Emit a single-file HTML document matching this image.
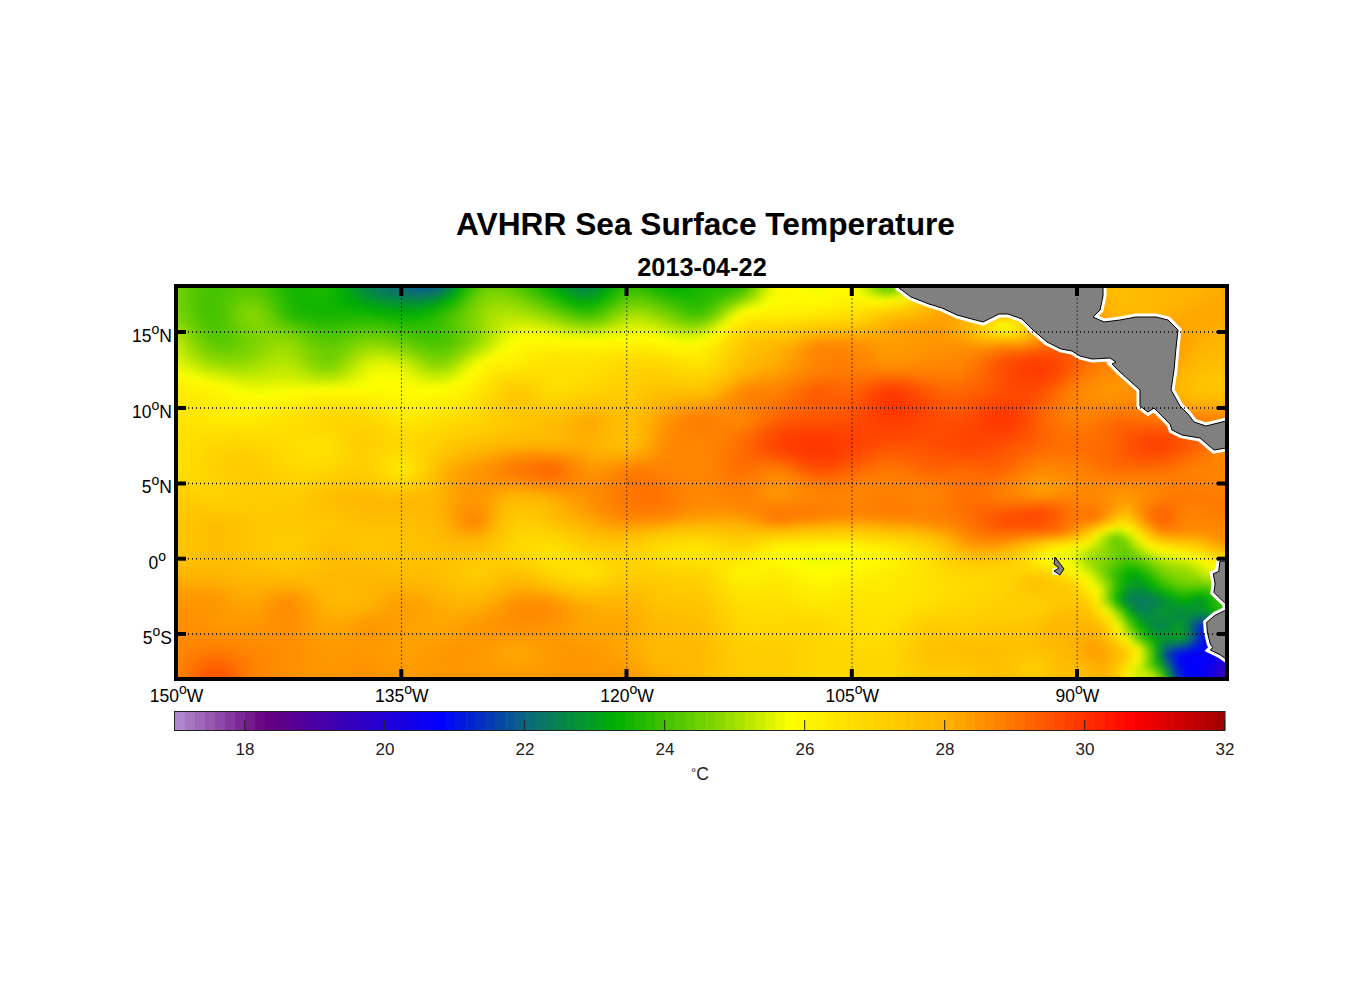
<!DOCTYPE html>
<html><head><meta charset="utf-8"><style>
html,body{margin:0;padding:0;background:#fff;}
body{width:1356px;height:1000px;position:relative;overflow:hidden;font-family:"Liberation Sans",sans-serif;color:#000;}
.t{position:absolute;white-space:nowrap;}
#title{left:0;width:1411px;top:202.3px;text-align:center;font-size:31.7px;font-weight:bold;line-height:44px;}
#date{left:0;width:1404px;top:248.5px;text-align:center;font-size:25.3px;font-weight:bold;line-height:36px;}
#fieldclip{position:absolute;left:178px;top:288px;width:1047px;height:389px;overflow:hidden;}
#field{position:absolute;left:-10px;top:-10px;width:1068px;height:410px;filter:blur(3px);}
#field i{position:absolute;left:0;width:1068px;height:5px;display:block;}
.yl{position:absolute;right:1184px;font-size:17.5px;line-height:22px;white-space:nowrap;}
.xl{position:absolute;top:684.5px;width:100px;text-align:center;font-size:17.5px;line-height:22px;white-space:nowrap;}
.cl{position:absolute;top:738.5px;width:60px;text-align:center;font-size:17px;line-height:22px;color:#222;}
sup{font-size:14px;vertical-align:8.5px;line-height:0;}
#cbar{position:absolute;left:174.7px;top:712px;width:1050px;height:18px;background:linear-gradient(90deg,#b087cc 0.0px 10.0px,#a777c3 10.0px 20.0px,#9f68ba 20.0px 30.0px,#9658b1 30.0px 40.0px,#8d48a8 40.0px 50.0px,#8539a0 50.0px 60.0px,#7c2997 60.0px 70.0px,#74198e 70.0px 80.0px,#6b0985 80.0px 90.0px,#640083 90.0px 100.0px,#5e008a 100.0px 110.0px,#580091 110.0px 120.0px,#520099 120.0px 130.0px,#4c00a0 130.0px 140.0px,#4700a7 140.0px 150.0px,#4100ae 150.0px 160.0px,#3b00b6 160.0px 170.0px,#3500bd 170.0px 180.0px,#2f00c4 180.0px 190.0px,#2900cb 190.0px 200.0px,#2400d3 200.0px 210.0px,#1e00da 210.0px 220.0px,#1800e1 220.0px 230.0px,#1200e9 230.0px 240.0px,#0c00f0 240.0px 250.0px,#0600f7 250.0px 260.0px,#0100fe 260.0px 270.0px,#010bf1 270.0px 280.0px,#0217e2 280.0px 290.0px,#0323d2 290.0px 300.0px,#042fc3 300.0px 310.0px,#053bb4 310.0px 320.0px,#0647a4 320.0px 330.0px,#085395 330.0px 340.0px,#095f85 340.0px 350.0px,#0a6c76 350.0px 360.0px,#097468 360.0px 370.0px,#087c5a 370.0px 380.0px,#07844d 380.0px 390.0px,#058c3f 390.0px 400.0px,#049431 400.0px 410.0px,#039c24 410.0px 420.0px,#02a316 420.0px 430.0px,#01ab08 430.0px 440.0px,#05b200 440.0px 450.0px,#13b500 450.0px 460.0px,#20b900 460.0px 470.0px,#2dbd00 470.0px 480.0px,#3bc100 480.0px 490.0px,#48c500 490.0px 500.0px,#55c800 500.0px 510.0px,#63cc00 510.0px 520.0px,#70d000 520.0px 530.0px,#7dd400 530.0px 540.0px,#8bd800 540.0px 550.0px,#9bdd00 550.0px 560.0px,#abe300 560.0px 570.0px,#bce800 570.0px 580.0px,#ccee00 580.0px 590.0px,#dcf300 590.0px 600.0px,#edf900 600.0px 610.0px,#fdfe00 610.0px 620.0px,#fffa00 620.0px 630.0px,#fff400 630.0px 640.0px,#ffef00 640.0px 650.0px,#ffe900 650.0px 660.0px,#ffe400 660.0px 670.0px,#ffdf00 670.0px 680.0px,#ffda00 680.0px 690.0px,#ffd600 690.0px 700.0px,#ffd100 700.0px 710.0px,#ffcd00 710.0px 720.0px,#ffc800 720.0px 730.0px,#ffc400 730.0px 740.0px,#ffbf00 740.0px 750.0px,#ffbb00 750.0px 760.0px,#ffb600 760.0px 770.0px,#ffaf00 770.0px 780.0px,#ffa600 780.0px 790.0px,#ff9d00 790.0px 800.0px,#ff9400 800.0px 810.0px,#ff8a00 810.0px 820.0px,#ff8100 820.0px 830.0px,#ff7700 830.0px 840.0px,#ff6e00 840.0px 850.0px,#ff6400 850.0px 860.0px,#ff5b00 860.0px 870.0px,#ff5100 870.0px 880.0px,#ff4800 880.0px 890.0px,#ff3e00 890.0px 900.0px,#ff3500 900.0px 910.0px,#ff2b00 910.0px 920.0px,#ff2100 920.0px 930.0px,#ff1800 930.0px 940.0px,#ff0e00 940.0px 950.0px,#ff0400 950.0px 960.0px,#f90000 960.0px 970.0px,#ee0000 970.0px 980.0px,#e40000 980.0px 990.0px,#d90000 990.0px 1000.0px,#cf0000 1000.0px 1010.0px,#c50000 1010.0px 1020.0px,#ba0000 1020.0px 1030.0px,#b00000 1030.0px 1040.0px,#a50000 1040.0px 1050.0px);}
#degc{position:absolute;left:650px;width:100px;text-align:center;top:762px;font-size:17.5px;line-height:22px;color:#222;}
</style></head><body>
<div id="title" class="t">AVHRR Sea Surface Temperature</div>
<div id="date" class="t">2013-04-22</div>
<div id="fieldclip"><div id="field"><i style="top:0px;background:linear-gradient(90deg,#6fd000 0px,#6fd000 10px,#5ecb00 20px,#4fc700 30px,#45c400 40px,#43c300 50px,#49c500 60px,#51c700 70px,#54c800 80px,#4ec600 90px,#3dc100 100px,#29bc00 110px,#17b700 120px,#11b500 130px,#14b600 140px,#1ab700 150px,#19b700 160px,#05b100 170px,#02a218 180px,#059137 190px,#078251 200px,#087861 210px,#0a716e 220px,#0a6979 230px,#096184 240px,#085a8c 250px,#08598d 260px,#096480 270px,#077f55 280px,#02a219 290px,#22ba00 300px,#51c700 310px,#64cc00 320px,#66cd00 330px,#5fcb00 340px,#4fc700 350px,#3ac100 360px,#21b900 370px,#05b100 380px,#02a218 390px,#049333 400px,#068846 410px,#07854c 420px,#059038 430px,#02a414 440px,#11b500 450px,#2cbc00 460px,#2cbd00 470px,#1fb900 480px,#0db400 490px,#01b000 500px,#01b000 510px,#09b300 520px,#14b600 530px,#1ab700 540px,#1ab700 550px,#1eb900 560px,#2dbd00 570px,#57c900 580px,#90d900 590px,#d3f000 600px,#fffd00 610px,#fffb00 620px,#feff00 630px,#f0fa00 640px,#ebf800 650px,#f6fc00 660px,#fffd00 670px,#fffb00 680px,#eef900 690px,#b3e500 700px,#7bd300 710px,#5ecb00 720px,#7dd400 730px,#cfef00 740px,#ffef00 750px,#ffd500 760px,#ffc600 770px,#ffb900 780px,#ffaf00 790px,#ffaa00 800px,#ffb100 810px,#ffb800 820px,#ffbf00 830px,#ffc000 840px,#ffba00 850px,#ffb400 860px,#ffaa00 870px,#ffa300 880px,#ffa100 890px,#ffa300 900px,#ffa800 910px,#ffb200 920px,#ffb800 930px,#ffbc00 940px,#ffbf00 950px,#ffbe00 960px,#ffbb00 970px,#ffb800 980px,#ffb700 990px,#ffb600 1000px,#ffb700 1010px,#ffb600 1020px,#ffb500 1030px,#ffb100 1040px,#ffac00 1050px,#ffa900 1060px,#ffa900 1070px)"></i><i style="top:5px;background:linear-gradient(90deg,#6fd000 0px,#6fd000 10px,#5ecb00 20px,#4fc700 30px,#45c400 40px,#43c300 50px,#49c500 60px,#51c700 70px,#54c800 80px,#4ec600 90px,#3dc100 100px,#29bc00 110px,#17b700 120px,#11b500 130px,#14b600 140px,#1ab700 150px,#19b700 160px,#05b100 170px,#02a218 180px,#059137 190px,#078251 200px,#087861 210px,#0a716e 220px,#0a6979 230px,#096184 240px,#085a8c 250px,#08598d 260px,#096480 270px,#077f55 280px,#02a219 290px,#22ba00 300px,#51c700 310px,#64cc00 320px,#66cd00 330px,#5fcb00 340px,#4fc700 350px,#3ac100 360px,#21b900 370px,#05b100 380px,#02a218 390px,#049333 400px,#068846 410px,#07854c 420px,#059038 430px,#02a414 440px,#11b500 450px,#2cbc00 460px,#2cbd00 470px,#1fb900 480px,#0db400 490px,#01b000 500px,#01b000 510px,#09b300 520px,#14b600 530px,#1ab700 540px,#1ab700 550px,#1eb900 560px,#2dbd00 570px,#57c900 580px,#90d900 590px,#d3f000 600px,#fffd00 610px,#fffb00 620px,#feff00 630px,#f0fa00 640px,#ebf800 650px,#f6fc00 660px,#fffd00 670px,#fffb00 680px,#eef900 690px,#b3e500 700px,#7bd300 710px,#5ecb00 720px,#7dd400 730px,#cfef00 740px,#ffef00 750px,#ffd500 760px,#ffc600 770px,#ffb900 780px,#ffaf00 790px,#ffaa00 800px,#ffb100 810px,#ffb800 820px,#ffbf00 830px,#ffc000 840px,#ffba00 850px,#ffb400 860px,#ffaa00 870px,#ffa300 880px,#ffa100 890px,#ffa300 900px,#ffa800 910px,#ffb200 920px,#ffb800 930px,#ffbc00 940px,#ffbf00 950px,#ffbe00 960px,#ffbb00 970px,#ffb800 980px,#ffb700 990px,#ffb600 1000px,#ffb700 1010px,#ffb600 1020px,#ffb500 1030px,#ffb100 1040px,#ffac00 1050px,#ffa900 1060px,#ffa900 1070px)"></i><i style="top:10px;background:linear-gradient(90deg,#70d000 0px,#70d000 10px,#5fcb00 20px,#4fc700 30px,#45c400 40px,#44c300 50px,#4bc500 60px,#54c800 70px,#59c900 80px,#53c800 90px,#41c300 100px,#2cbc00 110px,#19b700 120px,#12b500 130px,#15b600 140px,#1ab700 150px,#19b700 160px,#07b200 170px,#02a514 180px,#049431 190px,#068649 200px,#087d59 210px,#097665 220px,#0a716e 230px,#0a6a78 240px,#09657f 250px,#09657f 260px,#0a6f71 270px,#068747 280px,#01a90d 290px,#2dbd00 300px,#5aca00 310px,#6ecf00 320px,#71d000 330px,#69ce00 340px,#5aca00 350px,#45c400 360px,#2bbc00 370px,#10b400 380px,#01a80d 390px,#049928 400px,#058e3c 410px,#068a41 420px,#04962e 430px,#01aa0a 440px,#1cb800 450px,#36bf00 460px,#38c000 470px,#2bbc00 480px,#18b700 490px,#0ab300 500px,#08b200 510px,#0eb400 520px,#19b700 530px,#1fb900 540px,#21ba00 550px,#28bb00 560px,#39c000 570px,#62cc00 580px,#9cdd00 590px,#dcf300 600px,#fffc00 610px,#fffa00 620px,#fffe00 630px,#f6fc00 640px,#f2fb00 650px,#fdfe00 660px,#fffb00 670px,#fff800 680px,#fafd00 690px,#c3eb00 700px,#8cd800 710px,#73d100 720px,#92da00 730px,#e4f600 740px,#ffe900 750px,#ffd100 760px,#ffc100 770px,#ffb500 780px,#ffa800 790px,#ffa200 800px,#ffa800 810px,#ffb300 820px,#ffb900 830px,#ffba00 840px,#ffb500 850px,#ffab00 860px,#ffa200 870px,#ff9b00 880px,#ff9900 890px,#ff9c00 900px,#ffa300 910px,#ffae00 920px,#ffb700 930px,#ffbb00 940px,#ffbe00 950px,#ffbe00 960px,#ffbb00 970px,#ffb800 980px,#ffb600 990px,#ffb600 1000px,#ffb600 1010px,#ffb600 1020px,#ffb400 1030px,#ffaf00 1040px,#ffab00 1050px,#ffa800 1060px,#ffa800 1070px)"></i><i style="top:15px;background:linear-gradient(90deg,#70d000 0px,#70d000 10px,#5ecb00 20px,#4fc700 30px,#46c400 40px,#46c400 50px,#50c700 60px,#5bca00 70px,#62cc00 80px,#5cca00 90px,#4ac500 100px,#32be00 110px,#1eb800 120px,#14b600 130px,#14b600 140px,#18b700 150px,#16b600 160px,#09b300 170px,#01a90c 180px,#039c23 190px,#059037 200px,#068845 210px,#078250 220px,#087d59 230px,#08795f 240px,#097763 250px,#087a5f 260px,#07834e 270px,#039928 280px,#0cb400 290px,#40c200 300px,#69ce00 310px,#7dd400 320px,#82d500 330px,#7bd300 340px,#6dcf00 350px,#59ca00 360px,#41c300 370px,#26bb00 380px,#09b300 390px,#02a612 400px,#039b25 410px,#049929 420px,#02a316 430px,#0cb400 440px,#31be00 450px,#4ac500 460px,#4ec600 470px,#42c300 480px,#2fbd00 490px,#1fb900 500px,#18b700 510px,#18b700 520px,#1fb900 530px,#27bb00 540px,#31be00 550px,#41c300 560px,#5aca00 570px,#80d500 580px,#b5e600 590px,#e9f800 600px,#fffb00 610px,#fff800 620px,#fffb00 630px,#fffe00 640px,#ffff00 650px,#fffb00 660px,#fff700 670px,#fff500 680px,#fffa00 690px,#e7f700 700px,#c2ea00 710px,#b3e500 720px,#d2f000 730px,#fff700 740px,#ffdd00 750px,#ffca00 760px,#ffba00 770px,#ffab00 780px,#ff9e00 790px,#ff9900 800px,#ff9b00 810px,#ff9f00 820px,#ffa400 830px,#ffa500 840px,#ffa100 850px,#ff9a00 860px,#ff9100 870px,#ff8c00 880px,#ff8b00 890px,#ff9000 900px,#ff9900 910px,#ffa600 920px,#ffb300 930px,#ffb900 940px,#ffbd00 950px,#ffbd00 960px,#ffbb00 970px,#ffb900 980px,#ffb700 990px,#ffb600 1000px,#ffb500 1010px,#ffb400 1020px,#ffb100 1030px,#ffad00 1040px,#ffa900 1050px,#ffa700 1060px,#ffa700 1070px)"></i><i style="top:20px;background:linear-gradient(90deg,#71d000 0px,#71d000 10px,#5ecb00 20px,#4fc600 30px,#46c400 40px,#48c400 50px,#53c800 60px,#63cc00 70px,#6ccf00 80px,#67cd00 90px,#53c800 100px,#38c000 110px,#21ba00 120px,#15b600 130px,#13b500 140px,#14b600 150px,#13b500 160px,#0ab300 170px,#00ae04 180px,#02a415 190px,#039b24 200px,#049430 210px,#058f3a 220px,#068b41 230px,#068845 240px,#068845 250px,#058d3d 260px,#049929 270px,#01ac07 280px,#25bb00 290px,#51c700 300px,#75d100 310px,#89d700 320px,#90d900 330px,#8bd800 340px,#7fd400 350px,#6dcf00 360px,#57c900 370px,#3ec200 380px,#22ba00 390px,#08b200 400px,#01aa0b 410px,#01a80f 420px,#03b100 430px,#23ba00 440px,#46c400 450px,#5ecb00 460px,#64cc00 470px,#59ca00 480px,#47c400 490px,#35bf00 500px,#28bc00 510px,#22ba00 520px,#24ba00 530px,#2fbd00 540px,#43c300 550px,#5ecb00 560px,#7ed400 570px,#a6e100 580px,#d1ef00 590px,#f5fc00 600px,#fffb00 610px,#fff800 620px,#fff900 630px,#fffb00 640px,#fffb00 650px,#fff700 660px,#fff300 670px,#fff100 680px,#fff400 690px,#fffa00 700px,#ffff00 710px,#ffff00 720px,#fff600 730px,#ffe500 740px,#ffd300 750px,#ffc400 760px,#ffb500 770px,#ffa400 780px,#ff9a00 790px,#ff9500 800px,#ff9400 810px,#ff9200 820px,#ff8f00 830px,#ff9000 840px,#ff9200 850px,#ff8d00 860px,#ff8600 870px,#ff8100 880px,#ff8100 890px,#ff8600 900px,#ff9000 910px,#ff9e00 920px,#ffae00 930px,#ffb700 940px,#ffbb00 950px,#ffbc00 960px,#ffbb00 970px,#ffb900 980px,#ffb700 990px,#ffb500 1000px,#ffb400 1010px,#ffb100 1020px,#ffae00 1030px,#ffab00 1040px,#ffa800 1050px,#ffa600 1060px,#ffa600 1070px)"></i><i style="top:25px;background:linear-gradient(90deg,#73d100 0px,#73d100 10px,#5fcb00 20px,#4ec600 30px,#45c400 40px,#47c400 50px,#56c900 60px,#69ce00 70px,#76d200 80px,#72d100 90px,#5dca00 100px,#3fc200 110px,#25ba00 120px,#16b600 130px,#12b500 140px,#12b500 150px,#10b500 160px,#0cb300 170px,#04b100 180px,#01ad06 190px,#01a711 200px,#02a11a 210px,#039c22 220px,#039928 230px,#04982a 240px,#039927 250px,#02a01c 260px,#01ad06 270px,#17b700 280px,#3bc100 290px,#60cb00 300px,#7fd400 310px,#94db00 320px,#9dde00 330px,#9add00 340px,#8fd900 350px,#81d500 360px,#6ecf00 370px,#57c900 380px,#3dc100 390px,#23ba00 400px,#10b400 410px,#0bb300 420px,#1bb800 430px,#3bc100 440px,#5dcb00 450px,#75d100 460px,#7ad300 470px,#71d000 480px,#60cb00 490px,#4cc600 500px,#3ac100 510px,#2dbd00 520px,#2bbc00 530px,#39c000 540px,#58c900 550px,#7ed400 560px,#abe200 570px,#d2f000 580px,#effa00 590px,#fffe00 600px,#fff900 610px,#fff700 620px,#fff600 630px,#fff700 640px,#fff600 650px,#fff300 660px,#ffef00 670px,#ffed00 680px,#ffec00 690px,#ffec00 700px,#ffea00 710px,#ffe500 720px,#ffde00 730px,#ffd500 740px,#ffca00 750px,#ffbd00 760px,#ffaf00 770px,#ffa100 780px,#ff9a00 790px,#ff9800 800px,#ff9600 810px,#ff9000 820px,#ff8600 830px,#ff8700 840px,#ff8f00 850px,#ff8c00 860px,#ff8100 870px,#ff7900 880px,#ff7900 890px,#ff7f00 900px,#ff8800 910px,#ff9700 920px,#ffa800 930px,#ffb600 940px,#ffba00 950px,#ffbb00 960px,#ffbb00 970px,#ffb900 980px,#ffb700 990px,#ffb500 1000px,#ffb100 1010px,#ffae00 1020px,#ffab00 1030px,#ffa900 1040px,#ffa700 1050px,#ffa700 1060px,#ffa700 1070px)"></i><i style="top:30px;background:linear-gradient(90deg,#76d200 0px,#76d200 10px,#61cc00 20px,#4fc700 30px,#44c300 40px,#46c400 50px,#57c900 60px,#6ed000 70px,#80d500 80px,#7ed400 90px,#66cd00 100px,#46c400 110px,#29bc00 120px,#19b700 130px,#14b600 140px,#12b500 150px,#11b500 160px,#10b500 170px,#0eb400 180px,#0ab300 190px,#03b100 200px,#00ae04 210px,#01aa0b 220px,#01a710 230px,#01a611 240px,#01a90c 250px,#01b000 260px,#17b700 270px,#30be00 280px,#4cc600 290px,#6ccf00 300px,#87d700 310px,#9dde00 320px,#a7e100 330px,#a8e200 340px,#a1df00 350px,#95db00 360px,#84d600 370px,#71d000 380px,#59c900 390px,#40c200 400px,#2cbd00 410px,#25bb00 420px,#35bf00 430px,#54c800 440px,#75d100 450px,#8dd800 460px,#92da00 470px,#88d700 480px,#77d200 490px,#63cc00 500px,#4dc600 510px,#3cc100 520px,#35bf00 530px,#47c400 540px,#6fd000 550px,#a3e000 560px,#dbf300 570px,#feff00 580px,#fffa00 590px,#fff700 600px,#fff600 610px,#fff400 620px,#fff200 630px,#fff100 640px,#fff000 650px,#ffec00 660px,#ffe900 670px,#ffe700 680px,#ffe300 690px,#ffde00 700px,#ffd900 710px,#ffd200 720px,#ffcd00 730px,#ffc800 740px,#ffbf00 750px,#ffb600 760px,#ffaa00 770px,#ffa100 780px,#ff9f00 790px,#ffa100 800px,#ffa400 810px,#ffa000 820px,#ff9200 830px,#ff9600 840px,#ffa300 850px,#ff9800 860px,#ff8200 870px,#ff7600 880px,#ff7400 890px,#ff7900 900px,#ff8300 910px,#ff9100 920px,#ffa300 930px,#ffb300 940px,#ffb900 950px,#ffba00 960px,#ffb900 970px,#ffb800 980px,#ffb600 990px,#ffb300 1000px,#ffae00 1010px,#ffab00 1020px,#ffa900 1030px,#ffa800 1040px,#ffa700 1050px,#ffa700 1060px,#ffa700 1070px)"></i><i style="top:35px;background:linear-gradient(90deg,#7bd300 0px,#7bd300 10px,#65cd00 20px,#52c700 30px,#45c400 40px,#46c400 50px,#58c900 60px,#70d000 70px,#84d600 80px,#84d600 90px,#6ecf00 100px,#50c700 110px,#32be00 120px,#22ba00 130px,#1cb800 140px,#18b700 150px,#16b600 160px,#18b700 170px,#1ab700 180px,#1ab700 190px,#17b700 200px,#11b500 210px,#0cb300 220px,#07b200 230px,#06b200 240px,#0ab300 250px,#17b700 260px,#2bbc00 270px,#40c200 280px,#58c900 290px,#73d100 300px,#8cd800 310px,#a2e000 320px,#b0e400 330px,#b5e600 340px,#b3e500 350px,#abe200 360px,#9dde00 370px,#8ad700 380px,#75d100 390px,#5ecb00 400px,#4bc500 410px,#44c300 420px,#52c700 430px,#6ecf00 440px,#8cd800 450px,#a7e100 460px,#abe300 470px,#a1df00 480px,#8ed900 490px,#79d300 500px,#63cc00 510px,#51c700 520px,#49c500 530px,#5dca00 540px,#8ad700 550px,#caed00 560px,#fffd00 570px,#fff200 580px,#ffef00 590px,#ffef00 600px,#ffef00 610px,#ffed00 620px,#ffea00 630px,#ffe900 640px,#ffe700 650px,#ffe300 660px,#ffdf00 670px,#ffde00 680px,#ffda00 690px,#ffd400 700px,#ffcc00 710px,#ffc300 720px,#ffbd00 730px,#ffba00 740px,#ffb600 750px,#ffad00 760px,#ffa500 770px,#ffa100 780px,#ffa500 790px,#ffae00 800px,#ffb700 810px,#ffbc00 820px,#ffbd00 830px,#ffc100 840px,#ffc100 850px,#ffb200 860px,#ff8d00 870px,#ff7a00 880px,#ff7300 890px,#ff7600 900px,#ff8000 910px,#ff8d00 920px,#ff9d00 930px,#ffad00 940px,#ffb600 950px,#ffb700 960px,#ffb600 970px,#ffb600 980px,#ffb400 990px,#ffaf00 1000px,#ffab00 1010px,#ffa900 1020px,#ffa800 1030px,#ffa800 1040px,#ffa800 1050px,#ffa900 1060px,#ffa900 1070px)"></i><i style="top:40px;background:linear-gradient(90deg,#84d600 0px,#84d600 10px,#6ccf00 20px,#57c900 30px,#49c500 40px,#49c500 50px,#58c900 60px,#6ed000 70px,#81d500 80px,#83d600 90px,#74d100 100px,#5cca00 110px,#43c300 120px,#32be00 130px,#29bc00 140px,#23ba00 150px,#21b900 160px,#23ba00 170px,#27bb00 180px,#2abc00 190px,#2abc00 200px,#26bb00 210px,#21b900 220px,#1cb800 230px,#19b700 240px,#1cb800 250px,#25bb00 260px,#35bf00 270px,#48c400 280px,#5dca00 290px,#75d100 300px,#8dd800 310px,#a5e000 320px,#b6e600 330px,#c1ea00 340px,#c4eb00 350px,#c0ea00 360px,#b6e600 370px,#a7e100 380px,#91da00 390px,#7dd400 400px,#6dcf00 410px,#68ce00 420px,#72d100 430px,#89d700 440px,#a6e100 450px,#bce800 460px,#c1ea00 470px,#b8e700 480px,#a7e100 490px,#90d900 500px,#7bd300 510px,#6bcf00 520px,#68ce00 530px,#7dd400 540px,#afe400 550px,#eef900 560px,#fff200 570px,#ffe700 580px,#ffe400 590px,#ffe400 600px,#ffe400 610px,#ffe200 620px,#ffdf00 630px,#ffdd00 640px,#ffdb00 650px,#ffd800 660px,#ffd600 670px,#ffd300 680px,#ffd000 690px,#ffca00 700px,#ffc100 710px,#ffb800 720px,#ffb300 730px,#ffaf00 740px,#ffaa00 750px,#ffa500 760px,#ffa100 770px,#ffa200 780px,#ffaa00 790px,#ffb600 800px,#ffc200 810px,#ffd000 820px,#ffdf00 830px,#ffe800 840px,#ffd700 850px,#ffc200 860px,#ff9f00 870px,#ff8200 880px,#ff7700 890px,#ff7600 900px,#ff7e00 910px,#ff8900 920px,#ff9700 930px,#ffa500 940px,#ffad00 950px,#ffb000 960px,#ffb000 970px,#ffaf00 980px,#ffac00 990px,#ffaa00 1000px,#ffa800 1010px,#ffa700 1020px,#ffa800 1030px,#ffa900 1040px,#ffaa00 1050px,#ffab00 1060px,#ffab00 1070px)"></i><i style="top:45px;background:linear-gradient(90deg,#8ed900 0px,#8ed900 10px,#75d100 20px,#5ecb00 30px,#4ec600 40px,#4cc600 50px,#58c900 60px,#6bcf00 70px,#7bd300 80px,#81d500 90px,#79d300 100px,#69ce00 110px,#57c900 120px,#46c400 130px,#3ac100 140px,#31be00 150px,#2ebd00 160px,#31be00 170px,#37c000 180px,#3cc100 190px,#3ec200 200px,#3bc100 210px,#35bf00 220px,#2fbd00 230px,#2abc00 240px,#2abc00 250px,#2fbd00 260px,#3ac000 270px,#49c500 280px,#5dcb00 290px,#74d100 300px,#8bd800 310px,#a6e100 320px,#bce800 330px,#ccee00 340px,#d4f100 350px,#d5f100 360px,#cfef00 370px,#c3eb00 380px,#b2e500 390px,#9fdf00 400px,#91da00 410px,#8cd800 420px,#96db00 430px,#a9e200 440px,#bfe900 450px,#cfef00 460px,#d4f000 470px,#ceee00 480px,#bfe900 490px,#abe200 500px,#96db00 510px,#88d700 520px,#8ad700 530px,#a4e000 540px,#d6f100 550px,#fff900 560px,#ffe800 570px,#ffde00 580px,#ffda00 590px,#ffda00 600px,#ffd900 610px,#ffd800 620px,#ffd400 630px,#ffd100 640px,#ffce00 650px,#ffcc00 660px,#ffca00 670px,#ffc800 680px,#ffc500 690px,#ffbf00 700px,#ffb800 710px,#ffaf00 720px,#ffa700 730px,#ffa400 740px,#ffa100 750px,#ff9f00 760px,#ff9e00 770px,#ffa100 780px,#ffab00 790px,#ffb900 800px,#ffc800 810px,#ffda00 820px,#fff700 830px,#f0fa00 840px,#ffe500 850px,#ffca00 860px,#ffab00 870px,#ff8800 880px,#ff7b00 890px,#ff7700 900px,#ff7d00 910px,#ff8500 920px,#ff9100 930px,#ff9b00 940px,#ffa200 950px,#ffa500 960px,#ffa500 970px,#ffa400 980px,#ffa300 990px,#ffa300 1000px,#ffa400 1010px,#ffa600 1020px,#ffa800 1030px,#ffaa00 1040px,#ffad00 1050px,#ffaf00 1060px,#ffaf00 1070px)"></i><i style="top:50px;background:linear-gradient(90deg,#9cde00 0px,#9cde00 10px,#7fd400 20px,#66cd00 30px,#53c800 40px,#4ec600 50px,#57c900 60px,#67cd00 70px,#77d200 80px,#7fd400 90px,#7fd400 100px,#77d200 110px,#6bcf00 120px,#5bca00 130px,#4cc600 140px,#41c300 150px,#3cc100 160px,#3fc200 170px,#47c400 180px,#4fc600 190px,#52c800 200px,#50c700 210px,#4ac500 220px,#41c300 230px,#3ac000 240px,#35bf00 250px,#35bf00 260px,#3cc100 270px,#49c500 280px,#5cca00 290px,#72d100 300px,#8ad700 310px,#a7e100 320px,#c3eb00 330px,#d8f200 340px,#e5f600 350px,#e9f700 360px,#e6f700 370px,#def400 380px,#d2f000 390px,#c4eb00 400px,#bae800 410px,#b7e700 420px,#bde900 430px,#caed00 440px,#d8f200 450px,#e3f600 460px,#e7f700 470px,#e3f600 480px,#d7f200 490px,#c7ec00 500px,#b6e600 510px,#ace300 520px,#b2e500 530px,#cdee00 540px,#fcfe00 550px,#ffee00 560px,#ffde00 570px,#ffd600 580px,#ffd200 590px,#ffd100 600px,#ffd000 610px,#ffcd00 620px,#ffc900 630px,#ffc500 640px,#ffc000 650px,#ffbe00 660px,#ffbd00 670px,#ffbb00 680px,#ffb900 690px,#ffb500 700px,#ffaf00 710px,#ffa700 720px,#ffa100 730px,#ff9e00 740px,#ff9c00 750px,#ff9b00 760px,#ff9b00 770px,#ff9f00 780px,#ffa900 790px,#ffb800 800px,#ffc700 810px,#ffd800 820px,#ffed00 830px,#fff500 840px,#ffdf00 850px,#ffc800 860px,#ffab00 870px,#ff8900 880px,#ff7b00 890px,#ff7700 900px,#ff7c00 910px,#ff8300 920px,#ff8b00 930px,#ff9200 940px,#ff9800 950px,#ff9a00 960px,#ff9900 970px,#ff9800 980px,#ff9900 990px,#ff9c00 1000px,#ffa100 1010px,#ffa500 1020px,#ffa900 1030px,#ffad00 1040px,#ffb000 1050px,#ffb200 1060px,#ffb200 1070px)"></i><i style="top:55px;background:linear-gradient(90deg,#ace300 0px,#ace300 10px,#8ad700 20px,#6ecf00 30px,#59c900 40px,#51c700 50px,#57c900 60px,#65cd00 70px,#74d100 80px,#7fd400 90px,#84d600 100px,#84d600 110px,#7ed400 120px,#6fd000 130px,#5dcb00 140px,#4fc700 150px,#4ac500 160px,#4dc600 170px,#57c900 180px,#61cc00 190px,#67cd00 200px,#65cd00 210px,#5ecb00 220px,#53c800 230px,#49c500 240px,#41c300 250px,#3cc100 260px,#3ec200 270px,#49c500 280px,#5cca00 290px,#72d100 300px,#8ad700 310px,#abe200 320px,#cbed00 330px,#e4f600 340px,#f5fb00 350px,#fbfe00 360px,#fcfe00 370px,#f7fc00 380px,#effa00 390px,#e6f700 400px,#e0f400 410px,#dff400 420px,#e2f500 430px,#e9f700 440px,#f1fa00 450px,#f8fd00 460px,#fbfe00 470px,#f9fd00 480px,#f0fa00 490px,#e3f500 500px,#d5f100 510px,#cfef00 520px,#d7f200 530px,#f2fb00 540px,#fff500 550px,#ffe400 560px,#ffd600 570px,#ffce00 580px,#ffcb00 590px,#ffc900 600px,#ffc700 610px,#ffc300 620px,#ffbd00 630px,#ffb600 640px,#ffaf00 650px,#ffad00 660px,#ffac00 670px,#ffaa00 680px,#ffa800 690px,#ffa700 700px,#ffa500 710px,#ffa200 720px,#ff9f00 730px,#ff9c00 740px,#ff9a00 750px,#ff9900 760px,#ff9900 770px,#ff9b00 780px,#ffa200 790px,#ffb100 800px,#ffbe00 810px,#ffca00 820px,#ffd300 830px,#ffd600 840px,#ffcf00 850px,#ffbd00 860px,#ff9f00 870px,#ff8400 880px,#ff7800 890px,#ff7500 900px,#ff7a00 910px,#ff8000 920px,#ff8500 930px,#ff8a00 940px,#ff8e00 950px,#ff9000 960px,#ff8f00 970px,#ff8e00 980px,#ff9000 990px,#ff9700 1000px,#ff9e00 1010px,#ffa500 1020px,#ffab00 1030px,#ffaf00 1040px,#ffb300 1050px,#ffb500 1060px,#ffb500 1070px)"></i><i style="top:60px;background:linear-gradient(90deg,#b9e700 0px,#b9e700 10px,#96db00 20px,#77d200 30px,#60cc00 40px,#56c800 50px,#5bca00 60px,#67cd00 70px,#74d100 80px,#80d500 90px,#8ad700 100px,#8fd900 110px,#8dd800 120px,#7fd400 130px,#6bcf00 140px,#5cca00 150px,#56c800 160px,#5aca00 170px,#66cd00 180px,#73d100 190px,#7bd300 200px,#7ad300 210px,#73d100 220px,#67cd00 230px,#5aca00 240px,#4ec600 250px,#45c400 260px,#43c300 270px,#4dc600 280px,#61cc00 290px,#77d200 300px,#8fd900 310px,#b3e500 320px,#d5f100 330px,#f0fa00 340px,#fffe00 350px,#fffb00 360px,#fffa00 370px,#fffa00 380px,#fffb00 390px,#fffd00 400px,#ffff00 410px,#fffe00 420px,#fffe00 430px,#fffd00 440px,#fffb00 450px,#fffa00 460px,#fff900 470px,#fff900 480px,#fffc00 490px,#feff00 500px,#f3fb00 510px,#eff900 520px,#f7fc00 530px,#fff900 540px,#ffec00 550px,#ffdc00 560px,#ffd000 570px,#ffc800 580px,#ffc400 590px,#ffc100 600px,#ffbe00 610px,#ffb900 620px,#ffb200 630px,#ffa200 640px,#ff9700 650px,#ff9700 660px,#ff9700 670px,#ff9700 680px,#ff9800 690px,#ff9c00 700px,#ff9e00 710px,#ff9f00 720px,#ff9d00 730px,#ff9b00 740px,#ff9800 750px,#ff9700 760px,#ff9600 770px,#ff9700 780px,#ff9a00 790px,#ffa200 800px,#ffb000 810px,#ffb700 820px,#ffb600 830px,#ffb800 840px,#ffb700 850px,#ffa600 860px,#ff8b00 870px,#ff7a00 880px,#ff7000 890px,#ff7000 900px,#ff7600 910px,#ff7d00 920px,#ff8100 930px,#ff8500 940px,#ff8700 950px,#ff8800 960px,#ff8700 970px,#ff8700 980px,#ff8a00 990px,#ff9300 1000px,#ff9d00 1010px,#ffa600 1020px,#ffad00 1030px,#ffb200 1040px,#ffb500 1050px,#ffb700 1060px,#ffb700 1070px)"></i><i style="top:65px;background:linear-gradient(90deg,#c1ea00 0px,#c1ea00 10px,#a1df00 20px,#81d500 30px,#6bcf00 40px,#60cb00 50px,#62cc00 60px,#6bcf00 70px,#77d200 80px,#84d600 90px,#90d900 100px,#99dc00 110px,#97dc00 120px,#89d700 130px,#76d200 140px,#66cd00 150px,#60cb00 160px,#65cd00 170px,#73d100 180px,#83d500 190px,#8ed900 200px,#8fd900 210px,#88d700 220px,#7cd300 230px,#6dcf00 240px,#5ecb00 250px,#52c800 260px,#4ec600 270px,#57c900 280px,#6ace00 290px,#82d500 300px,#9fdf00 310px,#c2ea00 320px,#e1f500 330px,#fbfe00 340px,#fffa00 350px,#fff600 360px,#fff400 370px,#fff300 380px,#fff400 390px,#fff500 400px,#fff600 410px,#fff500 420px,#fff500 430px,#fff400 440px,#fff300 450px,#fff200 460px,#fff100 470px,#fff100 480px,#fff300 490px,#fff600 500px,#fffa00 510px,#fffb00 520px,#fff900 530px,#fff100 540px,#ffe400 550px,#ffd800 560px,#ffcc00 570px,#ffc400 580px,#ffbf00 590px,#ffbb00 600px,#ffb800 610px,#ffb100 620px,#ffa400 630px,#ff9500 640px,#ff8b00 650px,#ff8900 660px,#ff8a00 670px,#ff8b00 680px,#ff8f00 690px,#ff9400 700px,#ff9900 710px,#ff9c00 720px,#ff9c00 730px,#ff9a00 740px,#ff9700 750px,#ff9500 760px,#ff9300 770px,#ff9300 780px,#ff9300 790px,#ff9600 800px,#ff9900 810px,#ff9700 820px,#ff8f00 830px,#ff8d00 840px,#ff8f00 850px,#ff8600 860px,#ff7800 870px,#ff6a00 880px,#ff6600 890px,#ff6900 900px,#ff7000 910px,#ff7800 920px,#ff7e00 930px,#ff8100 940px,#ff8300 950px,#ff8400 960px,#ff8400 970px,#ff8400 980px,#ff8900 990px,#ff9200 1000px,#ff9d00 1010px,#ffa700 1020px,#ffaf00 1030px,#ffb500 1040px,#ffb700 1050px,#ffb800 1060px,#ffb800 1070px)"></i><i style="top:70px;background:linear-gradient(90deg,#c9ed00 0px,#c9ed00 10px,#abe300 20px,#8cd800 30px,#78d200 40px,#6dcf00 50px,#6ccf00 60px,#73d100 70px,#7ed400 80px,#8ad700 90px,#97dc00 100px,#a0df00 110px,#9fde00 120px,#90da00 130px,#7ed400 140px,#6ecf00 150px,#68ce00 160px,#6fd000 170px,#7fd400 180px,#93da00 190px,#a3e000 200px,#a7e100 210px,#a1df00 220px,#94db00 230px,#82d500 240px,#71d000 250px,#62cc00 260px,#5cca00 270px,#65cd00 280px,#79d200 290px,#94db00 300px,#b5e600 310px,#d5f100 320px,#f1fa00 330px,#fffc00 340px,#fff600 350px,#fff200 360px,#ffef00 370px,#ffee00 380px,#ffed00 390px,#ffee00 400px,#ffee00 410px,#ffee00 420px,#ffed00 430px,#ffec00 440px,#ffeb00 450px,#ffea00 460px,#ffe900 470px,#ffe900 480px,#ffeb00 490px,#ffee00 500px,#fff100 510px,#fff300 520px,#fff100 530px,#ffea00 540px,#ffdf00 550px,#ffd400 560px,#ffca00 570px,#ffc100 580px,#ffbb00 590px,#ffb800 600px,#ffb300 610px,#ffa900 620px,#ff9c00 630px,#ff8f00 640px,#ff8600 650px,#ff8400 660px,#ff8400 670px,#ff8500 680px,#ff8900 690px,#ff8f00 700px,#ff9600 710px,#ff9a00 720px,#ff9a00 730px,#ff9800 740px,#ff9600 750px,#ff9300 760px,#ff9100 770px,#ff8f00 780px,#ff8d00 790px,#ff8b00 800px,#ff8800 810px,#ff8200 820px,#ff7800 830px,#ff7200 840px,#ff7000 850px,#ff6a00 860px,#ff6000 870px,#ff5a00 880px,#ff5a00 890px,#ff6100 900px,#ff6a00 910px,#ff7400 920px,#ff7c00 930px,#ff8000 940px,#ff8200 950px,#ff8300 960px,#ff8300 970px,#ff8500 980px,#ff8a00 990px,#ff9300 1000px,#ff9f00 1010px,#ffa900 1020px,#ffb200 1030px,#ffb600 1040px,#ffb800 1050px,#ffba00 1060px,#ffba00 1070px)"></i><i style="top:75px;background:linear-gradient(90deg,#d1ef00 0px,#d1ef00 10px,#b6e600 20px,#9bdd00 30px,#86d600 40px,#7bd300 50px,#79d200 60px,#7dd400 70px,#86d600 80px,#92da00 90px,#9fde00 100px,#a8e100 110px,#a6e100 120px,#98dc00 130px,#84d600 140px,#74d100 150px,#6ed000 160px,#77d200 170px,#8bd800 180px,#a5e000 190px,#b8e700 200px,#bfe900 210px,#bbe800 220px,#afe400 230px,#9bdd00 240px,#84d600 250px,#73d100 260px,#6ccf00 270px,#74d100 280px,#8ad700 290px,#ace300 300px,#cfef00 310px,#ecf900 320px,#fffe00 330px,#fff800 340px,#fff300 350px,#ffee00 360px,#ffeb00 370px,#ffe900 380px,#ffe800 390px,#ffe800 400px,#ffe900 410px,#ffe800 420px,#ffe700 430px,#ffe600 440px,#ffe400 450px,#ffe200 460px,#ffe100 470px,#ffe100 480px,#ffe200 490px,#ffe600 500px,#ffe900 510px,#ffec00 520px,#ffeb00 530px,#ffe500 540px,#ffdc00 550px,#ffd100 560px,#ffc800 570px,#ffbf00 580px,#ffb900 590px,#ffb500 600px,#ffae00 610px,#ffa400 620px,#ff9800 630px,#ff8d00 640px,#ff8500 650px,#ff8200 660px,#ff8100 670px,#ff8300 680px,#ff8600 690px,#ff8c00 700px,#ff9300 710px,#ff9700 720px,#ff9800 730px,#ff9600 740px,#ff9300 750px,#ff9000 760px,#ff8e00 770px,#ff8b00 780px,#ff8900 790px,#ff8500 800px,#ff7f00 810px,#ff7300 820px,#ff6600 830px,#ff5d00 840px,#ff5700 850px,#ff5100 860px,#ff4c00 870px,#ff4b00 880px,#ff5000 890px,#ff5a00 900px,#ff6600 910px,#ff7100 920px,#ff7a00 930px,#ff8000 940px,#ff8200 950px,#ff8300 960px,#ff8400 970px,#ff8600 980px,#ff8c00 990px,#ff9600 1000px,#ffa200 1010px,#ffad00 1020px,#ffb500 1030px,#ffb800 1040px,#ffba00 1050px,#ffbb00 1060px,#ffbb00 1070px)"></i><i style="top:80px;background:linear-gradient(90deg,#dbf300 0px,#dbf300 10px,#c3eb00 20px,#ace300 30px,#97dc00 40px,#8ad800 50px,#87d700 60px,#89d700 70px,#90d900 80px,#9cdd00 90px,#a8e100 100px,#b0e400 110px,#afe400 120px,#a2df00 130px,#8bd800 140px,#7ad300 150px,#74d100 160px,#7fd400 170px,#98dc00 180px,#b6e600 190px,#ccee00 200px,#d4f000 210px,#d3f000 220px,#c9ed00 230px,#b5e600 240px,#9add00 250px,#84d600 260px,#7cd300 270px,#84d600 280px,#a0df00 290px,#c6ec00 300px,#ebf800 310px,#fffd00 320px,#fff700 330px,#fff300 340px,#ffef00 350px,#ffeb00 360px,#ffe700 370px,#ffe500 380px,#ffe400 390px,#ffe400 400px,#ffe500 410px,#ffe400 420px,#ffe200 430px,#ffe000 440px,#ffde00 450px,#ffdc00 460px,#ffdb00 470px,#ffdb00 480px,#ffdc00 490px,#ffde00 500px,#ffe200 510px,#ffe600 520px,#ffe600 530px,#ffe100 540px,#ffd800 550px,#ffcf00 560px,#ffc500 570px,#ffbc00 580px,#ffb700 590px,#ffb200 600px,#ffab00 610px,#ffa100 620px,#ff9600 630px,#ff8c00 640px,#ff8500 650px,#ff8100 660px,#ff8000 670px,#ff8100 680px,#ff8400 690px,#ff8900 700px,#ff8f00 710px,#ff9400 720px,#ff9400 730px,#ff9200 740px,#ff8f00 750px,#ff8c00 760px,#ff8a00 770px,#ff8800 780px,#ff8500 790px,#ff8100 800px,#ff7700 810px,#ff6900 820px,#ff5c00 830px,#ff5000 840px,#ff4900 850px,#ff4400 860px,#ff4100 870px,#ff4300 880px,#ff4a00 890px,#ff5600 900px,#ff6300 910px,#ff7000 920px,#ff7b00 930px,#ff8100 940px,#ff8400 950px,#ff8500 960px,#ff8600 970px,#ff8900 980px,#ff8f00 990px,#ff9a00 1000px,#ffa600 1010px,#ffb100 1020px,#ffb700 1030px,#ffba00 1040px,#ffbc00 1050px,#ffbd00 1060px,#ffbd00 1070px)"></i><i style="top:85px;background:linear-gradient(90deg,#e7f700 0px,#e7f700 10px,#d3f000 20px,#bfe900 30px,#ace300 40px,#9fde00 50px,#9add00 60px,#9add00 70px,#9ede00 80px,#a7e100 90px,#b2e500 100px,#b9e700 110px,#b9e700 120px,#ace300 130px,#97dc00 140px,#83d600 150px,#7bd300 160px,#89d700 170px,#a6e100 180px,#c6ec00 190px,#ddf300 200px,#e5f600 210px,#e6f600 220px,#dff400 230px,#cdee00 240px,#b1e500 250px,#99dc00 260px,#8cd800 270px,#98dc00 280px,#b7e700 290px,#dff400 300px,#fffd00 310px,#fff500 320px,#fff000 330px,#ffed00 340px,#ffeb00 350px,#ffe600 360px,#ffe300 370px,#ffe100 380px,#ffe100 390px,#ffe100 400px,#ffe200 410px,#ffe100 420px,#ffdf00 430px,#ffdd00 440px,#ffda00 450px,#ffd700 460px,#ffd600 470px,#ffd600 480px,#ffd600 490px,#ffd800 500px,#ffdc00 510px,#ffdf00 520px,#ffe100 530px,#ffdd00 540px,#ffd500 550px,#ffcb00 560px,#ffc100 570px,#ffb900 580px,#ffb400 590px,#ffad00 600px,#ffa800 610px,#ff9d00 620px,#ff9300 630px,#ff8a00 640px,#ff8500 650px,#ff8000 660px,#ff7e00 670px,#ff7f00 680px,#ff8100 690px,#ff8400 700px,#ff8900 710px,#ff8e00 720px,#ff8d00 730px,#ff8a00 740px,#ff8800 750px,#ff8700 760px,#ff8600 770px,#ff8500 780px,#ff8300 790px,#ff7e00 800px,#ff7200 810px,#ff6400 820px,#ff5600 830px,#ff4a00 840px,#ff4300 850px,#ff3e00 860px,#ff3b00 870px,#ff3f00 880px,#ff4800 890px,#ff5500 900px,#ff6400 910px,#ff7300 920px,#ff7e00 930px,#ff8400 940px,#ff8700 950px,#ff8800 960px,#ff8900 970px,#ff8c00 980px,#ff9300 990px,#ff9e00 1000px,#ffaa00 1010px,#ffb500 1020px,#ffba00 1030px,#ffbd00 1040px,#ffbe00 1050px,#ffbf00 1060px,#ffbf00 1070px)"></i><i style="top:90px;background:linear-gradient(90deg,#f6fc00 0px,#f6fc00 10px,#e5f600 20px,#d4f000 30px,#c4eb00 40px,#b7e700 50px,#b0e400 60px,#ade300 70px,#afe400 80px,#b4e600 90px,#bce800 100px,#c3eb00 110px,#c2ea00 120px,#b8e700 130px,#a5e100 140px,#94db00 150px,#8dd800 160px,#9cdd00 170px,#b6e600 180px,#d2f000 190px,#e8f700 200px,#f1fa00 210px,#f3fb00 220px,#edf900 230px,#ddf300 240px,#c5eb00 250px,#b0e400 260px,#a6e100 270px,#b1e500 280px,#ceee00 290px,#f3fb00 300px,#fff700 310px,#ffef00 320px,#ffe900 330px,#ffe600 340px,#ffe400 350px,#ffe100 360px,#ffe000 370px,#ffdf00 380px,#ffdf00 390px,#ffe000 400px,#ffe000 410px,#ffde00 420px,#ffdc00 430px,#ffda00 440px,#ffd700 450px,#ffd400 460px,#ffd300 470px,#ffd200 480px,#ffd200 490px,#ffd300 500px,#ffd700 510px,#ffda00 520px,#ffdb00 530px,#ffd800 540px,#ffd000 550px,#ffc700 560px,#ffbc00 570px,#ffb500 580px,#ffac00 590px,#ffa600 600px,#ffa100 610px,#ff9800 620px,#ff8e00 630px,#ff8600 640px,#ff8100 650px,#ff7d00 660px,#ff7b00 670px,#ff7c00 680px,#ff7d00 690px,#ff7e00 700px,#ff8000 710px,#ff8300 720px,#ff8300 730px,#ff8100 740px,#ff8100 750px,#ff8100 760px,#ff8100 770px,#ff8100 780px,#ff7f00 790px,#ff7a00 800px,#ff6e00 810px,#ff6100 820px,#ff5300 830px,#ff4800 840px,#ff4100 850px,#ff3c00 860px,#ff3b00 870px,#ff3f00 880px,#ff4900 890px,#ff5800 900px,#ff6800 910px,#ff7700 920px,#ff8100 930px,#ff8700 940px,#ff8a00 950px,#ff8b00 960px,#ff8c00 970px,#ff8f00 980px,#ff9600 990px,#ffa200 1000px,#ffaf00 1010px,#ffb800 1020px,#ffbc00 1030px,#ffbf00 1040px,#ffc100 1050px,#ffc100 1060px,#ffc100 1070px)"></i><i style="top:95px;background:linear-gradient(90deg,#fffc00 0px,#fffc00 10px,#f9fd00 20px,#eaf800 30px,#ddf300 40px,#d1ef00 50px,#c8ec00 60px,#c2ea00 70px,#c0ea00 80px,#c3eb00 90px,#c8ec00 100px,#cdee00 110px,#cdee00 120px,#c5eb00 130px,#b8e700 140px,#ace300 150px,#a8e200 160px,#b3e500 170px,#c7ec00 180px,#ddf400 190px,#effa00 200px,#f9fd00 210px,#fbfe00 220px,#f6fc00 230px,#e9f800 240px,#d7f100 250px,#c6ec00 260px,#c0ea00 270px,#caed00 280px,#e3f500 290px,#fffe00 300px,#fff200 310px,#ffe900 320px,#ffe300 330px,#ffde00 340px,#ffdc00 350px,#ffdc00 360px,#ffdd00 370px,#ffde00 380px,#ffdf00 390px,#ffdf00 400px,#ffde00 410px,#ffdd00 420px,#ffda00 430px,#ffd800 440px,#ffd500 450px,#ffd200 460px,#ffd000 470px,#ffce00 480px,#ffce00 490px,#ffcf00 500px,#ffd200 510px,#ffd400 520px,#ffd500 530px,#ffd200 540px,#ffca00 550px,#ffc000 560px,#ffb600 570px,#ffaa00 580px,#ffa200 590px,#ff9d00 600px,#ff9800 610px,#ff9000 620px,#ff8600 630px,#ff8000 640px,#ff7b00 650px,#ff7700 660px,#ff7600 670px,#ff7600 680px,#ff7600 690px,#ff7500 700px,#ff7300 710px,#ff7300 720px,#ff7300 730px,#ff7400 740px,#ff7700 750px,#ff7a00 760px,#ff7c00 770px,#ff7c00 780px,#ff7a00 790px,#ff7400 800px,#ff6a00 810px,#ff5f00 820px,#ff5300 830px,#ff4800 840px,#ff4200 850px,#ff3e00 860px,#ff3e00 870px,#ff4300 880px,#ff4e00 890px,#ff5f00 900px,#ff7000 910px,#ff7e00 920px,#ff8500 930px,#ff8c00 940px,#ff8e00 950px,#ff8f00 960px,#ff8e00 970px,#ff9100 980px,#ff9900 990px,#ffa500 1000px,#ffb400 1010px,#ffba00 1020px,#ffbf00 1030px,#ffc200 1040px,#ffc300 1050px,#ffc300 1060px,#ffc300 1070px)"></i><i style="top:100px;background:linear-gradient(90deg,#fff700 0px,#fff700 10px,#fffb00 20px,#fffe00 30px,#f6fc00 40px,#ebf800 50px,#e0f400 60px,#d6f100 70px,#d2f000 80px,#d2f000 90px,#d5f100 100px,#d9f200 110px,#d9f200 120px,#d5f100 130px,#cdee00 140px,#c6ec00 150px,#c6ec00 160px,#cdee00 170px,#daf300 180px,#e9f800 190px,#f6fc00 200px,#feff00 210px,#fffe00 220px,#fdfe00 230px,#f3fb00 240px,#e6f700 250px,#dcf300 260px,#d9f200 270px,#e2f500 280px,#f6fc00 290px,#fff900 300px,#ffef00 310px,#ffe500 320px,#ffdd00 330px,#ffd800 340px,#ffd600 350px,#ffd700 360px,#ffda00 370px,#ffdd00 380px,#ffdf00 390px,#ffde00 400px,#ffdd00 410px,#ffdb00 420px,#ffd800 430px,#ffd600 440px,#ffd300 450px,#ffd100 460px,#ffce00 470px,#ffcc00 480px,#ffca00 490px,#ffcb00 500px,#ffcd00 510px,#ffcf00 520px,#ffcf00 530px,#ffcb00 540px,#ffc400 550px,#ffb900 560px,#ffab00 570px,#ff9e00 580px,#ff9700 590px,#ff9300 600px,#ff8f00 610px,#ff8700 620px,#ff8000 630px,#ff7700 640px,#ff7000 650px,#ff6f00 660px,#ff7000 670px,#ff7000 680px,#ff6e00 690px,#ff6900 700px,#ff6300 710px,#ff5f00 720px,#ff5f00 730px,#ff6400 740px,#ff6a00 750px,#ff6f00 760px,#ff7300 770px,#ff7500 780px,#ff7400 790px,#ff6f00 800px,#ff6700 810px,#ff5d00 820px,#ff5300 830px,#ff4a00 840px,#ff4400 850px,#ff4100 860px,#ff4200 870px,#ff4800 880px,#ff5600 890px,#ff6800 900px,#ff7800 910px,#ff8300 920px,#ff8b00 930px,#ff9000 940px,#ff9200 950px,#ff9100 960px,#ff9000 970px,#ff9200 980px,#ff9a00 990px,#ffa700 1000px,#ffb500 1010px,#ffbc00 1020px,#ffc100 1030px,#ffc400 1040px,#ffc500 1050px,#ffc500 1060px,#ffc500 1070px)"></i><i style="top:105px;background:linear-gradient(90deg,#fff100 0px,#fff100 10px,#fff400 20px,#fff700 30px,#fffa00 40px,#fffe00 50px,#f6fc00 60px,#eaf800 70px,#e2f500 80px,#e1f500 90px,#e3f600 100px,#e7f700 110px,#e8f700 120px,#e7f700 130px,#e5f600 140px,#e3f500 150px,#e3f600 160px,#e8f700 170px,#effa00 180px,#f6fc00 190px,#feff00 200px,#fffd00 210px,#fffc00 220px,#fffd00 230px,#fdfe00 240px,#f4fb00 250px,#eff900 260px,#effa00 270px,#f7fc00 280px,#fffc00 290px,#fff500 300px,#ffeb00 310px,#ffe100 320px,#ffd800 330px,#ffd100 340px,#ffcf00 350px,#ffd200 360px,#ffd700 370px,#ffdc00 380px,#ffde00 390px,#ffdd00 400px,#ffdb00 410px,#ffd800 420px,#ffd600 430px,#ffd400 440px,#ffd100 450px,#ffcf00 460px,#ffcc00 470px,#ffc900 480px,#ffc700 490px,#ffc600 500px,#ffc700 510px,#ffc900 520px,#ffc900 530px,#ffc500 540px,#ffbc00 550px,#ffaf00 560px,#ff9c00 570px,#ff9100 580px,#ff8d00 590px,#ff8a00 600px,#ff8600 610px,#ff8100 620px,#ff7700 630px,#ff6c00 640px,#ff6600 650px,#ff6600 660px,#ff6900 670px,#ff6b00 680px,#ff6700 690px,#ff5d00 700px,#ff5200 710px,#ff4b00 720px,#ff4c00 730px,#ff5300 740px,#ff5d00 750px,#ff6500 760px,#ff6b00 770px,#ff6e00 780px,#ff6d00 790px,#ff6900 800px,#ff6300 810px,#ff5b00 820px,#ff5300 830px,#ff4b00 840px,#ff4600 850px,#ff4400 860px,#ff4700 870px,#ff4f00 880px,#ff5f00 890px,#ff7100 900px,#ff8000 910px,#ff8800 920px,#ff9000 930px,#ff9400 940px,#ff9500 950px,#ff9300 960px,#ff9000 970px,#ff9100 980px,#ff9900 990px,#ffa700 1000px,#ffb600 1010px,#ffbe00 1020px,#ffc200 1030px,#ffc400 1040px,#ffc500 1050px,#ffc500 1060px,#ffc500 1070px)"></i><i style="top:110px;background:linear-gradient(90deg,#ffed00 0px,#ffed00 10px,#ffef00 20px,#fff200 30px,#fff400 40px,#fff700 50px,#fffc00 60px,#fbfe00 70px,#f2fb00 80px,#effa00 90px,#f2fb00 100px,#f6fc00 110px,#f9fd00 120px,#fcfe00 130px,#fdfe00 140px,#ffff00 150px,#fffe00 160px,#fffe00 170px,#fffd00 180px,#fffc00 190px,#fffc00 200px,#fffa00 210px,#fffa00 220px,#fffb00 230px,#fffd00 240px,#fffe00 250px,#ffff00 260px,#fffe00 270px,#fffb00 280px,#fff700 290px,#fff000 300px,#ffe800 310px,#ffde00 320px,#ffd400 330px,#ffcc00 340px,#ffc900 350px,#ffce00 360px,#ffd400 370px,#ffdb00 380px,#ffdd00 390px,#ffdb00 400px,#ffd800 410px,#ffd500 420px,#ffd300 430px,#ffd100 440px,#ffcf00 450px,#ffcd00 460px,#ffca00 470px,#ffc600 480px,#ffc200 490px,#ffc000 500px,#ffc100 510px,#ffc200 520px,#ffc200 530px,#ffbe00 540px,#ffb500 550px,#ffa200 560px,#ff8f00 570px,#ff8600 580px,#ff8500 590px,#ff8400 600px,#ff8100 610px,#ff7b00 620px,#ff6f00 630px,#ff6300 640px,#ff5d00 650px,#ff6000 660px,#ff6400 670px,#ff6600 680px,#ff6000 690px,#ff5300 700px,#ff4700 710px,#ff3f00 720px,#ff4000 730px,#ff4700 740px,#ff5100 750px,#ff5c00 760px,#ff6300 770px,#ff6700 780px,#ff6700 790px,#ff6400 800px,#ff5e00 810px,#ff5800 820px,#ff5200 830px,#ff4c00 840px,#ff4800 850px,#ff4800 860px,#ff4c00 870px,#ff5700 880px,#ff6700 890px,#ff7900 900px,#ff8500 910px,#ff8d00 920px,#ff9200 930px,#ff9600 940px,#ff9600 950px,#ff9200 960px,#ff8f00 970px,#ff8f00 980px,#ff9600 990px,#ffa500 1000px,#ffb500 1010px,#ffbd00 1020px,#ffc100 1030px,#ffc200 1040px,#ffc300 1050px,#ffc300 1060px,#ffc300 1070px)"></i><i style="top:115px;background:linear-gradient(90deg,#ffea00 0px,#ffea00 10px,#ffec00 20px,#ffee00 30px,#fff000 40px,#fff200 50px,#fff700 60px,#fffc00 70px,#fffe00 80px,#feff00 90px,#fffe00 100px,#fffc00 110px,#fffb00 120px,#fff900 130px,#fff700 140px,#fff600 150px,#fff500 160px,#fff400 170px,#fff500 180px,#fff500 190px,#fff600 200px,#fff600 210px,#fff700 220px,#fff800 230px,#fffa00 240px,#fffa00 250px,#fffa00 260px,#fff800 270px,#fff500 280px,#fff100 290px,#ffec00 300px,#ffe400 310px,#ffdb00 320px,#ffd200 330px,#ffca00 340px,#ffc700 350px,#ffcb00 360px,#ffd100 370px,#ffd700 380px,#ffd900 390px,#ffd600 400px,#ffd300 410px,#ffd000 420px,#ffce00 430px,#ffcd00 440px,#ffcc00 450px,#ffcb00 460px,#ffc700 470px,#ffc200 480px,#ffbe00 490px,#ffbb00 500px,#ffba00 510px,#ffba00 520px,#ffba00 530px,#ffb600 540px,#ffa900 550px,#ff9800 560px,#ff8800 570px,#ff8200 580px,#ff8000 590px,#ff7f00 600px,#ff7c00 610px,#ff7400 620px,#ff6900 630px,#ff5f00 640px,#ff5a00 650px,#ff5c00 660px,#ff6000 670px,#ff6000 680px,#ff5a00 690px,#ff4c00 700px,#ff4100 710px,#ff3900 720px,#ff3a00 730px,#ff4100 740px,#ff4900 750px,#ff5400 760px,#ff5c00 770px,#ff6100 780px,#ff6200 790px,#ff5f00 800px,#ff5900 810px,#ff5300 820px,#ff4d00 830px,#ff4a00 840px,#ff4800 850px,#ff4a00 860px,#ff5100 870px,#ff5e00 880px,#ff6e00 890px,#ff7e00 900px,#ff8700 910px,#ff8e00 920px,#ff9200 930px,#ff9400 940px,#ff9300 950px,#ff8f00 960px,#ff8c00 970px,#ff8c00 980px,#ff9300 990px,#ffa100 1000px,#ffb100 1010px,#ffb900 1020px,#ffbd00 1030px,#ffbe00 1040px,#ffbf00 1050px,#ffbf00 1060px,#ffbf00 1070px)"></i><i style="top:120px;background:linear-gradient(90deg,#ffe800 0px,#ffe800 10px,#ffe900 20px,#ffeb00 30px,#ffed00 40px,#fff000 50px,#fff400 60px,#fff800 70px,#fffa00 80px,#fffa00 90px,#fff900 100px,#fff700 110px,#fff400 120px,#fff200 130px,#ffef00 140px,#ffed00 150px,#ffec00 160px,#ffeb00 170px,#ffec00 180px,#ffed00 190px,#ffef00 200px,#fff100 210px,#fff300 220px,#fff600 230px,#fff700 240px,#fff700 250px,#fff500 260px,#fff300 270px,#fff000 280px,#ffec00 290px,#ffe700 300px,#ffe000 310px,#ffd800 320px,#ffd000 330px,#ffc900 340px,#ffc600 350px,#ffc900 360px,#ffcd00 370px,#ffd100 380px,#ffd200 390px,#ffd000 400px,#ffcd00 410px,#ffca00 420px,#ffc900 430px,#ffc900 440px,#ffc900 450px,#ffc800 460px,#ffc400 470px,#ffbf00 480px,#ffb900 490px,#ffb500 500px,#ffb200 510px,#ffb000 520px,#ffae00 530px,#ffa800 540px,#ff9d00 550px,#ff9100 560px,#ff8600 570px,#ff8000 580px,#ff7e00 590px,#ff7b00 600px,#ff7600 610px,#ff6e00 620px,#ff6600 630px,#ff5e00 640px,#ff5a00 650px,#ff5b00 660px,#ff5d00 670px,#ff5b00 680px,#ff5400 690px,#ff4800 700px,#ff3e00 710px,#ff3700 720px,#ff3700 730px,#ff3d00 740px,#ff4500 750px,#ff4e00 760px,#ff5600 770px,#ff5c00 780px,#ff5d00 790px,#ff5a00 800px,#ff5300 810px,#ff4c00 820px,#ff4700 830px,#ff4600 840px,#ff4700 850px,#ff4b00 860px,#ff5600 870px,#ff6400 880px,#ff7300 890px,#ff8000 900px,#ff8700 910px,#ff8c00 920px,#ff8e00 930px,#ff8e00 940px,#ff8d00 950px,#ff8a00 960px,#ff8800 970px,#ff8900 980px,#ff8f00 990px,#ff9a00 1000px,#ffa700 1010px,#ffb300 1020px,#ffb600 1030px,#ffb800 1040px,#ffb800 1050px,#ffb800 1060px,#ffb800 1070px)"></i><i style="top:125px;background:linear-gradient(90deg,#ffe600 0px,#ffe600 10px,#ffe800 20px,#ffea00 30px,#ffec00 40px,#ffef00 50px,#fff200 60px,#fff400 70px,#fff600 80px,#fff500 90px,#fff400 100px,#fff100 110px,#ffee00 120px,#ffeb00 130px,#ffe800 140px,#ffe500 150px,#ffe300 160px,#ffe300 170px,#ffe300 180px,#ffe500 190px,#ffe700 200px,#ffeb00 210px,#ffef00 220px,#fff200 230px,#fff400 240px,#fff300 250px,#fff100 260px,#ffee00 270px,#ffeb00 280px,#ffe700 290px,#ffe300 300px,#ffdd00 310px,#ffd600 320px,#ffcf00 330px,#ffc900 340px,#ffc700 350px,#ffc700 360px,#ffca00 370px,#ffcc00 380px,#ffcc00 390px,#ffc900 400px,#ffc600 410px,#ffc200 420px,#ffc200 430px,#ffc300 440px,#ffc500 450px,#ffc400 460px,#ffc100 470px,#ffbb00 480px,#ffb500 490px,#ffac00 500px,#ffa500 510px,#ffa100 520px,#ff9e00 530px,#ff9900 540px,#ff9300 550px,#ff8c00 560px,#ff8600 570px,#ff8100 580px,#ff7d00 590px,#ff7700 600px,#ff7100 610px,#ff6a00 620px,#ff6300 630px,#ff5e00 640px,#ff5b00 650px,#ff5b00 660px,#ff5b00 670px,#ff5800 680px,#ff5000 690px,#ff4600 700px,#ff3d00 710px,#ff3700 720px,#ff3700 730px,#ff3c00 740px,#ff4300 750px,#ff4a00 760px,#ff5200 770px,#ff5700 780px,#ff5900 790px,#ff5500 800px,#ff4d00 810px,#ff4600 820px,#ff4200 830px,#ff4100 840px,#ff4500 850px,#ff4c00 860px,#ff5a00 870px,#ff6800 880px,#ff7600 890px,#ff8000 900px,#ff8600 910px,#ff8900 920px,#ff8900 930px,#ff8700 940px,#ff8500 950px,#ff8300 960px,#ff8300 970px,#ff8500 980px,#ff8a00 990px,#ff9200 1000px,#ff9b00 1010px,#ffa400 1020px,#ffa900 1030px,#ffab00 1040px,#ffac00 1050px,#ffad00 1060px,#ffad00 1070px)"></i><i style="top:130px;background:linear-gradient(90deg,#ffe500 0px,#ffe500 10px,#ffe700 20px,#ffe900 30px,#ffec00 40px,#ffee00 50px,#fff000 60px,#fff100 70px,#fff200 80px,#fff100 90px,#ffef00 100px,#ffeb00 110px,#ffe800 120px,#ffe500 130px,#ffe200 140px,#ffdf00 150px,#ffdd00 160px,#ffdc00 170px,#ffdd00 180px,#ffde00 190px,#ffe000 200px,#ffe500 210px,#ffea00 220px,#ffef00 230px,#fff100 240px,#ffef00 250px,#ffec00 260px,#ffe900 270px,#ffe600 280px,#ffe300 290px,#ffdf00 300px,#ffda00 310px,#ffd500 320px,#ffce00 330px,#ffc900 340px,#ffc700 350px,#ffc600 360px,#ffc700 370px,#ffc700 380px,#ffc600 390px,#ffc200 400px,#ffbd00 410px,#ffba00 420px,#ffba00 430px,#ffbe00 440px,#ffc100 450px,#ffc100 460px,#ffbe00 470px,#ffb800 480px,#ffad00 490px,#ffa100 500px,#ff9900 510px,#ff9400 520px,#ff8f00 530px,#ff8d00 540px,#ff8b00 550px,#ff8900 560px,#ff8600 570px,#ff8200 580px,#ff7b00 590px,#ff7300 600px,#ff6c00 610px,#ff6500 620px,#ff6000 630px,#ff5d00 640px,#ff5c00 650px,#ff5a00 660px,#ff5900 670px,#ff5500 680px,#ff4e00 690px,#ff4500 700px,#ff3d00 710px,#ff3800 720px,#ff3800 730px,#ff3c00 740px,#ff4200 750px,#ff4800 760px,#ff4f00 770px,#ff5400 780px,#ff5500 790px,#ff5100 800px,#ff4900 810px,#ff4100 820px,#ff3c00 830px,#ff3c00 840px,#ff4200 850px,#ff4c00 860px,#ff5c00 870px,#ff6b00 880px,#ff7700 890px,#ff8000 900px,#ff8400 910px,#ff8500 920px,#ff8300 930px,#ff8000 940px,#ff7d00 950px,#ff7d00 960px,#ff7e00 970px,#ff8100 980px,#ff8400 990px,#ff8800 1000px,#ff8e00 1010px,#ff9400 1020px,#ff9800 1030px,#ff9a00 1040px,#ff9b00 1050px,#ff9c00 1060px,#ff9c00 1070px)"></i><i style="top:135px;background:linear-gradient(90deg,#ffe400 0px,#ffe400 10px,#ffe600 20px,#ffe800 30px,#ffea00 40px,#ffed00 50px,#ffed00 60px,#ffee00 70px,#ffee00 80px,#ffed00 90px,#ffea00 100px,#ffe700 110px,#ffe300 120px,#ffe000 130px,#ffde00 140px,#ffdb00 150px,#ffd800 160px,#ffd800 170px,#ffd800 180px,#ffd800 190px,#ffda00 200px,#ffdf00 210px,#ffe500 220px,#ffeb00 230px,#ffed00 240px,#ffeb00 250px,#ffe800 260px,#ffe400 270px,#ffe100 280px,#ffde00 290px,#ffdb00 300px,#ffd800 310px,#ffd300 320px,#ffcd00 330px,#ffc900 340px,#ffc600 350px,#ffc500 360px,#ffc400 370px,#ffc200 380px,#ffc000 390px,#ffbc00 400px,#ffb600 410px,#ffb100 420px,#ffb400 430px,#ffb900 440px,#ffbe00 450px,#ffbf00 460px,#ffbc00 470px,#ffb500 480px,#ffa600 490px,#ff9900 500px,#ff9000 510px,#ff8900 520px,#ff8500 530px,#ff8400 540px,#ff8500 550px,#ff8700 560px,#ff8600 570px,#ff8200 580px,#ff7900 590px,#ff6f00 600px,#ff6700 610px,#ff6000 620px,#ff5c00 630px,#ff5b00 640px,#ff5a00 650px,#ff5800 660px,#ff5500 670px,#ff5300 680px,#ff4c00 690px,#ff4500 700px,#ff3e00 710px,#ff3a00 720px,#ff3900 730px,#ff3d00 740px,#ff4200 750px,#ff4700 760px,#ff4c00 770px,#ff5100 780px,#ff5200 790px,#ff4e00 800px,#ff4600 810px,#ff3e00 820px,#ff3700 830px,#ff3800 840px,#ff4100 850px,#ff4d00 860px,#ff5e00 870px,#ff6c00 880px,#ff7700 890px,#ff7e00 900px,#ff8100 910px,#ff8100 920px,#ff7e00 930px,#ff7800 940px,#ff7300 950px,#ff7300 960px,#ff7500 970px,#ff7a00 980px,#ff7d00 990px,#ff7f00 1000px,#ff8200 1010px,#ff8500 1020px,#ff8800 1030px,#ff8b00 1040px,#ff8c00 1050px,#ff8e00 1060px,#ff8e00 1070px)"></i><i style="top:140px;background:linear-gradient(90deg,#ffe300 0px,#ffe300 10px,#ffe500 20px,#ffe600 30px,#ffe800 40px,#ffea00 50px,#ffea00 60px,#ffea00 70px,#ffea00 80px,#ffe800 90px,#ffe600 100px,#ffe300 110px,#ffe000 120px,#ffde00 130px,#ffdc00 140px,#ffd900 150px,#ffd600 160px,#ffd500 170px,#ffd400 180px,#ffd400 190px,#ffd600 200px,#ffdb00 210px,#ffe000 220px,#ffe600 230px,#ffe800 240px,#ffe700 250px,#ffe300 260px,#ffdf00 270px,#ffdc00 280px,#ffda00 290px,#ffd800 300px,#ffd500 310px,#ffd000 320px,#ffcc00 330px,#ffc800 340px,#ffc600 350px,#ffc300 360px,#ffc100 370px,#ffbf00 380px,#ffbc00 390px,#ffb800 400px,#ffb100 410px,#ffa900 420px,#ffaf00 430px,#ffb700 440px,#ffbc00 450px,#ffbe00 460px,#ffba00 470px,#ffb200 480px,#ffa100 490px,#ff9300 500px,#ff8a00 510px,#ff8400 520px,#ff8000 530px,#ff8000 540px,#ff8200 550px,#ff8400 560px,#ff8500 570px,#ff7f00 580px,#ff7500 590px,#ff6900 600px,#ff5f00 610px,#ff5800 620px,#ff5500 630px,#ff5400 640px,#ff5400 650px,#ff5200 660px,#ff5000 670px,#ff4f00 680px,#ff4a00 690px,#ff4500 700px,#ff3f00 710px,#ff3c00 720px,#ff3c00 730px,#ff3f00 740px,#ff4300 750px,#ff4700 760px,#ff4b00 770px,#ff4e00 780px,#ff4f00 790px,#ff4b00 800px,#ff4400 810px,#ff3c00 820px,#ff3600 830px,#ff3800 840px,#ff4100 850px,#ff4d00 860px,#ff5f00 870px,#ff6c00 880px,#ff7500 890px,#ff7c00 900px,#ff7e00 910px,#ff7d00 920px,#ff7800 930px,#ff7000 940px,#ff6b00 950px,#ff6a00 960px,#ff6b00 970px,#ff6e00 980px,#ff7100 990px,#ff7300 1000px,#ff7600 1010px,#ff7900 1020px,#ff7e00 1030px,#ff8100 1040px,#ff8200 1050px,#ff8500 1060px,#ff8500 1070px)"></i><i style="top:145px;background:linear-gradient(90deg,#ffe300 0px,#ffe300 10px,#ffe300 20px,#ffe400 30px,#ffe500 40px,#ffe600 50px,#ffe600 60px,#ffe500 70px,#ffe500 80px,#ffe400 90px,#ffe200 100px,#ffe000 110px,#ffde00 120px,#ffdd00 130px,#ffdb00 140px,#ffd900 150px,#ffd700 160px,#ffd400 170px,#ffd300 180px,#ffd200 190px,#ffd300 200px,#ffd700 210px,#ffdc00 220px,#ffe000 230px,#ffe300 240px,#ffe100 250px,#ffde00 260px,#ffdb00 270px,#ffd900 280px,#ffd600 290px,#ffd400 300px,#ffd100 310px,#ffcd00 320px,#ffca00 330px,#ffc700 340px,#ffc400 350px,#ffc200 360px,#ffc000 370px,#ffbd00 380px,#ffba00 390px,#ffb600 400px,#ffae00 410px,#ffaa00 420px,#ffaf00 430px,#ffb700 440px,#ffbc00 450px,#ffbd00 460px,#ffb900 470px,#ffb000 480px,#ff9f00 490px,#ff9000 500px,#ff8600 510px,#ff8200 520px,#ff7f00 530px,#ff7f00 540px,#ff8100 550px,#ff8200 560px,#ff8100 570px,#ff7a00 580px,#ff6e00 590px,#ff6100 600px,#ff5700 610px,#ff4f00 620px,#ff4b00 630px,#ff4a00 640px,#ff4a00 650px,#ff4a00 660px,#ff4a00 670px,#ff4900 680px,#ff4700 690px,#ff4400 700px,#ff4100 710px,#ff3f00 720px,#ff3f00 730px,#ff4100 740px,#ff4500 750px,#ff4800 760px,#ff4a00 770px,#ff4b00 780px,#ff4a00 790px,#ff4700 800px,#ff4200 810px,#ff3c00 820px,#ff3900 830px,#ff3b00 840px,#ff4300 850px,#ff4f00 860px,#ff5e00 870px,#ff6a00 880px,#ff7200 890px,#ff7800 900px,#ff7a00 910px,#ff7800 920px,#ff7300 930px,#ff6c00 940px,#ff6600 950px,#ff6200 960px,#ff6100 970px,#ff6100 980px,#ff6200 990px,#ff6400 1000px,#ff6800 1010px,#ff6c00 1020px,#ff7200 1030px,#ff7800 1040px,#ff7e00 1050px,#ff8200 1060px,#ff8200 1070px)"></i><i style="top:150px;background:linear-gradient(90deg,#ffe200 0px,#ffe200 10px,#ffe200 20px,#ffe100 30px,#ffe100 40px,#ffe100 50px,#ffe100 60px,#ffe000 70px,#ffe000 80px,#ffe000 90px,#ffdf00 100px,#ffde00 110px,#ffde00 120px,#ffdd00 130px,#ffdc00 140px,#ffdb00 150px,#ffd900 160px,#ffd500 170px,#ffd200 180px,#ffd000 190px,#ffd100 200px,#ffd400 210px,#ffd800 220px,#ffdc00 230px,#ffde00 240px,#ffdd00 250px,#ffdb00 260px,#ffd800 270px,#ffd500 280px,#ffd200 290px,#ffcf00 300px,#ffcd00 310px,#ffca00 320px,#ffc700 330px,#ffc400 340px,#ffc200 350px,#ffc000 360px,#ffbe00 370px,#ffbc00 380px,#ffb900 390px,#ffb500 400px,#ffaf00 410px,#ffad00 420px,#ffb200 430px,#ffb800 440px,#ffbc00 450px,#ffbd00 460px,#ffb900 470px,#ffaf00 480px,#ff9d00 490px,#ff8e00 500px,#ff8500 510px,#ff8200 520px,#ff8000 530px,#ff8000 540px,#ff8000 550px,#ff7f00 560px,#ff7c00 570px,#ff7300 580px,#ff6600 590px,#ff5900 600px,#ff4d00 610px,#ff4700 620px,#ff4400 630px,#ff4300 640px,#ff4300 650px,#ff4300 660px,#ff4400 670px,#ff4500 680px,#ff4500 690px,#ff4400 700px,#ff4300 710px,#ff4300 720px,#ff4300 730px,#ff4500 740px,#ff4700 750px,#ff4900 760px,#ff4a00 770px,#ff4900 780px,#ff4800 790px,#ff4500 800px,#ff4200 810px,#ff3f00 820px,#ff3e00 830px,#ff4000 840px,#ff4700 850px,#ff5100 860px,#ff5e00 870px,#ff6800 880px,#ff6f00 890px,#ff7400 900px,#ff7500 910px,#ff7300 920px,#ff6f00 930px,#ff6900 940px,#ff6200 950px,#ff5c00 960px,#ff5700 970px,#ff5500 980px,#ff5500 990px,#ff5700 1000px,#ff5c00 1010px,#ff6200 1020px,#ff6a00 1030px,#ff7200 1040px,#ff7b00 1050px,#ff8100 1060px,#ff8100 1070px)"></i><i style="top:155px;background:linear-gradient(90deg,#ffe100 0px,#ffe100 10px,#ffe000 20px,#ffdf00 30px,#ffde00 40px,#ffdd00 50px,#ffdc00 60px,#ffdc00 70px,#ffdc00 80px,#ffdc00 90px,#ffdd00 100px,#ffdd00 110px,#ffdd00 120px,#ffdd00 130px,#ffde00 140px,#ffdd00 150px,#ffdb00 160px,#ffd700 170px,#ffd300 180px,#ffcf00 190px,#ffcf00 200px,#ffd200 210px,#ffd500 220px,#ffd800 230px,#ffda00 240px,#ffd900 250px,#ffd700 260px,#ffd400 270px,#ffd100 280px,#ffce00 290px,#ffcb00 300px,#ffc800 310px,#ffc600 320px,#ffc300 330px,#ffc000 340px,#ffbe00 350px,#ffbd00 360px,#ffbc00 370px,#ffbb00 380px,#ffb800 390px,#ffb500 400px,#ffb000 410px,#ffaf00 420px,#ffb400 430px,#ffb900 440px,#ffbd00 450px,#ffbe00 460px,#ffb900 470px,#ffad00 480px,#ff9b00 490px,#ff8c00 500px,#ff8500 510px,#ff8300 520px,#ff8200 530px,#ff8200 540px,#ff8000 550px,#ff7d00 560px,#ff7700 570px,#ff6c00 580px,#ff5f00 590px,#ff5100 600px,#ff4600 610px,#ff4100 620px,#ff3e00 630px,#ff3c00 640px,#ff3c00 650px,#ff3d00 660px,#ff3f00 670px,#ff4200 680px,#ff4300 690px,#ff4500 700px,#ff4600 710px,#ff4600 720px,#ff4700 730px,#ff4800 740px,#ff4900 750px,#ff4a00 760px,#ff4a00 770px,#ff4800 780px,#ff4600 790px,#ff4400 800px,#ff4200 810px,#ff4200 820px,#ff4300 830px,#ff4600 840px,#ff4b00 850px,#ff5400 860px,#ff5e00 870px,#ff6700 880px,#ff6d00 890px,#ff7000 900px,#ff7100 910px,#ff7000 920px,#ff6d00 930px,#ff6800 940px,#ff6100 950px,#ff5800 960px,#ff5000 970px,#ff4a00 980px,#ff4900 990px,#ff4d00 1000px,#ff5300 1010px,#ff5b00 1020px,#ff6500 1030px,#ff7000 1040px,#ff7b00 1050px,#ff8200 1060px,#ff8200 1070px)"></i><i style="top:160px;background:linear-gradient(90deg,#ffe000 0px,#ffe000 10px,#ffdf00 20px,#ffdd00 30px,#ffda00 40px,#ffd900 50px,#ffd800 60px,#ffd800 70px,#ffd900 80px,#ffd900 90px,#ffda00 100px,#ffdb00 110px,#ffdd00 120px,#ffde00 130px,#ffdf00 140px,#ffdf00 150px,#ffde00 160px,#ffd900 170px,#ffd300 180px,#ffcf00 190px,#ffce00 200px,#ffd100 210px,#ffd400 220px,#ffd700 230px,#ffd800 240px,#ffd700 250px,#ffd400 260px,#ffd100 270px,#ffcd00 280px,#ffc900 290px,#ffc600 300px,#ffc300 310px,#ffc000 320px,#ffbd00 330px,#ffbb00 340px,#ffba00 350px,#ffb800 360px,#ffb800 370px,#ffb800 380px,#ffb700 390px,#ffb400 400px,#ffb000 410px,#ffb000 420px,#ffb500 430px,#ffb900 440px,#ffbe00 450px,#ffbe00 460px,#ffb900 470px,#ffab00 480px,#ff9800 490px,#ff8b00 500px,#ff8500 510px,#ff8400 520px,#ff8500 530px,#ff8400 540px,#ff8000 550px,#ff7b00 560px,#ff7200 570px,#ff6800 580px,#ff5a00 590px,#ff4c00 600px,#ff4200 610px,#ff3d00 620px,#ff3a00 630px,#ff3700 640px,#ff3600 650px,#ff3900 660px,#ff3c00 670px,#ff3f00 680px,#ff4300 690px,#ff4600 700px,#ff4900 710px,#ff4a00 720px,#ff4c00 730px,#ff4d00 740px,#ff4d00 750px,#ff4d00 760px,#ff4b00 770px,#ff4900 780px,#ff4600 790px,#ff4400 800px,#ff4400 810px,#ff4500 820px,#ff4800 830px,#ff4c00 840px,#ff5100 850px,#ff5900 860px,#ff6000 870px,#ff6700 880px,#ff6c00 890px,#ff6f00 900px,#ff6f00 910px,#ff6e00 920px,#ff6b00 930px,#ff6700 940px,#ff6000 950px,#ff5600 960px,#ff4b00 970px,#ff4500 980px,#ff4400 990px,#ff4800 1000px,#ff4f00 1010px,#ff5800 1020px,#ff6300 1030px,#ff7000 1040px,#ff7d00 1050px,#ff8400 1060px,#ff8400 1070px)"></i><i style="top:165px;background:linear-gradient(90deg,#ffe000 0px,#ffe000 10px,#ffde00 20px,#ffdb00 30px,#ffd800 40px,#ffd600 50px,#ffd500 60px,#ffd500 70px,#ffd500 80px,#ffd600 90px,#ffd800 100px,#ffda00 110px,#ffdc00 120px,#ffde00 130px,#ffe000 140px,#ffe100 150px,#ffdf00 160px,#ffda00 170px,#ffd400 180px,#ffcf00 190px,#ffce00 200px,#ffd100 210px,#ffd500 220px,#ffd700 230px,#ffd800 240px,#ffd600 250px,#ffd200 260px,#ffcd00 270px,#ffc900 280px,#ffc400 290px,#ffc000 300px,#ffbd00 310px,#ffba00 320px,#ffb700 330px,#ffb500 340px,#ffb300 350px,#ffb100 360px,#ffb000 370px,#ffb300 380px,#ffb200 390px,#ffae00 400px,#ffad00 410px,#ffaf00 420px,#ffb400 430px,#ffb800 440px,#ffbc00 450px,#ffbc00 460px,#ffb600 470px,#ffa700 480px,#ff9500 490px,#ff8900 500px,#ff8600 510px,#ff8500 520px,#ff8600 530px,#ff8500 540px,#ff8000 550px,#ff7900 560px,#ff7000 570px,#ff6500 580px,#ff5900 590px,#ff4b00 600px,#ff4200 610px,#ff3d00 620px,#ff3900 630px,#ff3500 640px,#ff3400 650px,#ff3700 660px,#ff3b00 670px,#ff3f00 680px,#ff4400 690px,#ff4800 700px,#ff4d00 710px,#ff5100 720px,#ff5200 730px,#ff5200 740px,#ff5200 750px,#ff5000 760px,#ff4d00 770px,#ff4a00 780px,#ff4700 790px,#ff4500 800px,#ff4600 810px,#ff4900 820px,#ff4d00 830px,#ff5300 840px,#ff5800 850px,#ff5e00 860px,#ff6400 870px,#ff6a00 880px,#ff6e00 890px,#ff6f00 900px,#ff6e00 910px,#ff6d00 920px,#ff6b00 930px,#ff6700 940px,#ff6000 950px,#ff5500 960px,#ff4a00 970px,#ff4400 980px,#ff4300 990px,#ff4700 1000px,#ff4f00 1010px,#ff5800 1020px,#ff6500 1030px,#ff7200 1040px,#ff7f00 1050px,#ff8600 1060px,#ff8600 1070px)"></i><i style="top:170px;background:linear-gradient(90deg,#ffe000 0px,#ffe000 10px,#ffdd00 20px,#ffda00 30px,#ffd600 40px,#ffd300 50px,#ffd200 60px,#ffd200 70px,#ffd200 80px,#ffd300 90px,#ffd600 100px,#ffd800 110px,#ffdb00 120px,#ffde00 130px,#ffe000 140px,#ffe000 150px,#ffdf00 160px,#ffda00 170px,#ffd400 180px,#ffd000 190px,#ffd000 200px,#ffd300 210px,#ffd700 220px,#ffda00 230px,#ffda00 240px,#ffd600 250px,#ffd100 260px,#ffca00 270px,#ffc400 280px,#ffbe00 290px,#ffba00 300px,#ffb700 310px,#ffb300 320px,#ffad00 330px,#ffa800 340px,#ffa400 350px,#ffa100 360px,#ffa000 370px,#ffa200 380px,#ffa300 390px,#ffa400 400px,#ffa600 410px,#ffab00 420px,#ffb000 430px,#ffb500 440px,#ffb700 450px,#ffb600 460px,#ffaf00 470px,#ffa000 480px,#ff9200 490px,#ff8900 500px,#ff8600 510px,#ff8600 520px,#ff8700 530px,#ff8500 540px,#ff8000 550px,#ff7800 560px,#ff6e00 570px,#ff6500 580px,#ff5b00 590px,#ff5000 600px,#ff4700 610px,#ff4100 620px,#ff3c00 630px,#ff3700 640px,#ff3600 650px,#ff3800 660px,#ff3c00 670px,#ff4100 680px,#ff4700 690px,#ff4d00 700px,#ff5400 710px,#ff5800 720px,#ff5900 730px,#ff5800 740px,#ff5600 750px,#ff5400 760px,#ff5100 770px,#ff4d00 780px,#ff4a00 790px,#ff4900 800px,#ff4a00 810px,#ff4d00 820px,#ff5200 830px,#ff5800 840px,#ff5d00 850px,#ff6300 860px,#ff6900 870px,#ff6e00 880px,#ff7100 890px,#ff7100 900px,#ff7000 910px,#ff6e00 920px,#ff6b00 930px,#ff6700 940px,#ff6000 950px,#ff5600 960px,#ff4c00 970px,#ff4700 980px,#ff4600 990px,#ff4b00 1000px,#ff5400 1010px,#ff5e00 1020px,#ff6a00 1030px,#ff7600 1040px,#ff8000 1050px,#ff8700 1060px,#ff8700 1070px)"></i><i style="top:175px;background:linear-gradient(90deg,#ffe000 0px,#ffe000 10px,#ffdd00 20px,#ffd900 30px,#ffd500 40px,#ffd200 50px,#ffd000 60px,#ffcf00 70px,#ffcf00 80px,#ffd100 90px,#ffd300 100px,#ffd700 110px,#ffda00 120px,#ffdd00 130px,#ffdf00 140px,#ffdf00 150px,#ffdd00 160px,#ffd900 170px,#ffd400 180px,#ffd100 190px,#ffd100 200px,#ffd500 210px,#ffda00 220px,#ffde00 230px,#ffdd00 240px,#ffd800 250px,#ffd000 260px,#ffc700 270px,#ffbf00 280px,#ffb900 290px,#ffb400 300px,#ffae00 310px,#ffa700 320px,#ffa000 330px,#ff9900 340px,#ff9300 350px,#ff9000 360px,#ff8e00 370px,#ff8f00 380px,#ff9200 390px,#ff9700 400px,#ff9e00 410px,#ffa500 420px,#ffaa00 430px,#ffad00 440px,#ffad00 450px,#ffaa00 460px,#ffa200 470px,#ff9800 480px,#ff8f00 490px,#ff8900 500px,#ff8700 510px,#ff8700 520px,#ff8700 530px,#ff8400 540px,#ff7f00 550px,#ff7700 560px,#ff6d00 570px,#ff6600 580px,#ff6000 590px,#ff5a00 600px,#ff5200 610px,#ff4900 620px,#ff4200 630px,#ff3c00 640px,#ff3a00 650px,#ff3c00 660px,#ff4000 670px,#ff4600 680px,#ff4c00 690px,#ff5500 700px,#ff5b00 710px,#ff5f00 720px,#ff6000 730px,#ff5e00 740px,#ff5b00 750px,#ff5700 760px,#ff5500 770px,#ff5300 780px,#ff5100 790px,#ff5000 800px,#ff5000 810px,#ff5200 820px,#ff5600 830px,#ff5c00 840px,#ff6300 850px,#ff6a00 860px,#ff7000 870px,#ff7500 880px,#ff7600 890px,#ff7600 900px,#ff7300 910px,#ff7000 920px,#ff6c00 930px,#ff6700 940px,#ff6100 950px,#ff5900 960px,#ff5200 970px,#ff4d00 980px,#ff4e00 990px,#ff5300 1000px,#ff5c00 1010px,#ff6600 1020px,#ff7000 1030px,#ff7b00 1040px,#ff8200 1050px,#ff8700 1060px,#ff8700 1070px)"></i><i style="top:180px;background:linear-gradient(90deg,#ffe000 0px,#ffe000 10px,#ffdd00 20px,#ffd900 30px,#ffd400 40px,#ffd100 50px,#ffce00 60px,#ffcd00 70px,#ffcd00 80px,#ffce00 90px,#ffd100 100px,#ffd500 110px,#ffd900 120px,#ffdc00 130px,#ffdd00 140px,#ffdd00 150px,#ffdb00 160px,#ffd700 170px,#ffd300 180px,#ffd000 190px,#ffd100 200px,#ffd700 210px,#ffde00 220px,#ffe300 230px,#ffe100 240px,#ffd900 250px,#ffce00 260px,#ffc300 270px,#ffb900 280px,#ffb200 290px,#ffaa00 300px,#ffa300 310px,#ff9c00 320px,#ff9400 330px,#ff8c00 340px,#ff8500 350px,#ff8200 360px,#ff7f00 370px,#ff7f00 380px,#ff8200 390px,#ff8b00 400px,#ff9600 410px,#ff9f00 420px,#ffa300 430px,#ffa300 440px,#ff9f00 450px,#ff9a00 460px,#ff9400 470px,#ff8f00 480px,#ff8a00 490px,#ff8700 500px,#ff8600 510px,#ff8700 520px,#ff8700 530px,#ff8400 540px,#ff7f00 550px,#ff7600 560px,#ff6d00 570px,#ff6900 580px,#ff6700 590px,#ff6600 600px,#ff6100 610px,#ff5700 620px,#ff4b00 630px,#ff4300 640px,#ff4000 650px,#ff4100 660px,#ff4500 670px,#ff4c00 680px,#ff5500 690px,#ff5d00 700px,#ff6400 710px,#ff6800 720px,#ff6700 730px,#ff6400 740px,#ff5f00 750px,#ff5b00 760px,#ff5900 770px,#ff5900 780px,#ff5900 790px,#ff5800 800px,#ff5700 810px,#ff5700 820px,#ff5a00 830px,#ff6000 840px,#ff6800 850px,#ff7100 860px,#ff7800 870px,#ff7c00 880px,#ff7d00 890px,#ff7b00 900px,#ff7800 910px,#ff7300 920px,#ff6e00 930px,#ff6900 940px,#ff6300 950px,#ff5e00 960px,#ff5a00 970px,#ff5700 980px,#ff5900 990px,#ff5e00 1000px,#ff6600 1010px,#ff7000 1020px,#ff7800 1030px,#ff7e00 1040px,#ff8300 1050px,#ff8700 1060px,#ff8700 1070px)"></i><i style="top:185px;background:linear-gradient(90deg,#ffe000 0px,#ffe000 10px,#ffdd00 20px,#ffd900 30px,#ffd400 40px,#ffd000 50px,#ffcd00 60px,#ffcc00 70px,#ffcb00 80px,#ffcc00 90px,#ffd000 100px,#ffd400 110px,#ffd700 120px,#ffda00 130px,#ffdb00 140px,#ffdb00 150px,#ffd900 160px,#ffd500 170px,#ffd100 180px,#ffcf00 190px,#ffd100 200px,#ffd700 210px,#ffdf00 220px,#ffe700 230px,#ffe500 240px,#ffda00 250px,#ffcd00 260px,#ffbe00 270px,#ffb400 280px,#ffa900 290px,#ffa200 300px,#ff9c00 310px,#ff9400 320px,#ff8c00 330px,#ff8300 340px,#ff7d00 350px,#ff7700 360px,#ff7200 370px,#ff6f00 380px,#ff7500 390px,#ff8200 400px,#ff8f00 410px,#ff9900 420px,#ff9c00 430px,#ff9900 440px,#ff9200 450px,#ff8b00 460px,#ff8700 470px,#ff8600 480px,#ff8500 490px,#ff8500 500px,#ff8600 510px,#ff8700 520px,#ff8700 530px,#ff8400 540px,#ff7f00 550px,#ff7600 560px,#ff6e00 570px,#ff6d00 580px,#ff7000 590px,#ff7300 600px,#ff7200 610px,#ff6700 620px,#ff5900 630px,#ff4c00 640px,#ff4700 650px,#ff4800 660px,#ff4d00 670px,#ff5600 680px,#ff5e00 690px,#ff6600 700px,#ff6c00 710px,#ff7000 720px,#ff6f00 730px,#ff6a00 740px,#ff6500 750px,#ff6000 760px,#ff5f00 770px,#ff5f00 780px,#ff6100 790px,#ff6100 800px,#ff5f00 810px,#ff5d00 820px,#ff5e00 830px,#ff6400 840px,#ff6f00 850px,#ff7a00 860px,#ff8000 870px,#ff8200 880px,#ff8200 890px,#ff8000 900px,#ff7d00 910px,#ff7800 920px,#ff7200 930px,#ff6d00 940px,#ff6800 950px,#ff6500 960px,#ff6300 970px,#ff6300 980px,#ff6400 990px,#ff6900 1000px,#ff7000 1010px,#ff7900 1020px,#ff7e00 1030px,#ff8100 1040px,#ff8400 1050px,#ff8700 1060px,#ff8700 1070px)"></i><i style="top:190px;background:linear-gradient(90deg,#ffdf00 0px,#ffdf00 10px,#ffdc00 20px,#ffd800 30px,#ffd400 40px,#ffd000 50px,#ffcd00 60px,#ffcb00 70px,#ffca00 80px,#ffcb00 90px,#ffcf00 100px,#ffd200 110px,#ffd600 120px,#ffd800 130px,#ffd800 140px,#ffd800 150px,#ffd600 160px,#ffd200 170px,#ffce00 180px,#ffcc00 190px,#ffcf00 200px,#ffd600 210px,#ffde00 220px,#ffe700 230px,#ffe500 240px,#ffd800 250px,#ffcb00 260px,#ffbb00 270px,#ffae00 280px,#ffa300 290px,#ff9c00 300px,#ff9700 310px,#ff9000 320px,#ff8800 330px,#ff8000 340px,#ff7800 350px,#ff7300 360px,#ff6d00 370px,#ff6700 380px,#ff6d00 390px,#ff7e00 400px,#ff8a00 410px,#ff9400 420px,#ff9600 430px,#ff9000 440px,#ff8700 450px,#ff8100 460px,#ff7f00 470px,#ff8000 480px,#ff8200 490px,#ff8300 500px,#ff8500 510px,#ff8600 520px,#ff8700 530px,#ff8400 540px,#ff7f00 550px,#ff7700 560px,#ff7000 570px,#ff7100 580px,#ff7800 590px,#ff7e00 600px,#ff8000 610px,#ff7700 620px,#ff6800 630px,#ff5a00 640px,#ff5200 650px,#ff5300 660px,#ff5900 670px,#ff6100 680px,#ff6800 690px,#ff6f00 700px,#ff7400 710px,#ff7700 720px,#ff7600 730px,#ff7100 740px,#ff6b00 750px,#ff6500 760px,#ff6500 770px,#ff6600 780px,#ff6800 790px,#ff6800 800px,#ff6500 810px,#ff6300 820px,#ff6400 830px,#ff6b00 840px,#ff7700 850px,#ff8100 860px,#ff8600 870px,#ff8900 880px,#ff8700 890px,#ff8400 900px,#ff8100 910px,#ff7d00 920px,#ff7800 930px,#ff7300 940px,#ff6f00 950px,#ff6e00 960px,#ff6e00 970px,#ff6e00 980px,#ff6f00 990px,#ff7200 1000px,#ff7800 1010px,#ff7e00 1020px,#ff8100 1030px,#ff8200 1040px,#ff8400 1050px,#ff8700 1060px,#ff8700 1070px)"></i><i style="top:195px;background:linear-gradient(90deg,#ffdd00 0px,#ffdd00 10px,#ffda00 20px,#ffd700 30px,#ffd400 40px,#ffd000 50px,#ffce00 60px,#ffcc00 70px,#ffcb00 80px,#ffcb00 90px,#ffce00 100px,#ffd100 110px,#ffd400 120px,#ffd500 130px,#ffd500 140px,#ffd400 150px,#ffd100 160px,#ffce00 170px,#ffcb00 180px,#ffca00 190px,#ffcc00 200px,#ffd200 210px,#ffda00 220px,#ffe000 230px,#ffde00 240px,#ffd500 250px,#ffc800 260px,#ffb900 270px,#ffab00 280px,#ffa000 290px,#ff9900 300px,#ff9400 310px,#ff8f00 320px,#ff8900 330px,#ff8300 340px,#ff7d00 350px,#ff7800 360px,#ff7200 370px,#ff6d00 380px,#ff7100 390px,#ff7e00 400px,#ff8700 410px,#ff8f00 420px,#ff9000 430px,#ff8900 440px,#ff8200 450px,#ff7c00 460px,#ff7900 470px,#ff7b00 480px,#ff7e00 490px,#ff8100 500px,#ff8400 510px,#ff8600 520px,#ff8700 530px,#ff8400 540px,#ff8000 550px,#ff7900 560px,#ff7500 570px,#ff7800 580px,#ff7f00 590px,#ff8500 600px,#ff8600 610px,#ff8100 620px,#ff7600 630px,#ff6900 640px,#ff6100 650px,#ff6100 660px,#ff6500 670px,#ff6c00 680px,#ff7200 690px,#ff7700 700px,#ff7b00 710px,#ff7d00 720px,#ff7b00 730px,#ff7700 740px,#ff7200 750px,#ff6e00 760px,#ff6d00 770px,#ff6c00 780px,#ff6d00 790px,#ff6c00 800px,#ff6b00 810px,#ff6a00 820px,#ff6c00 830px,#ff7400 840px,#ff7f00 850px,#ff8800 860px,#ff8e00 870px,#ff9000 880px,#ff8e00 890px,#ff8900 900px,#ff8400 910px,#ff8100 920px,#ff7e00 930px,#ff7b00 940px,#ff7900 950px,#ff7900 960px,#ff7800 970px,#ff7800 980px,#ff7800 990px,#ff7a00 1000px,#ff7d00 1010px,#ff8000 1020px,#ff8100 1030px,#ff8200 1040px,#ff8400 1050px,#ff8600 1060px,#ff8600 1070px)"></i><i style="top:200px;background:linear-gradient(90deg,#ffd900 0px,#ffd900 10px,#ffd800 20px,#ffd600 30px,#ffd400 40px,#ffd200 50px,#ffcf00 60px,#ffcd00 70px,#ffcc00 80px,#ffcc00 90px,#ffce00 100px,#ffd000 110px,#ffd200 120px,#ffd200 130px,#ffd100 140px,#ffcf00 150px,#ffcd00 160px,#ffca00 170px,#ffc700 180px,#ffc700 190px,#ffc900 200px,#ffce00 210px,#ffd400 220px,#ffd700 230px,#ffd600 240px,#ffcf00 250px,#ffc500 260px,#ffb900 270px,#ffab00 280px,#ff9f00 290px,#ff9800 300px,#ff9400 310px,#ff9100 320px,#ff8e00 330px,#ff8a00 340px,#ff8600 350px,#ff8300 360px,#ff7f00 370px,#ff7b00 380px,#ff7d00 390px,#ff8200 400px,#ff8800 410px,#ff8d00 420px,#ff8b00 430px,#ff8500 440px,#ff7f00 450px,#ff7800 460px,#ff7500 470px,#ff7700 480px,#ff7a00 490px,#ff7f00 500px,#ff8200 510px,#ff8500 520px,#ff8600 530px,#ff8500 540px,#ff8100 550px,#ff7c00 560px,#ff7900 570px,#ff7d00 580px,#ff8300 590px,#ff8a00 600px,#ff8d00 610px,#ff8900 620px,#ff8100 630px,#ff7800 640px,#ff7000 650px,#ff6f00 660px,#ff7100 670px,#ff7600 680px,#ff7b00 690px,#ff7d00 700px,#ff7f00 710px,#ff7f00 720px,#ff7f00 730px,#ff7d00 740px,#ff7a00 750px,#ff7700 760px,#ff7400 770px,#ff7200 780px,#ff7000 790px,#ff6f00 800px,#ff6e00 810px,#ff7000 820px,#ff7500 830px,#ff7d00 840px,#ff8500 850px,#ff8f00 860px,#ff9600 870px,#ff9600 880px,#ff9300 890px,#ff8d00 900px,#ff8800 910px,#ff8400 920px,#ff8200 930px,#ff8200 940px,#ff8100 950px,#ff8100 960px,#ff8100 970px,#ff8000 980px,#ff7f00 990px,#ff7e00 1000px,#ff7e00 1010px,#ff7f00 1020px,#ff8000 1030px,#ff8100 1040px,#ff8300 1050px,#ff8500 1060px,#ff8500 1070px)"></i><i style="top:205px;background:linear-gradient(90deg,#ffd500 0px,#ffd500 10px,#ffd500 20px,#ffd500 30px,#ffd400 40px,#ffd300 50px,#ffd000 60px,#ffce00 70px,#ffcd00 80px,#ffcd00 90px,#ffce00 100px,#ffcf00 110px,#ffd000 120px,#ffd000 130px,#ffce00 140px,#ffcb00 150px,#ffc800 160px,#ffc500 170px,#ffc300 180px,#ffc200 190px,#ffc500 200px,#ffc900 210px,#ffcc00 220px,#ffce00 230px,#ffcd00 240px,#ffc900 250px,#ffc100 260px,#ffb800 270px,#ffab00 280px,#ff9f00 290px,#ff9800 300px,#ff9500 310px,#ff9500 320px,#ff9600 330px,#ff9700 340px,#ff9600 350px,#ff9200 360px,#ff8d00 370px,#ff8900 380px,#ff8800 390px,#ff8900 400px,#ff8b00 410px,#ff8c00 420px,#ff8900 430px,#ff8300 440px,#ff7e00 450px,#ff7700 460px,#ff7300 470px,#ff7400 480px,#ff7700 490px,#ff7d00 500px,#ff8100 510px,#ff8400 520px,#ff8700 530px,#ff8600 540px,#ff8200 550px,#ff7f00 560px,#ff7d00 570px,#ff8000 580px,#ff8600 590px,#ff8f00 600px,#ff9300 610px,#ff8f00 620px,#ff8700 630px,#ff8100 640px,#ff7d00 650px,#ff7a00 660px,#ff7c00 670px,#ff7e00 680px,#ff8000 690px,#ff8100 700px,#ff8100 710px,#ff8100 720px,#ff8000 730px,#ff8000 740px,#ff8000 750px,#ff7e00 760px,#ff7b00 770px,#ff7600 780px,#ff7200 790px,#ff7000 800px,#ff7100 810px,#ff7500 820px,#ff7b00 830px,#ff8200 840px,#ff8a00 850px,#ff9300 860px,#ff9a00 870px,#ff9a00 880px,#ff9500 890px,#ff8f00 900px,#ff8a00 910px,#ff8700 920px,#ff8600 930px,#ff8700 940px,#ff8900 950px,#ff8900 960px,#ff8700 970px,#ff8500 980px,#ff8200 990px,#ff7f00 1000px,#ff7e00 1010px,#ff7e00 1020px,#ff7e00 1030px,#ff7f00 1040px,#ff8100 1050px,#ff8300 1060px,#ff8300 1070px)"></i><i style="top:210px;background:linear-gradient(90deg,#ffd100 0px,#ffd100 10px,#ffd200 20px,#ffd300 30px,#ffd400 40px,#ffd300 50px,#ffd100 60px,#ffcf00 70px,#ffcd00 80px,#ffcd00 90px,#ffce00 100px,#ffce00 110px,#ffcf00 120px,#ffce00 130px,#ffcb00 140px,#ffc800 150px,#ffc300 160px,#ffc000 170px,#ffbf00 180px,#ffbe00 190px,#ffbf00 200px,#ffc200 210px,#ffc500 220px,#ffc500 230px,#ffc400 240px,#ffc200 250px,#ffbd00 260px,#ffb700 270px,#ffab00 280px,#ff9f00 290px,#ff9800 300px,#ff9600 310px,#ff9900 320px,#ff9e00 330px,#ffa400 340px,#ffa700 350px,#ffa300 360px,#ff9e00 370px,#ff9a00 380px,#ff9600 390px,#ff9200 400px,#ff9000 410px,#ff8d00 420px,#ff8800 430px,#ff8300 440px,#ff7d00 450px,#ff7700 460px,#ff7300 470px,#ff7200 480px,#ff7500 490px,#ff7a00 500px,#ff8000 510px,#ff8400 520px,#ff8700 530px,#ff8700 540px,#ff8400 550px,#ff8000 560px,#ff7f00 570px,#ff8100 580px,#ff8800 590px,#ff9100 600px,#ff9600 610px,#ff9200 620px,#ff8b00 630px,#ff8600 640px,#ff8300 650px,#ff8000 660px,#ff8100 670px,#ff8300 680px,#ff8300 690px,#ff8200 700px,#ff8100 710px,#ff8100 720px,#ff8100 730px,#ff8200 740px,#ff8300 750px,#ff8300 760px,#ff7f00 770px,#ff7900 780px,#ff7300 790px,#ff6f00 800px,#ff7100 810px,#ff7600 820px,#ff7e00 830px,#ff8300 840px,#ff8a00 850px,#ff9300 860px,#ff9b00 870px,#ff9900 880px,#ff9200 890px,#ff8d00 900px,#ff8a00 910px,#ff8800 920px,#ff8900 930px,#ff8d00 940px,#ff9100 950px,#ff9100 960px,#ff8d00 970px,#ff8800 980px,#ff8300 990px,#ff7f00 1000px,#ff7c00 1010px,#ff7b00 1020px,#ff7c00 1030px,#ff7d00 1040px,#ff7f00 1050px,#ff8200 1060px,#ff8200 1070px)"></i><i style="top:215px;background:linear-gradient(90deg,#ffce00 0px,#ffce00 10px,#ffcf00 20px,#ffd100 30px,#ffd200 40px,#ffd300 50px,#ffd100 60px,#ffcf00 70px,#ffcd00 80px,#ffcd00 90px,#ffcd00 100px,#ffcd00 110px,#ffcd00 120px,#ffcc00 130px,#ffc900 140px,#ffc400 150px,#ffc000 160px,#ffbd00 170px,#ffbc00 180px,#ffbb00 190px,#ffbb00 200px,#ffbd00 210px,#ffbe00 220px,#ffbd00 230px,#ffbc00 240px,#ffbc00 250px,#ffba00 260px,#ffb600 270px,#ffab00 280px,#ff9f00 290px,#ff9800 300px,#ff9700 310px,#ff9c00 320px,#ffa600 330px,#ffb100 340px,#ffb500 350px,#ffb400 360px,#ffae00 370px,#ffa900 380px,#ffa200 390px,#ff9b00 400px,#ff9500 410px,#ff9000 420px,#ff8900 430px,#ff8300 440px,#ff7d00 450px,#ff7700 460px,#ff7300 470px,#ff7200 480px,#ff7400 490px,#ff7900 500px,#ff7f00 510px,#ff8400 520px,#ff8800 530px,#ff8900 540px,#ff8500 550px,#ff8200 560px,#ff8000 570px,#ff8200 580px,#ff8800 590px,#ff9000 600px,#ff9600 610px,#ff9100 620px,#ff8b00 630px,#ff8700 640px,#ff8500 650px,#ff8300 660px,#ff8300 670px,#ff8500 680px,#ff8500 690px,#ff8200 700px,#ff8100 710px,#ff8000 720px,#ff8000 730px,#ff8200 740px,#ff8400 750px,#ff8500 760px,#ff8100 770px,#ff7a00 780px,#ff7200 790px,#ff6e00 800px,#ff7000 810px,#ff7500 820px,#ff7d00 830px,#ff8100 840px,#ff8500 850px,#ff8b00 860px,#ff9400 870px,#ff9000 880px,#ff8a00 890px,#ff8700 900px,#ff8700 910px,#ff8600 920px,#ff8900 930px,#ff9000 940px,#ff9700 950px,#ff9700 960px,#ff9000 970px,#ff8900 980px,#ff8200 990px,#ff7c00 1000px,#ff7900 1010px,#ff7900 1020px,#ff7a00 1030px,#ff7b00 1040px,#ff7d00 1050px,#ff8000 1060px,#ff8000 1070px)"></i><i style="top:220px;background:linear-gradient(90deg,#ffcc00 0px,#ffcc00 10px,#ffcc00 20px,#ffce00 30px,#ffd000 40px,#ffd000 50px,#ffcf00 60px,#ffce00 70px,#ffcd00 80px,#ffcc00 90px,#ffcc00 100px,#ffcc00 110px,#ffcc00 120px,#ffca00 130px,#ffc700 140px,#ffc300 150px,#ffbf00 160px,#ffbc00 170px,#ffbb00 180px,#ffba00 190px,#ffb900 200px,#ffba00 210px,#ffba00 220px,#ffb900 230px,#ffb900 240px,#ffb900 250px,#ffb800 260px,#ffb400 270px,#ffa900 280px,#ff9d00 290px,#ff9600 300px,#ff9600 310px,#ff9e00 320px,#ffac00 330px,#ffb700 340px,#ffbb00 350px,#ffba00 360px,#ffb700 370px,#ffb400 380px,#ffab00 390px,#ffa200 400px,#ff9a00 410px,#ff9300 420px,#ff8b00 430px,#ff8400 440px,#ff7e00 450px,#ff7800 460px,#ff7400 470px,#ff7200 480px,#ff7400 490px,#ff7900 500px,#ff7f00 510px,#ff8400 520px,#ff8900 530px,#ff8a00 540px,#ff8800 550px,#ff8500 560px,#ff8300 570px,#ff8300 580px,#ff8600 590px,#ff8a00 600px,#ff8d00 610px,#ff8a00 620px,#ff8600 630px,#ff8400 640px,#ff8300 650px,#ff8200 660px,#ff8200 670px,#ff8400 680px,#ff8300 690px,#ff8100 700px,#ff7f00 710px,#ff7e00 720px,#ff7f00 730px,#ff8100 740px,#ff8300 750px,#ff8400 760px,#ff8000 770px,#ff7a00 780px,#ff7200 790px,#ff6d00 800px,#ff6d00 810px,#ff7000 820px,#ff7500 830px,#ff7900 840px,#ff7b00 850px,#ff7e00 860px,#ff8000 870px,#ff7f00 880px,#ff7e00 890px,#ff8100 900px,#ff8300 910px,#ff8300 920px,#ff8600 930px,#ff8f00 940px,#ff9a00 950px,#ff9d00 960px,#ff9100 970px,#ff8500 980px,#ff7d00 990px,#ff7600 1000px,#ff7700 1010px,#ff7a00 1020px,#ff7b00 1030px,#ff7b00 1040px,#ff7a00 1050px,#ff7d00 1060px,#ff7d00 1070px)"></i><i style="top:225px;background:linear-gradient(90deg,#ffca00 0px,#ffca00 10px,#ffca00 20px,#ffcb00 30px,#ffcc00 40px,#ffcd00 50px,#ffcc00 60px,#ffcc00 70px,#ffcb00 80px,#ffcb00 90px,#ffcb00 100px,#ffcb00 110px,#ffca00 120px,#ffc900 130px,#ffc600 140px,#ffc300 150px,#ffc000 160px,#ffbd00 170px,#ffbb00 180px,#ffba00 190px,#ffb900 200px,#ffb900 210px,#ffb800 220px,#ffb800 230px,#ffb800 240px,#ffb800 250px,#ffb700 260px,#ffb300 270px,#ffa800 280px,#ff9b00 290px,#ff9300 300px,#ff9400 310px,#ff9e00 320px,#ffb000 330px,#ffbb00 340px,#ffc000 350px,#ffc000 360px,#ffbc00 370px,#ffb800 380px,#ffb100 390px,#ffa700 400px,#ff9e00 410px,#ff9600 420px,#ff8d00 430px,#ff8500 440px,#ff7f00 450px,#ff7a00 460px,#ff7600 470px,#ff7500 480px,#ff7700 490px,#ff7c00 500px,#ff8100 510px,#ff8600 520px,#ff8a00 530px,#ff8c00 540px,#ff8b00 550px,#ff8900 560px,#ff8600 570px,#ff8500 580px,#ff8400 590px,#ff8400 600px,#ff8400 610px,#ff8200 620px,#ff8100 630px,#ff8000 640px,#ff8000 650px,#ff8000 660px,#ff8100 670px,#ff8200 680px,#ff8100 690px,#ff8000 700px,#ff7e00 710px,#ff7d00 720px,#ff7d00 730px,#ff7f00 740px,#ff8100 750px,#ff8100 760px,#ff7e00 770px,#ff7900 780px,#ff7200 790px,#ff6d00 800px,#ff6a00 810px,#ff6a00 820px,#ff6a00 830px,#ff6a00 840px,#ff6900 850px,#ff6700 860px,#ff6400 870px,#ff6600 880px,#ff6d00 890px,#ff7900 900px,#ff8000 910px,#ff7e00 920px,#ff8200 930px,#ff8d00 940px,#ff9e00 950px,#ffa700 960px,#ff9100 970px,#ff7f00 980px,#ff7300 990px,#ff6e00 1000px,#ff7600 1010px,#ff7d00 1020px,#ff7e00 1030px,#ff7b00 1040px,#ff7800 1050px,#ff7b00 1060px,#ff7b00 1070px)"></i><i style="top:230px;background:linear-gradient(90deg,#ffc900 0px,#ffc900 10px,#ffc800 20px,#ffc800 30px,#ffc800 40px,#ffc900 50px,#ffc900 60px,#ffc900 70px,#ffc900 80px,#ffca00 90px,#ffca00 100px,#ffc900 110px,#ffc900 120px,#ffc800 130px,#ffc600 140px,#ffc400 150px,#ffc100 160px,#ffbf00 170px,#ffbd00 180px,#ffbb00 190px,#ffba00 200px,#ffb900 210px,#ffb900 220px,#ffb900 230px,#ffb900 240px,#ffb900 250px,#ffb700 260px,#ffb400 270px,#ffa700 280px,#ff9900 290px,#ff8f00 300px,#ff9000 310px,#ff9d00 320px,#ffb300 330px,#ffbe00 340px,#ffc400 350px,#ffc500 360px,#ffc100 370px,#ffbb00 380px,#ffb500 390px,#ffac00 400px,#ffa300 410px,#ff9a00 420px,#ff9100 430px,#ff8800 440px,#ff8200 450px,#ff7e00 460px,#ff7c00 470px,#ff7b00 480px,#ff7d00 490px,#ff8000 500px,#ff8500 510px,#ff8a00 520px,#ff8e00 530px,#ff9000 540px,#ff9100 550px,#ff9000 560px,#ff8d00 570px,#ff8900 580px,#ff8400 590px,#ff8000 600px,#ff7d00 610px,#ff7c00 620px,#ff7d00 630px,#ff7d00 640px,#ff7e00 650px,#ff8000 660px,#ff8100 670px,#ff8200 680px,#ff8100 690px,#ff8000 700px,#ff7f00 710px,#ff7d00 720px,#ff7d00 730px,#ff7f00 740px,#ff8000 750px,#ff7f00 760px,#ff7d00 770px,#ff7900 780px,#ff7300 790px,#ff6d00 800px,#ff6800 810px,#ff6300 820px,#ff5f00 830px,#ff5c00 840px,#ff5900 850px,#ff5400 860px,#ff4f00 870px,#ff5500 880px,#ff6200 890px,#ff7200 900px,#ff7d00 910px,#ff7700 920px,#ff7d00 930px,#ff8d00 940px,#ffa900 950px,#ffb500 960px,#ff9300 970px,#ff7a00 980px,#ff6a00 990px,#ff6800 1000px,#ff7700 1010px,#ff8000 1020px,#ff8100 1030px,#ff7e00 1040px,#ff7900 1050px,#ff7c00 1060px,#ff7c00 1070px)"></i><i style="top:235px;background:linear-gradient(90deg,#ffc800 0px,#ffc800 10px,#ffc700 20px,#ffc500 30px,#ffc400 40px,#ffc400 50px,#ffc500 60px,#ffc700 70px,#ffc800 80px,#ffc800 90px,#ffc900 100px,#ffc800 110px,#ffc800 120px,#ffc700 130px,#ffc600 140px,#ffc500 150px,#ffc400 160px,#ffc100 170px,#ffbf00 180px,#ffbd00 190px,#ffbc00 200px,#ffbb00 210px,#ffbb00 220px,#ffbb00 230px,#ffbb00 240px,#ffba00 250px,#ffb900 260px,#ffb500 270px,#ffa900 280px,#ff9800 290px,#ff8c00 300px,#ff8b00 310px,#ff9c00 320px,#ffb500 330px,#ffc200 340px,#ffc900 350px,#ffc900 360px,#ffc500 370px,#ffbe00 380px,#ffb800 390px,#ffb200 400px,#ffa900 410px,#ffa000 420px,#ff9700 430px,#ff8e00 440px,#ff8700 450px,#ff8300 460px,#ff8200 470px,#ff8200 480px,#ff8400 490px,#ff8700 500px,#ff8e00 510px,#ff9300 520px,#ff9600 530px,#ff9900 540px,#ff9a00 550px,#ff9a00 560px,#ff9700 570px,#ff9100 580px,#ff8800 590px,#ff8000 600px,#ff7900 610px,#ff7b00 620px,#ff7e00 630px,#ff8000 640px,#ff8100 650px,#ff8500 660px,#ff8600 670px,#ff8600 680px,#ff8600 690px,#ff8600 700px,#ff8400 710px,#ff8100 720px,#ff8100 730px,#ff8200 740px,#ff8200 750px,#ff8000 760px,#ff7e00 770px,#ff7c00 780px,#ff7600 790px,#ff6f00 800px,#ff6600 810px,#ff5e00 820px,#ff5700 830px,#ff5200 840px,#ff4e00 850px,#ff4b00 860px,#ff4a00 870px,#ff5200 880px,#ff6000 890px,#ff7000 900px,#ff7a00 910px,#ff7300 920px,#ff7a00 930px,#ff9700 940px,#ffbb00 950px,#ffc100 960px,#ff9e00 970px,#ff7900 980px,#ff6700 990px,#ff6700 1000px,#ff7900 1010px,#ff8200 1020px,#ff8400 1030px,#ff8000 1040px,#ff7d00 1050px,#ff8000 1060px,#ff8000 1070px)"></i><i style="top:240px;background:linear-gradient(90deg,#ffc700 0px,#ffc700 10px,#ffc500 20px,#ffc300 30px,#ffc100 40px,#ffc000 50px,#ffc200 60px,#ffc400 70px,#ffc600 80px,#ffc800 90px,#ffc800 100px,#ffc800 110px,#ffc700 120px,#ffc700 130px,#ffc700 140px,#ffc700 150px,#ffc600 160px,#ffc300 170px,#ffc100 180px,#ffbf00 190px,#ffbe00 200px,#ffbe00 210px,#ffbe00 220px,#ffbe00 230px,#ffbd00 240px,#ffbc00 250px,#ffba00 260px,#ffb700 270px,#ffab00 280px,#ff9a00 290px,#ff8c00 300px,#ff8900 310px,#ff9e00 320px,#ffb800 330px,#ffc600 340px,#ffcc00 350px,#ffcc00 360px,#ffc900 370px,#ffc200 380px,#ffbb00 390px,#ffb700 400px,#ffb100 410px,#ffa800 420px,#ff9f00 430px,#ff9700 440px,#ff9000 450px,#ff8c00 460px,#ff8d00 470px,#ff8f00 480px,#ff9100 490px,#ff9500 500px,#ff9d00 510px,#ffa300 520px,#ffa400 530px,#ffa600 540px,#ffa800 550px,#ffa700 560px,#ffa400 570px,#ff9d00 580px,#ff9300 590px,#ff8700 600px,#ff7f00 610px,#ff8300 620px,#ff8900 630px,#ff8a00 640px,#ff8c00 650px,#ff9300 660px,#ff9600 670px,#ff9400 680px,#ff9400 690px,#ff9500 700px,#ff9200 710px,#ff8c00 720px,#ff8c00 730px,#ff8d00 740px,#ff8a00 750px,#ff8500 760px,#ff8300 770px,#ff8000 780px,#ff7c00 790px,#ff7300 800px,#ff6800 810px,#ff5d00 820px,#ff5400 830px,#ff4e00 840px,#ff4c00 850px,#ff4a00 860px,#ff4c00 870px,#ff5700 880px,#ff6300 890px,#ff7200 900px,#ff8000 910px,#ff7d00 920px,#ff8700 930px,#ffb500 940px,#ffcf00 950px,#ffd400 960px,#ffaf00 970px,#ff8100 980px,#ff6b00 990px,#ff6800 1000px,#ff7d00 1010px,#ff8500 1020px,#ff8600 1030px,#ff8300 1040px,#ff8100 1050px,#ff8500 1060px,#ff8500 1070px)"></i><i style="top:245px;background:linear-gradient(90deg,#ffc700 0px,#ffc700 10px,#ffc400 20px,#ffc200 30px,#ffbf00 40px,#ffbe00 50px,#ffc000 60px,#ffc300 70px,#ffc500 80px,#ffc700 90px,#ffc800 100px,#ffc800 110px,#ffc800 120px,#ffc800 130px,#ffc700 140px,#ffc700 150px,#ffc700 160px,#ffc400 170px,#ffc200 180px,#ffc100 190px,#ffc000 200px,#ffc000 210px,#ffc000 220px,#ffc000 230px,#ffbf00 240px,#ffbe00 250px,#ffbc00 260px,#ffb800 270px,#ffaf00 280px,#ff9e00 290px,#ff9100 300px,#ff9000 310px,#ffa400 320px,#ffbb00 330px,#ffc800 340px,#ffcf00 350px,#ffd000 360px,#ffcd00 370px,#ffc800 380px,#ffc200 390px,#ffbd00 400px,#ffb800 410px,#ffb200 420px,#ffaa00 430px,#ffa200 440px,#ff9d00 450px,#ff9b00 460px,#ff9d00 470px,#ffa200 480px,#ffa600 490px,#ffab00 500px,#ffb300 510px,#ffb600 520px,#ffb700 530px,#ffb700 540px,#ffb700 550px,#ffb600 560px,#ffb400 570px,#ffae00 580px,#ffa600 590px,#ff9d00 600px,#ff9600 610px,#ff9c00 620px,#ffa300 630px,#ffa500 640px,#ffa800 650px,#ffae00 660px,#ffb100 670px,#ffb000 680px,#ffaf00 690px,#ffaf00 700px,#ffab00 710px,#ffa500 720px,#ffa200 730px,#ffa100 740px,#ff9c00 750px,#ff9400 760px,#ff8e00 770px,#ff8800 780px,#ff8100 790px,#ff7800 800px,#ff6c00 810px,#ff6100 820px,#ff5800 830px,#ff5300 840px,#ff5200 850px,#ff5200 860px,#ff5400 870px,#ff5b00 880px,#ff6400 890px,#ff7500 900px,#ff8800 910px,#ff9900 920px,#ffb900 930px,#ffd400 940px,#ffea00 950px,#ffe700 960px,#ffc600 970px,#ff9700 980px,#ff7700 990px,#ff6f00 1000px,#ff7e00 1010px,#ff8600 1020px,#ff8800 1030px,#ff8500 1040px,#ff8400 1050px,#ff8800 1060px,#ff8800 1070px)"></i><i style="top:250px;background:linear-gradient(90deg,#ffc700 0px,#ffc700 10px,#ffc400 20px,#ffc100 30px,#ffbf00 40px,#ffbe00 50px,#ffc000 60px,#ffc200 70px,#ffc500 80px,#ffc700 90px,#ffc900 100px,#ffc900 110px,#ffc900 120px,#ffc900 130px,#ffc800 140px,#ffc700 150px,#ffc600 160px,#ffc400 170px,#ffc300 180px,#ffc300 190px,#ffc300 200px,#ffc200 210px,#ffc200 220px,#ffc200 230px,#ffc100 240px,#ffbf00 250px,#ffbd00 260px,#ffb900 270px,#ffb300 280px,#ffa500 290px,#ff9c00 300px,#ff9d00 310px,#ffaf00 320px,#ffbf00 330px,#ffcb00 340px,#ffd100 350px,#ffd300 360px,#ffd200 370px,#ffce00 380px,#ffc900 390px,#ffc400 400px,#ffbf00 410px,#ffb900 420px,#ffb500 430px,#ffb000 440px,#ffad00 450px,#ffae00 460px,#ffb200 470px,#ffb600 480px,#ffba00 490px,#ffbd00 500px,#ffc100 510px,#ffc300 520px,#ffc400 530px,#ffc300 540px,#ffc100 550px,#ffbf00 560px,#ffbd00 570px,#ffbb00 580px,#ffba00 590px,#ffb900 600px,#ffb900 610px,#ffbb00 620px,#ffbe00 630px,#ffbf00 640px,#ffc100 650px,#ffc300 660px,#ffc400 670px,#ffc400 680px,#ffc300 690px,#ffc200 700px,#ffc000 710px,#ffbd00 720px,#ffba00 730px,#ffb800 740px,#ffb400 750px,#ffab00 760px,#ffa000 770px,#ff9500 780px,#ff8800 790px,#ff7f00 800px,#ff7300 810px,#ff6900 820px,#ff6300 830px,#ff6100 840px,#ff6200 850px,#ff6400 860px,#ff6400 870px,#ff6600 880px,#ff6e00 890px,#ff8000 900px,#ff9c00 910px,#ffbe00 920px,#ffd900 930px,#fffc00 940px,#cdee00 950px,#ffff00 960px,#ffdb00 970px,#ffb800 980px,#ff8900 990px,#ff7f00 1000px,#ff8500 1010px,#ff8a00 1020px,#ff8d00 1030px,#ff8a00 1040px,#ff8900 1050px,#ff8b00 1060px,#ff8b00 1070px)"></i><i style="top:255px;background:linear-gradient(90deg,#ffc700 0px,#ffc700 10px,#ffc400 20px,#ffc100 30px,#ffbf00 40px,#ffbe00 50px,#ffc000 60px,#ffc200 70px,#ffc500 80px,#ffc800 90px,#ffc900 100px,#ffca00 110px,#ffcb00 120px,#ffca00 130px,#ffc800 140px,#ffc600 150px,#ffc400 160px,#ffc400 170px,#ffc400 180px,#ffc400 190px,#ffc500 200px,#ffc400 210px,#ffc400 220px,#ffc300 230px,#ffc200 240px,#ffc000 250px,#ffbe00 260px,#ffbb00 270px,#ffb600 280px,#ffae00 290px,#ffa800 300px,#ffac00 310px,#ffb800 320px,#ffc300 330px,#ffcd00 340px,#ffd400 350px,#ffd700 360px,#ffd600 370px,#ffd400 380px,#ffd000 390px,#ffcb00 400px,#ffc600 410px,#ffc000 420px,#ffbc00 430px,#ffba00 440px,#ffb900 450px,#ffba00 460px,#ffbe00 470px,#ffc200 480px,#ffc700 490px,#ffcb00 500px,#ffcd00 510px,#ffcf00 520px,#ffcf00 530px,#ffce00 540px,#ffcb00 550px,#ffc800 560px,#ffc600 570px,#ffc600 580px,#ffc800 590px,#ffca00 600px,#ffcd00 610px,#ffce00 620px,#ffd000 630px,#ffd100 640px,#ffd200 650px,#ffd300 660px,#ffd400 670px,#ffd400 680px,#ffd300 690px,#ffd100 700px,#ffcf00 710px,#ffcd00 720px,#ffca00 730px,#ffc700 740px,#ffc200 750px,#ffbc00 760px,#ffb500 770px,#ffa400 780px,#ff9400 790px,#ff8600 800px,#ff7e00 810px,#ff7700 820px,#ff7400 830px,#ff7600 840px,#ff7c00 850px,#ff8100 860px,#ff8400 870px,#ff8700 880px,#ff9000 890px,#ffa300 900px,#ffbc00 910px,#ffd400 920px,#fff800 930px,#a3e000 940px,#7ad300 950px,#bee900 960px,#fff300 970px,#ffcc00 980px,#ffae00 990px,#ff9d00 1000px,#ff9c00 1010px,#ff9c00 1020px,#ff9b00 1030px,#ff9500 1040px,#ff8e00 1050px,#ff8f00 1060px,#ff8f00 1070px)"></i><i style="top:260px;background:linear-gradient(90deg,#ffc700 0px,#ffc700 10px,#ffc400 20px,#ffc200 30px,#ffbf00 40px,#ffbf00 50px,#ffc000 60px,#ffc200 70px,#ffc500 80px,#ffc800 90px,#ffca00 100px,#ffcb00 110px,#ffcc00 120px,#ffcb00 130px,#ffc800 140px,#ffc500 150px,#ffc200 160px,#ffc200 170px,#ffc400 180px,#ffc500 190px,#ffc600 200px,#ffc600 210px,#ffc500 220px,#ffc300 230px,#ffc200 240px,#ffc100 250px,#ffbf00 260px,#ffbc00 270px,#ffb900 280px,#ffb600 290px,#ffb400 300px,#ffb600 310px,#ffbd00 320px,#ffc700 330px,#ffd000 340px,#ffd600 350px,#ffd900 360px,#ffda00 370px,#ffd900 380px,#ffd600 390px,#ffd100 400px,#ffcc00 410px,#ffc700 420px,#ffc300 430px,#ffc100 440px,#ffc100 450px,#ffc400 460px,#ffc700 470px,#ffcc00 480px,#ffd100 490px,#ffd500 500px,#ffd700 510px,#ffd900 520px,#ffd900 530px,#ffd700 540px,#ffd400 550px,#ffd000 560px,#ffcd00 570px,#ffcf00 580px,#ffd300 590px,#ffd900 600px,#ffdd00 610px,#ffdf00 620px,#ffe000 630px,#ffe100 640px,#ffe300 650px,#ffe300 660px,#ffe400 670px,#ffe400 680px,#ffe300 690px,#ffdf00 700px,#ffdc00 710px,#ffda00 720px,#ffd600 730px,#ffd200 740px,#ffce00 750px,#ffc900 760px,#ffc000 770px,#ffb500 780px,#ffa100 790px,#ff9100 800px,#ff8800 810px,#ff8400 820px,#ff8500 830px,#ff8a00 840px,#ff9500 850px,#ffa300 860px,#ffb100 870px,#ffbb00 880px,#ffc500 890px,#ffcd00 900px,#ffd700 910px,#ffec00 920px,#d9f200 930px,#83d500 940px,#66cd00 950px,#8fd900 960px,#eef900 970px,#ffe000 980px,#ffcc00 990px,#ffc300 1000px,#ffbe00 1010px,#ffba00 1020px,#ffb500 1030px,#ffa600 1040px,#ff9600 1050px,#ff9400 1060px,#ff9400 1070px)"></i><i style="top:265px;background:linear-gradient(90deg,#ffc700 0px,#ffc700 10px,#ffc400 20px,#ffc200 30px,#ffbf00 40px,#ffbf00 50px,#ffc000 60px,#ffc200 70px,#ffc500 80px,#ffc800 90px,#ffca00 100px,#ffcc00 110px,#ffcd00 120px,#ffcb00 130px,#ffc800 140px,#ffc300 150px,#ffc000 160px,#ffc100 170px,#ffc300 180px,#ffc500 190px,#ffc700 200px,#ffc600 210px,#ffc500 220px,#ffc400 230px,#ffc200 240px,#ffc100 250px,#ffc000 260px,#ffbe00 270px,#ffbc00 280px,#ffba00 290px,#ffba00 300px,#ffbc00 310px,#ffc200 320px,#ffca00 330px,#ffd100 340px,#ffd700 350px,#ffdb00 360px,#ffdd00 370px,#ffde00 380px,#ffdc00 390px,#ffd700 400px,#ffd100 410px,#ffcc00 420px,#ffc900 430px,#ffc800 440px,#ffc900 450px,#ffca00 460px,#ffce00 470px,#ffd300 480px,#ffd800 490px,#ffdd00 500px,#ffdf00 510px,#ffe000 520px,#ffe100 530px,#ffdf00 540px,#ffdb00 550px,#ffd600 560px,#ffd400 570px,#ffd700 580px,#ffdd00 590px,#ffe600 600px,#ffef00 610px,#fff000 620px,#fff000 630px,#fff200 640px,#fff400 650px,#fff300 660px,#fff300 670px,#fff400 680px,#fff200 690px,#ffed00 700px,#ffea00 710px,#ffe600 720px,#ffe100 730px,#ffdc00 740px,#ffd700 750px,#ffd200 760px,#ffc900 770px,#ffbd00 780px,#ffb000 790px,#ff9f00 800px,#ff9800 810px,#ff9600 820px,#ff9900 830px,#ffa300 840px,#ffb400 850px,#ffbf00 860px,#ffcb00 870px,#ffd700 880px,#ffe300 890px,#ffec00 900px,#fff200 910px,#f1fa00 920px,#b8e700 930px,#84d600 940px,#6ace00 950px,#77d200 960px,#c3eb00 970px,#fff800 980px,#ffe500 990px,#ffdb00 1000px,#ffd500 1010px,#ffcf00 1020px,#ffc800 1030px,#ffbb00 1040px,#ffa700 1050px,#ffa200 1060px,#ffa200 1070px)"></i><i style="top:270px;background:linear-gradient(90deg,#ffc600 0px,#ffc600 10px,#ffc300 20px,#ffc100 30px,#ffbf00 40px,#ffbf00 50px,#ffc000 60px,#ffc200 70px,#ffc500 80px,#ffc800 90px,#ffca00 100px,#ffcc00 110px,#ffcc00 120px,#ffcb00 130px,#ffc700 140px,#ffc200 150px,#ffbf00 160px,#ffbf00 170px,#ffc100 180px,#ffc400 190px,#ffc600 200px,#ffc500 210px,#ffc400 220px,#ffc300 230px,#ffc200 240px,#ffc200 250px,#ffc100 260px,#ffc000 270px,#ffbf00 280px,#ffbe00 290px,#ffbf00 300px,#ffc100 310px,#ffc600 320px,#ffcc00 330px,#ffd200 340px,#ffd700 350px,#ffdb00 360px,#ffde00 370px,#ffe100 380px,#ffe000 390px,#ffdc00 400px,#ffd700 410px,#ffd200 420px,#ffcf00 430px,#ffcd00 440px,#ffcd00 450px,#ffcf00 460px,#ffd200 470px,#ffd700 480px,#ffdc00 490px,#ffe100 500px,#ffe300 510px,#ffe500 520px,#ffe600 530px,#ffe500 540px,#ffe000 550px,#ffdc00 560px,#ffdb00 570px,#ffde00 580px,#ffe600 590px,#fff000 600px,#fff900 610px,#fffb00 620px,#fffc00 630px,#fffd00 640px,#ffff00 650px,#fffe00 660px,#fffe00 670px,#fffe00 680px,#fffc00 690px,#fff700 700px,#fff300 710px,#fff000 720px,#ffea00 730px,#ffe400 740px,#ffde00 750px,#ffd900 760px,#ffd000 770px,#ffc600 780px,#ffba00 790px,#ffb100 800px,#ffab00 810px,#ffab00 820px,#ffb100 830px,#ffb800 840px,#ffc300 850px,#ffcf00 860px,#ffdd00 870px,#ffee00 880px,#fffc00 890px,#f5fc00 900px,#ecf900 910px,#c2ea00 920px,#a3e000 930px,#86d600 940px,#6ccf00 950px,#6ace00 960px,#9dde00 970px,#d9f200 980px,#fffd00 990px,#fff300 1000px,#ffeb00 1010px,#ffe200 1020px,#ffda00 1030px,#ffcd00 1040px,#ffc000 1050px,#ffbc00 1060px,#ffbc00 1070px)"></i><i style="top:275px;background:linear-gradient(90deg,#ffc300 0px,#ffc300 10px,#ffc200 20px,#ffc000 30px,#ffbe00 40px,#ffbe00 50px,#ffbf00 60px,#ffc100 70px,#ffc300 80px,#ffc600 90px,#ffc900 100px,#ffca00 110px,#ffcb00 120px,#ffc900 130px,#ffc600 140px,#ffc100 150px,#ffbe00 160px,#ffbe00 170px,#ffbf00 180px,#ffc100 190px,#ffc300 200px,#ffc300 210px,#ffc300 220px,#ffc200 230px,#ffc200 240px,#ffc100 250px,#ffc100 260px,#ffc100 270px,#ffc100 280px,#ffc200 290px,#ffc400 300px,#ffc600 310px,#ffc900 320px,#ffcc00 330px,#ffd000 340px,#ffd500 350px,#ffd900 360px,#ffdd00 370px,#ffe100 380px,#ffe100 390px,#ffdf00 400px,#ffdb00 410px,#ffd700 420px,#ffd400 430px,#ffd200 440px,#ffd100 450px,#ffd200 460px,#ffd400 470px,#ffd800 480px,#ffdd00 490px,#ffe100 500px,#ffe300 510px,#ffe500 520px,#ffe600 530px,#ffe500 540px,#ffe300 550px,#ffe200 560px,#ffe200 570px,#ffe600 580px,#ffed00 590px,#fff500 600px,#fffc00 610px,#ffff00 620px,#fafd00 630px,#f4fb00 640px,#f0fa00 650px,#f2fa00 660px,#f4fb00 670px,#f6fc00 680px,#fdfe00 690px,#fffb00 700px,#fff700 710px,#fff300 720px,#ffef00 730px,#ffe900 740px,#ffe300 750px,#ffdc00 760px,#ffd400 770px,#ffcc00 780px,#ffc300 790px,#ffbd00 800px,#ffba00 810px,#ffbb00 820px,#ffbe00 830px,#ffc400 840px,#ffcd00 850px,#ffd900 860px,#ffea00 870px,#fffd00 880px,#edf900 890px,#e9f800 900px,#d3f000 910px,#a9e200 920px,#93da00 930px,#82d500 940px,#67cd00 950px,#5dcb00 960px,#7cd300 970px,#a9e200 980px,#d0ef00 990px,#e8f700 1000px,#f8fd00 1010px,#fff900 1020px,#ffee00 1030px,#ffdf00 1040px,#ffd500 1050px,#ffd200 1060px,#ffd200 1070px)"></i><i style="top:280px;background:linear-gradient(90deg,#ffc000 0px,#ffc000 10px,#ffbf00 20px,#ffbe00 30px,#ffbd00 40px,#ffbd00 50px,#ffbe00 60px,#ffbf00 70px,#ffc200 80px,#ffc400 90px,#ffc700 100px,#ffc800 110px,#ffc800 120px,#ffc700 130px,#ffc400 140px,#ffc000 150px,#ffbe00 160px,#ffbd00 170px,#ffbd00 180px,#ffbe00 190px,#ffc000 200px,#ffc000 210px,#ffc100 220px,#ffc100 230px,#ffc100 240px,#ffc100 250px,#ffc100 260px,#ffc100 270px,#ffc300 280px,#ffc500 290px,#ffc700 300px,#ffc900 310px,#ffcb00 320px,#ffcc00 330px,#ffce00 340px,#ffd100 350px,#ffd500 360px,#ffdb00 370px,#ffdf00 380px,#ffe100 390px,#ffe100 400px,#ffdf00 410px,#ffdc00 420px,#ffd900 430px,#ffd500 440px,#ffd300 450px,#ffd300 460px,#ffd400 470px,#ffd700 480px,#ffdb00 490px,#ffde00 500px,#ffe000 510px,#ffe100 520px,#ffe200 530px,#ffe300 540px,#ffe500 550px,#ffe600 560px,#ffe900 570px,#ffec00 580px,#fff100 590px,#fff600 600px,#fffa00 610px,#fffe00 620px,#f9fd00 630px,#f2fb00 640px,#eef900 650px,#effa00 660px,#f2fb00 670px,#f7fc00 680px,#ffff00 690px,#fffb00 700px,#fff800 710px,#fff400 720px,#fff000 730px,#ffeb00 740px,#ffe500 750px,#ffdf00 760px,#ffd800 770px,#ffd100 780px,#ffcb00 790px,#ffc700 800px,#ffc500 810px,#ffc500 820px,#ffc800 830px,#ffcc00 840px,#ffd300 850px,#ffdd00 860px,#ffee00 870px,#ffff00 880px,#f5fc00 890px,#f8fd00 900px,#d5f100 910px,#9fde00 920px,#8bd800 930px,#7ad300 940px,#5bca00 950px,#47c400 960px,#5fcb00 970px,#81d500 980px,#a6e100 990px,#bee900 1000px,#c4eb00 1010px,#dbf300 1020px,#f9fd00 1030px,#fff300 1040px,#ffe800 1050px,#ffe600 1060px,#ffe600 1070px)"></i><i style="top:285px;background:linear-gradient(90deg,#ffbd00 0px,#ffbd00 10px,#ffbc00 20px,#ffbb00 30px,#ffbb00 40px,#ffbb00 50px,#ffbc00 60px,#ffbd00 70px,#ffbf00 80px,#ffc100 90px,#ffc300 100px,#ffc500 110px,#ffc600 120px,#ffc400 130px,#ffc200 140px,#ffbf00 150px,#ffbd00 160px,#ffbc00 170px,#ffbb00 180px,#ffbb00 190px,#ffbc00 200px,#ffbd00 210px,#ffbf00 220px,#ffc000 230px,#ffc000 240px,#ffc000 250px,#ffc000 260px,#ffc100 270px,#ffc300 280px,#ffc700 290px,#ffca00 300px,#ffcb00 310px,#ffcb00 320px,#ffca00 330px,#ffca00 340px,#ffcc00 350px,#ffd000 360px,#ffd600 370px,#ffdc00 380px,#ffdf00 390px,#ffe100 400px,#ffe100 410px,#ffdf00 420px,#ffdc00 430px,#ffd700 440px,#ffd400 450px,#ffd200 460px,#ffd200 470px,#ffd400 480px,#ffd700 490px,#ffd900 500px,#ffdb00 510px,#ffdc00 520px,#ffdd00 530px,#ffdf00 540px,#ffe400 550px,#ffe900 560px,#ffee00 570px,#fff100 580px,#fff200 590px,#fff400 600px,#fff600 610px,#fffa00 620px,#fffe00 630px,#f9fd00 640px,#f5fc00 650px,#f5fc00 660px,#fafd00 670px,#fffe00 680px,#fffb00 690px,#fff900 700px,#fff500 710px,#fff200 720px,#ffee00 730px,#ffea00 740px,#ffe500 750px,#ffe000 760px,#ffda00 770px,#ffd500 780px,#ffd100 790px,#ffce00 800px,#ffcc00 810px,#ffcd00 820px,#ffcf00 830px,#ffd100 840px,#ffd500 850px,#ffdb00 860px,#ffe500 870px,#fff100 880px,#fff700 890px,#fffc00 900px,#e0f500 910px,#aee300 920px,#8ad700 930px,#6ccf00 940px,#46c400 950px,#2dbd00 960px,#39c000 970px,#5dcb00 980px,#84d600 990px,#9fdf00 1000px,#a7e100 1010px,#b6e600 1020px,#d3f000 1030px,#fafd00 1040px,#fff800 1050px,#fff600 1060px,#fff600 1070px)"></i><i style="top:290px;background:linear-gradient(90deg,#ffb900 0px,#ffb900 10px,#ffb800 20px,#ffb800 30px,#ffb800 40px,#ffb900 50px,#ffb900 60px,#ffbb00 70px,#ffbc00 80px,#ffbe00 90px,#ffc000 100px,#ffc100 110px,#ffc200 120px,#ffc100 130px,#ffbf00 140px,#ffbd00 150px,#ffbb00 160px,#ffba00 170px,#ffba00 180px,#ffb900 190px,#ffb900 200px,#ffba00 210px,#ffbc00 220px,#ffbe00 230px,#ffbe00 240px,#ffbe00 250px,#ffbe00 260px,#ffbf00 270px,#ffc300 280px,#ffc700 290px,#ffcb00 300px,#ffcd00 310px,#ffcb00 320px,#ffc800 330px,#ffc500 340px,#ffc600 350px,#ffcb00 360px,#ffd100 370px,#ffd700 380px,#ffdc00 390px,#ffdf00 400px,#ffe000 410px,#ffe100 420px,#ffdd00 430px,#ffd700 440px,#ffd200 450px,#ffd000 460px,#ffcf00 470px,#ffd100 480px,#ffd300 490px,#ffd400 500px,#ffd600 510px,#ffd700 520px,#ffd800 530px,#ffdb00 540px,#ffe200 550px,#ffea00 560px,#fff100 570px,#fff300 580px,#fff200 590px,#fff100 600px,#fff100 610px,#fff400 620px,#fff900 630px,#fffd00 640px,#ffff00 650px,#fffe00 660px,#fffc00 670px,#fff900 680px,#fff600 690px,#fff500 700px,#fff200 710px,#ffef00 720px,#ffec00 730px,#ffe900 740px,#ffe500 750px,#ffe000 760px,#ffdc00 770px,#ffd800 780px,#ffd500 790px,#ffd300 800px,#ffd200 810px,#ffd200 820px,#ffd400 830px,#ffd400 840px,#ffd400 850px,#ffd400 860px,#ffd700 870px,#ffdd00 880px,#ffe800 890px,#fff500 900px,#f6fc00 910px,#caed00 920px,#91da00 930px,#61cc00 940px,#32be00 950px,#10b500 960px,#11b500 970px,#3ac100 980px,#6bcf00 990px,#8ad700 1000px,#95db00 1010px,#9dde00 1020px,#b8e700 1030px,#e0f400 1040px,#f6fc00 1050px,#f5fc00 1060px,#f5fc00 1070px)"></i><i style="top:295px;background:linear-gradient(90deg,#ffb500 0px,#ffb500 10px,#ffb500 20px,#ffb500 30px,#ffb500 40px,#ffb600 50px,#ffb700 60px,#ffb800 70px,#ffb900 80px,#ffba00 90px,#ffbc00 100px,#ffbc00 110px,#ffbd00 120px,#ffbd00 130px,#ffbc00 140px,#ffbb00 150px,#ffba00 160px,#ffba00 170px,#ffb800 180px,#ffb700 190px,#ffb700 200px,#ffb800 210px,#ffba00 220px,#ffbb00 230px,#ffbc00 240px,#ffbb00 250px,#ffbc00 260px,#ffbe00 270px,#ffc200 280px,#ffc600 290px,#ffca00 300px,#ffcc00 310px,#ffc900 320px,#ffc400 330px,#ffbf00 340px,#ffbe00 350px,#ffc400 360px,#ffcb00 370px,#ffd100 380px,#ffd600 390px,#ffda00 400px,#ffdd00 410px,#ffde00 420px,#ffdb00 430px,#ffd500 440px,#ffd000 450px,#ffcd00 460px,#ffcc00 470px,#ffcd00 480px,#ffcf00 490px,#ffd000 500px,#ffd100 510px,#ffd200 520px,#ffd300 530px,#ffd800 540px,#ffdf00 550px,#ffe900 560px,#fff100 570px,#fff300 580px,#fff000 590px,#ffed00 600px,#ffec00 610px,#fff000 620px,#fff500 630px,#fff800 640px,#fffa00 650px,#fffa00 660px,#fff800 670px,#fff400 680px,#fff200 690px,#fff000 700px,#ffef00 710px,#ffec00 720px,#ffea00 730px,#ffe800 740px,#ffe500 750px,#ffe000 760px,#ffdd00 770px,#ffdb00 780px,#ffd900 790px,#ffd700 800px,#ffd600 810px,#ffd600 820px,#ffd600 830px,#ffd500 840px,#ffd100 850px,#ffcd00 860px,#ffcb00 870px,#ffcf00 880px,#ffd900 890px,#ffe800 900px,#fff700 910px,#e9f800 920px,#a5e000 930px,#63cc00 940px,#28bb00 950px,#00ad05 960px,#01a80d 970px,#1db800 980px,#53c800 990px,#78d200 1000px,#87d600 1010px,#8bd800 1020px,#a1df00 1030px,#c4eb00 1040px,#d7f100 1050px,#d0ef00 1060px,#d0ef00 1070px)"></i><i style="top:300px;background:linear-gradient(90deg,#ffaf00 0px,#ffaf00 10px,#ffae00 20px,#ffae00 30px,#ffaf00 40px,#ffb100 50px,#ffb300 60px,#ffb500 70px,#ffb600 80px,#ffb700 90px,#ffb700 100px,#ffb700 110px,#ffb700 120px,#ffb800 130px,#ffb800 140px,#ffb900 150px,#ffb900 160px,#ffb900 170px,#ffb800 180px,#ffb700 190px,#ffb600 200px,#ffb600 210px,#ffb700 220px,#ffb800 230px,#ffb800 240px,#ffb800 250px,#ffba00 260px,#ffbc00 270px,#ffc000 280px,#ffc400 290px,#ffc800 300px,#ffc900 310px,#ffc600 320px,#ffc000 330px,#ffba00 340px,#ffb900 350px,#ffbc00 360px,#ffc300 370px,#ffca00 380px,#ffcf00 390px,#ffd300 400px,#ffd600 410px,#ffd800 420px,#ffd500 430px,#ffd100 440px,#ffcc00 450px,#ffc900 460px,#ffc900 470px,#ffca00 480px,#ffcb00 490px,#ffcd00 500px,#ffce00 510px,#ffcf00 520px,#ffd000 530px,#ffd500 540px,#ffdc00 550px,#ffe600 560px,#ffed00 570px,#fff000 580px,#ffee00 590px,#ffeb00 600px,#ffe900 610px,#ffec00 620px,#fff100 630px,#fff500 640px,#fff600 650px,#fff600 660px,#fff400 670px,#fff000 680px,#ffee00 690px,#ffed00 700px,#ffec00 710px,#ffea00 720px,#ffe900 730px,#ffe700 740px,#ffe500 750px,#ffe100 760px,#ffde00 770px,#ffdc00 780px,#ffda00 790px,#ffd900 800px,#ffd800 810px,#ffd700 820px,#ffd600 830px,#ffd300 840px,#ffce00 850px,#ffc800 860px,#ffc500 870px,#ffc900 880px,#ffcf00 890px,#ffd800 900px,#ffe800 910px,#fffd00 920px,#c3eb00 930px,#75d100 940px,#28bb00 950px,#01a710 960px,#039f1d 970px,#04b100 980px,#37c000 990px,#60cb00 1000px,#76d200 1010px,#7ed400 1020px,#86d600 1030px,#9cdd00 1040px,#ace300 1050px,#a7e100 1060px,#a7e100 1070px)"></i><i style="top:305px;background:linear-gradient(90deg,#ffa800 0px,#ffa800 10px,#ffa700 20px,#ffa700 30px,#ffa700 40px,#ffaa00 50px,#ffad00 60px,#ffb100 70px,#ffb300 80px,#ffb400 90px,#ffb200 100px,#ffb000 110px,#ffaf00 120px,#ffb100 130px,#ffb400 140px,#ffb700 150px,#ffb800 160px,#ffb900 170px,#ffb800 180px,#ffb700 190px,#ffb600 200px,#ffb500 210px,#ffb400 220px,#ffb400 230px,#ffb400 240px,#ffb500 250px,#ffb700 260px,#ffb900 270px,#ffbd00 280px,#ffc100 290px,#ffc400 300px,#ffc400 310px,#ffc100 320px,#ffbb00 330px,#ffb600 340px,#ffb300 350px,#ffb500 360px,#ffba00 370px,#ffc000 380px,#ffc600 390px,#ffcb00 400px,#ffce00 410px,#ffd000 420px,#ffce00 430px,#ffcb00 440px,#ffc800 450px,#ffc500 460px,#ffc600 470px,#ffc700 480px,#ffc900 490px,#ffca00 500px,#ffcb00 510px,#ffcc00 520px,#ffce00 530px,#ffd300 540px,#ffda00 550px,#ffe200 560px,#ffe900 570px,#ffec00 580px,#ffeb00 590px,#ffe800 600px,#ffe700 610px,#ffea00 620px,#ffee00 630px,#fff100 640px,#fff300 650px,#fff200 660px,#fff000 670px,#ffed00 680px,#ffeb00 690px,#ffea00 700px,#ffea00 710px,#ffe900 720px,#ffe800 730px,#ffe700 740px,#ffe500 750px,#ffe200 760px,#ffdf00 770px,#ffdd00 780px,#ffdb00 790px,#ffd900 800px,#ffd800 810px,#ffd700 820px,#ffd500 830px,#ffd200 840px,#ffcc00 850px,#ffc600 860px,#ffc100 870px,#ffc700 880px,#ffc800 890px,#ffca00 900px,#ffdb00 910px,#fff500 920px,#e5f600 930px,#88d700 940px,#26bb00 950px,#02a01b 960px,#04962d 970px,#02a414 980px,#18b700 990px,#42c300 1000px,#5dcb00 1010px,#6ace00 1020px,#64cd00 1030px,#70d000 1040px,#81d500 1050px,#80d400 1060px,#80d400 1070px)"></i><i style="top:310px;background:linear-gradient(90deg,#ffa200 0px,#ffa200 10px,#ffa000 20px,#ffa000 30px,#ffa000 40px,#ffa300 50px,#ffa700 60px,#ffac00 70px,#ffaf00 80px,#ffae00 90px,#ffaa00 100px,#ffa500 110px,#ffa300 120px,#ffa600 130px,#ffad00 140px,#ffb500 150px,#ffb800 160px,#ffb900 170px,#ffb900 180px,#ffb800 190px,#ffb600 200px,#ffb400 210px,#ffb000 220px,#ffad00 230px,#ffad00 240px,#ffb000 250px,#ffb400 260px,#ffb700 270px,#ffba00 280px,#ffbe00 290px,#ffc000 300px,#ffbf00 310px,#ffbc00 320px,#ffb600 330px,#ffae00 340px,#ffa800 350px,#ffa900 360px,#ffae00 370px,#ffb500 380px,#ffbb00 390px,#ffc100 400px,#ffc600 410px,#ffc700 420px,#ffc700 430px,#ffc500 440px,#ffc200 450px,#ffc000 460px,#ffc100 470px,#ffc400 480px,#ffc700 490px,#ffc900 500px,#ffc900 510px,#ffca00 520px,#ffcb00 530px,#ffd000 540px,#ffd700 550px,#ffde00 560px,#ffe500 570px,#ffe800 580px,#ffe800 590px,#ffe600 600px,#ffe500 610px,#ffe700 620px,#ffeb00 630px,#ffee00 640px,#fff000 650px,#ffef00 660px,#ffed00 670px,#ffea00 680px,#ffe800 690px,#ffe800 700px,#ffe900 710px,#ffe900 720px,#ffe800 730px,#ffe600 740px,#ffe400 750px,#ffe200 760px,#ffdf00 770px,#ffdd00 780px,#ffdb00 790px,#ffd900 800px,#ffd700 810px,#ffd600 820px,#ffd400 830px,#ffd100 840px,#ffcc00 850px,#ffc800 860px,#ffc400 870px,#ffc700 880px,#ffc600 890px,#ffc600 900px,#ffd300 910px,#ffe800 920px,#fbfe00 930px,#89d700 940px,#18b700 950px,#049431 960px,#068b41 970px,#049431 980px,#01a80e 990px,#1bb800 1000px,#3bc100 1010px,#44c300 1020px,#34bf00 1030px,#3fc200 1040px,#5cca00 1050px,#65cd00 1060px,#65cd00 1070px)"></i><i style="top:315px;background:linear-gradient(90deg,#ff9c00 0px,#ff9c00 10px,#ff9a00 20px,#ff9a00 30px,#ff9a00 40px,#ff9d00 50px,#ffa200 60px,#ffa800 70px,#ffab00 80px,#ffa900 90px,#ffa300 100px,#ff9c00 110px,#ff9800 120px,#ff9d00 130px,#ffa700 140px,#ffb200 150px,#ffb700 160px,#ffb900 170px,#ffb900 180px,#ffb800 190px,#ffb600 200px,#ffb200 210px,#ffab00 220px,#ffa700 230px,#ffa600 240px,#ffaa00 250px,#ffae00 260px,#ffb400 270px,#ffb700 280px,#ffba00 290px,#ffbb00 300px,#ffba00 310px,#ffb700 320px,#ffaf00 330px,#ffa500 340px,#ff9e00 350px,#ff9c00 360px,#ff9e00 370px,#ffa300 380px,#ffad00 390px,#ffb700 400px,#ffbb00 410px,#ffbe00 420px,#ffbe00 430px,#ffbd00 440px,#ffbc00 450px,#ffbb00 460px,#ffbd00 470px,#ffc100 480px,#ffc600 490px,#ffc800 500px,#ffc800 510px,#ffc800 520px,#ffc900 530px,#ffcd00 540px,#ffd400 550px,#ffdc00 560px,#ffe100 570px,#ffe500 580px,#ffe500 590px,#ffe300 600px,#ffe300 610px,#ffe500 620px,#ffe800 630px,#ffec00 640px,#ffee00 650px,#ffec00 660px,#ffea00 670px,#ffe700 680px,#ffe600 690px,#ffe700 700px,#ffe800 710px,#ffe800 720px,#ffe700 730px,#ffe600 740px,#ffe400 750px,#ffe100 760px,#ffde00 770px,#ffdc00 780px,#ffda00 790px,#ffd800 800px,#ffd600 810px,#ffd500 820px,#ffd200 830px,#ffd000 840px,#ffcd00 850px,#ffcb00 860px,#ffc900 870px,#ffc800 880px,#ffc800 890px,#ffc800 900px,#ffcd00 910px,#ffdc00 920px,#fffa00 930px,#82d500 940px,#03b100 950px,#06854a 960px,#078053 970px,#07854b 980px,#059234 990px,#01a80e 1000px,#14b600 1010px,#19b700 1020px,#00ae03 1030px,#0eb400 1040px,#41c200 1050px,#53c800 1060px,#53c800 1070px)"></i><i style="top:320px;background:linear-gradient(90deg,#ff9700 0px,#ff9700 10px,#ff9600 20px,#ff9600 30px,#ff9600 40px,#ff9900 50px,#ff9f00 60px,#ffa400 70px,#ffa700 80px,#ffa500 90px,#ff9d00 100px,#ff9500 110px,#ff9000 120px,#ff9600 130px,#ffa200 140px,#ffae00 150px,#ffb600 160px,#ffb800 170px,#ffb800 180px,#ffb700 190px,#ffb500 200px,#ffaf00 210px,#ffa700 220px,#ffa200 230px,#ffa100 240px,#ffa500 250px,#ffaa00 260px,#ffaf00 270px,#ffb400 280px,#ffb600 290px,#ffb700 300px,#ffb600 310px,#ffb000 320px,#ffa700 330px,#ff9d00 340px,#ff9600 350px,#ff9300 360px,#ff9300 370px,#ff9500 380px,#ff9d00 390px,#ffaa00 400px,#ffb300 410px,#ffb600 420px,#ffb700 430px,#ffb700 440px,#ffb600 450px,#ffb700 460px,#ffba00 470px,#ffbf00 480px,#ffc300 490px,#ffc600 500px,#ffc600 510px,#ffc600 520px,#ffc700 530px,#ffcb00 540px,#ffd200 550px,#ffd900 560px,#ffdf00 570px,#ffe200 580px,#ffe200 590px,#ffe100 600px,#ffe000 610px,#ffe200 620px,#ffe500 630px,#ffe900 640px,#ffeb00 650px,#ffe900 660px,#ffe700 670px,#ffe500 680px,#ffe400 690px,#ffe600 700px,#ffe700 710px,#ffe800 720px,#ffe600 730px,#ffe400 740px,#ffe200 750px,#ffe000 760px,#ffdd00 770px,#ffda00 780px,#ffd800 790px,#ffd600 800px,#ffd500 810px,#ffd300 820px,#ffd100 830px,#ffd000 840px,#ffce00 850px,#ffce00 860px,#ffcd00 870px,#ffc900 880px,#ffc900 890px,#ffc900 900px,#ffc800 910px,#ffd300 920px,#fff200 930px,#8cd800 940px,#05b100 950px,#078053 960px,#087d5a 970px,#087c5b 980px,#07854b 990px,#04972b 1000px,#01a80d 1010px,#01ac07 1020px,#04962d 1030px,#02a611 1040px,#34bf00 1050px,#47c400 1060px,#47c400 1070px)"></i><i style="top:325px;background:linear-gradient(90deg,#ff9400 0px,#ff9400 10px,#ff9300 20px,#ff9400 30px,#ff9500 40px,#ff9800 50px,#ff9d00 60px,#ffa100 70px,#ffa300 80px,#ffa000 90px,#ff9900 100px,#ff9200 110px,#ff8e00 120px,#ff9300 130px,#ff9e00 140px,#ffab00 150px,#ffb400 160px,#ffb600 170px,#ffb600 180px,#ffb500 190px,#ffb100 200px,#ffaa00 210px,#ffa400 220px,#ff9f00 230px,#ff9f00 240px,#ffa300 250px,#ffa800 260px,#ffac00 270px,#ffb000 280px,#ffb300 290px,#ffb200 300px,#ffaf00 310px,#ffa800 320px,#ff9f00 330px,#ff9700 340px,#ff9000 350px,#ff8d00 360px,#ff8c00 370px,#ff8e00 380px,#ff9500 390px,#ffa000 400px,#ffa900 410px,#ffae00 420px,#ffb100 430px,#ffb200 440px,#ffb200 450px,#ffb400 460px,#ffb700 470px,#ffbc00 480px,#ffc100 490px,#ffc300 500px,#ffc400 510px,#ffc300 520px,#ffc500 530px,#ffc900 540px,#ffd000 550px,#ffd700 560px,#ffdc00 570px,#ffdf00 580px,#ffdf00 590px,#ffdf00 600px,#ffde00 610px,#ffdf00 620px,#ffe200 630px,#ffe500 640px,#ffe600 650px,#ffe600 660px,#ffe500 670px,#ffe300 680px,#ffe400 690px,#ffe500 700px,#ffe600 710px,#ffe600 720px,#ffe500 730px,#ffe200 740px,#ffdf00 750px,#ffdd00 760px,#ffda00 770px,#ffd800 780px,#ffd600 790px,#ffd500 800px,#ffd300 810px,#ffd200 820px,#ffd000 830px,#ffcf00 840px,#ffcf00 850px,#ffcf00 860px,#ffce00 870px,#ffc900 880px,#ffc700 890px,#ffc600 900px,#ffc300 910px,#ffcc00 920px,#ffe800 930px,#b8e700 940px,#33bf00 950px,#049234 960px,#087c5a 970px,#087c5a 980px,#068845 990px,#049333 1000px,#04982a 1010px,#039d21 1020px,#049333 1030px,#02a513 1040px,#2fbd00 1050px,#3ec200 1060px,#3ec200 1070px)"></i><i style="top:330px;background:linear-gradient(90deg,#ff9300 0px,#ff9300 10px,#ff9200 20px,#ff9300 30px,#ff9500 40px,#ff9800 50px,#ff9c00 60px,#ff9f00 70px,#ffa000 80px,#ff9d00 90px,#ff9600 100px,#ff9000 110px,#ff8e00 120px,#ff9200 130px,#ff9d00 140px,#ffa800 150px,#ffb100 160px,#ffb400 170px,#ffb300 180px,#ffb000 190px,#ffab00 200px,#ffa600 210px,#ffa100 220px,#ff9e00 230px,#ff9f00 240px,#ffa200 250px,#ffa600 260px,#ffaa00 270px,#ffad00 280px,#ffad00 290px,#ffab00 300px,#ffa700 310px,#ffa100 320px,#ff9900 330px,#ff9200 340px,#ff8d00 350px,#ff8a00 360px,#ff8a00 370px,#ff8d00 380px,#ff9300 390px,#ff9b00 400px,#ffa300 410px,#ffa800 420px,#ffab00 430px,#ffac00 440px,#ffad00 450px,#ffaf00 460px,#ffb500 470px,#ffba00 480px,#ffbe00 490px,#ffc000 500px,#ffc100 510px,#ffc100 520px,#ffc300 530px,#ffc800 540px,#ffce00 550px,#ffd400 560px,#ffda00 570px,#ffdd00 580px,#ffdd00 590px,#ffdd00 600px,#ffdd00 610px,#ffdd00 620px,#ffdf00 630px,#ffe000 640px,#ffe200 650px,#ffe200 660px,#ffe200 670px,#ffe200 680px,#ffe300 690px,#ffe400 700px,#ffe500 710px,#ffe500 720px,#ffe300 730px,#ffdf00 740px,#ffdc00 750px,#ffd900 760px,#ffd700 770px,#ffd500 780px,#ffd400 790px,#ffd300 800px,#ffd100 810px,#ffd000 820px,#ffcf00 830px,#ffce00 840px,#ffce00 850px,#ffcf00 860px,#ffcd00 870px,#ffc700 880px,#ffc100 890px,#ffc100 900px,#ffbf00 910px,#ffc400 920px,#ffdd00 930px,#f5fc00 940px,#77d200 950px,#01ac07 960px,#07824f 970px,#078251 980px,#059235 990px,#04962e 1000px,#068a42 1010px,#04972c 1020px,#059038 1030px,#02a219 1040px,#25bb00 1050px,#27bb00 1060px,#27bb00 1070px)"></i><i style="top:335px;background:linear-gradient(90deg,#ff9100 0px,#ff9100 10px,#ff9100 20px,#ff9300 30px,#ff9500 40px,#ff9800 50px,#ff9b00 60px,#ff9d00 70px,#ff9d00 80px,#ff9a00 90px,#ff9400 100px,#ff8f00 110px,#ff8e00 120px,#ff9200 130px,#ff9c00 140px,#ffa600 150px,#ffad00 160px,#ffaf00 170px,#ffad00 180px,#ffa900 190px,#ffa400 200px,#ffa100 210px,#ff9f00 220px,#ff9e00 230px,#ff9f00 240px,#ffa300 250px,#ffa600 260px,#ffa900 270px,#ffaa00 280px,#ffa900 290px,#ffa500 300px,#ffa100 310px,#ff9b00 320px,#ff9500 330px,#ff9000 340px,#ff8c00 350px,#ff8a00 360px,#ff8b00 370px,#ff8e00 380px,#ff9300 390px,#ff9a00 400px,#ffa100 410px,#ffa600 420px,#ffa900 430px,#ffa900 440px,#ffaa00 450px,#ffad00 460px,#ffb300 470px,#ffb800 480px,#ffbc00 490px,#ffbe00 500px,#ffbf00 510px,#ffbf00 520px,#ffc100 530px,#ffc600 540px,#ffcc00 550px,#ffd300 560px,#ffd800 570px,#ffdb00 580px,#ffdc00 590px,#ffdb00 600px,#ffdb00 610px,#ffdb00 620px,#ffdc00 630px,#ffdd00 640px,#ffde00 650px,#ffdf00 660px,#ffe000 670px,#ffe100 680px,#ffe300 690px,#ffe400 700px,#ffe500 710px,#ffe400 720px,#ffe100 730px,#ffdd00 740px,#ffd800 750px,#ffd500 760px,#ffd300 770px,#ffd200 780px,#ffd200 790px,#ffd100 800px,#ffd000 810px,#ffce00 820px,#ffcd00 830px,#ffcc00 840px,#ffcc00 850px,#ffcd00 860px,#ffcb00 870px,#ffc200 880px,#ffbd00 890px,#ffbc00 900px,#ffbb00 910px,#ffbd00 920px,#ffd200 930px,#ffef00 940px,#b3e500 950px,#26bb00 960px,#059235 970px,#068846 980px,#059234 990px,#049431 1000px,#068747 1010px,#058f39 1020px,#078152 1030px,#068944 1040px,#02a414 1050px,#02a414 1060px,#02a414 1070px)"></i><i style="top:340px;background:linear-gradient(90deg,#ff9000 0px,#ff9000 10px,#ff9000 20px,#ff9200 30px,#ff9600 40px,#ff9900 50px,#ff9a00 60px,#ff9b00 70px,#ff9b00 80px,#ff9800 90px,#ff9300 100px,#ff8f00 110px,#ff8e00 120px,#ff9300 130px,#ff9b00 140px,#ffa400 150px,#ffaa00 160px,#ffab00 170px,#ffa700 180px,#ffa200 190px,#ff9d00 200px,#ff9c00 210px,#ff9d00 220px,#ff9e00 230px,#ffa000 240px,#ffa300 250px,#ffa600 260px,#ffa900 270px,#ffa800 280px,#ffa500 290px,#ffa000 300px,#ff9c00 310px,#ff9700 320px,#ff9300 330px,#ff8f00 340px,#ff8c00 350px,#ff8c00 360px,#ff8d00 370px,#ff9100 380px,#ff9600 390px,#ff9b00 400px,#ffa100 410px,#ffa600 420px,#ffa800 430px,#ffa800 440px,#ffa800 450px,#ffaa00 460px,#ffb100 470px,#ffb600 480px,#ffba00 490px,#ffbc00 500px,#ffbd00 510px,#ffbd00 520px,#ffbf00 530px,#ffc400 540px,#ffcb00 550px,#ffd100 560px,#ffd700 570px,#ffda00 580px,#ffda00 590px,#ffd900 600px,#ffd900 610px,#ffd900 620px,#ffd900 630px,#ffd900 640px,#ffda00 650px,#ffdc00 660px,#ffde00 670px,#ffe000 680px,#ffe200 690px,#ffe300 700px,#ffe400 710px,#ffe200 720px,#ffdf00 730px,#ffda00 740px,#ffd500 750px,#ffd100 760px,#ffcf00 770px,#ffcf00 780px,#ffcf00 790px,#ffcf00 800px,#ffce00 810px,#ffcc00 820px,#ffca00 830px,#ffca00 840px,#ffca00 850px,#ffc900 860px,#ffc600 870px,#ffbe00 880px,#ffb900 890px,#ffb900 900px,#ffb900 910px,#ffb900 920px,#ffc700 930px,#ffdf00 940px,#daf200 950px,#51c700 960px,#02a612 970px,#058c3e 980px,#068845 990px,#058c3e 1000px,#059136 1010px,#06864a 1020px,#096480 1030px,#085592 1040px,#09687a 1050px,#0a7070 1060px,#0a7070 1070px)"></i><i style="top:345px;background:linear-gradient(90deg,#ff8f00 0px,#ff8f00 10px,#ff8f00 20px,#ff9100 30px,#ff9400 40px,#ff9700 50px,#ff9800 60px,#ff9900 70px,#ff9800 80px,#ff9600 90px,#ff9200 100px,#ff8f00 110px,#ff8f00 120px,#ff9300 130px,#ff9a00 140px,#ffa200 150px,#ffa800 160px,#ffa700 170px,#ffa300 180px,#ff9d00 190px,#ff9800 200px,#ff9900 210px,#ff9b00 220px,#ff9e00 230px,#ffa100 240px,#ffa300 250px,#ffa600 260px,#ffa800 270px,#ffa600 280px,#ffa200 290px,#ff9d00 300px,#ff9800 310px,#ff9500 320px,#ff9300 330px,#ff9000 340px,#ff8f00 350px,#ff8f00 360px,#ff9100 370px,#ff9400 380px,#ff9800 390px,#ff9d00 400px,#ffa200 410px,#ffa700 420px,#ffa800 430px,#ffa700 440px,#ffa600 450px,#ffa900 460px,#ffaf00 470px,#ffb600 480px,#ffb900 490px,#ffbb00 500px,#ffbc00 510px,#ffbc00 520px,#ffbd00 530px,#ffc200 540px,#ffc900 550px,#ffd000 560px,#ffd500 570px,#ffd800 580px,#ffd800 590px,#ffd800 600px,#ffd700 610px,#ffd600 620px,#ffd600 630px,#ffd700 640px,#ffd800 650px,#ffda00 660px,#ffdd00 670px,#ffdf00 680px,#ffe100 690px,#ffe200 700px,#ffe200 710px,#ffe100 720px,#ffdd00 730px,#ffd700 740px,#ffd100 750px,#ffcc00 760px,#ffcb00 770px,#ffcc00 780px,#ffcd00 790px,#ffcd00 800px,#ffcb00 810px,#ffc900 820px,#ffc800 830px,#ffc700 840px,#ffc700 850px,#ffc600 860px,#ffc100 870px,#ffba00 880px,#ffb600 890px,#ffb800 900px,#ffb900 910px,#ffb600 920px,#ffbb00 930px,#ffd400 940px,#fcfe00 950px,#76d200 960px,#0eb400 970px,#049333 980px,#07824f 990px,#068845 1000px,#039d22 1010px,#07824f 1020px,#063fae 1030px,#0217e1 1040px,#021bdc 1050px,#0427cd 1060px,#0427cd 1070px)"></i><i style="top:350px;background:linear-gradient(90deg,#ff8e00 0px,#ff8e00 10px,#ff8e00 20px,#ff8f00 30px,#ff9100 40px,#ff9400 50px,#ff9500 60px,#ff9500 70px,#ff9500 80px,#ff9400 90px,#ff9100 100px,#ff8f00 110px,#ff8f00 120px,#ff9300 130px,#ff9900 140px,#ffa000 150px,#ffa400 160px,#ffa300 170px,#ff9f00 180px,#ff9a00 190px,#ff9700 200px,#ff9800 210px,#ff9b00 220px,#ff9e00 230px,#ffa100 240px,#ffa300 250px,#ffa500 260px,#ffa500 270px,#ffa300 280px,#ff9f00 290px,#ff9a00 300px,#ff9700 310px,#ff9500 320px,#ff9400 330px,#ff9300 340px,#ff9300 350px,#ff9300 360px,#ff9500 370px,#ff9700 380px,#ff9a00 390px,#ff9d00 400px,#ffa100 410px,#ffa500 420px,#ffa600 430px,#ffa500 440px,#ffa600 450px,#ffa900 460px,#ffaf00 470px,#ffb500 480px,#ffb800 490px,#ffba00 500px,#ffbb00 510px,#ffbb00 520px,#ffbc00 530px,#ffc100 540px,#ffc800 550px,#ffce00 560px,#ffd300 570px,#ffd600 580px,#ffd600 590px,#ffd500 600px,#ffd500 610px,#ffd400 620px,#ffd500 630px,#ffd500 640px,#ffd600 650px,#ffd900 660px,#ffdb00 670px,#ffdd00 680px,#ffdf00 690px,#ffe000 700px,#ffe000 710px,#ffde00 720px,#ffda00 730px,#ffd400 740px,#ffce00 750px,#ffca00 760px,#ffc800 770px,#ffc900 780px,#ffca00 790px,#ffca00 800px,#ffc900 810px,#ffc700 820px,#ffc500 830px,#ffc500 840px,#ffc400 850px,#ffc300 860px,#ffbe00 870px,#ffb900 880px,#ffb600 890px,#ffb600 900px,#ffb600 910px,#ffb200 920px,#ffb600 930px,#ffcd00 940px,#fff200 950px,#9bdd00 960px,#2dbd00 970px,#039f1d 980px,#068a43 990px,#059038 1000px,#02a11a 1010px,#07854b 1020px,#0536bb 1030px,#0100fe 1040px,#0300fb 1050px,#0004f9 1060px,#0004f9 1070px)"></i><i style="top:355px;background:linear-gradient(90deg,#ff8d00 0px,#ff8d00 10px,#ff8b00 20px,#ff8b00 30px,#ff8c00 40px,#ff8e00 50px,#ff8f00 60px,#ff9100 70px,#ff9100 80px,#ff9100 90px,#ff9000 100px,#ff8f00 110px,#ff8f00 120px,#ff9300 130px,#ff9800 140px,#ff9d00 150px,#ffa000 160px,#ff9f00 170px,#ff9c00 180px,#ff9800 190px,#ff9700 200px,#ff9800 210px,#ff9b00 220px,#ff9e00 230px,#ffa100 240px,#ffa200 250px,#ffa300 260px,#ffa200 270px,#ffa000 280px,#ff9c00 290px,#ff9900 300px,#ff9700 310px,#ff9600 320px,#ff9700 330px,#ff9800 340px,#ff9800 350px,#ff9800 360px,#ff9800 370px,#ff9900 380px,#ff9a00 390px,#ff9c00 400px,#ff9f00 410px,#ffa200 420px,#ffa300 430px,#ffa400 440px,#ffa600 450px,#ffa900 460px,#ffb000 470px,#ffb500 480px,#ffb800 490px,#ffba00 500px,#ffba00 510px,#ffba00 520px,#ffbc00 530px,#ffc000 540px,#ffc700 550px,#ffcc00 560px,#ffd100 570px,#ffd300 580px,#ffd400 590px,#ffd300 600px,#ffd300 610px,#ffd300 620px,#ffd300 630px,#ffd400 640px,#ffd600 650px,#ffd800 660px,#ffda00 670px,#ffdc00 680px,#ffdd00 690px,#ffde00 700px,#ffde00 710px,#ffdc00 720px,#ffd800 730px,#ffd200 740px,#ffcc00 750px,#ffc800 760px,#ffc500 770px,#ffc500 780px,#ffc600 790px,#ffc700 800px,#ffc600 810px,#ffc400 820px,#ffc300 830px,#ffc200 840px,#ffc200 850px,#ffc100 860px,#ffbe00 870px,#ffb900 880px,#ffb600 890px,#ffb600 900px,#ffb300 910px,#ffac00 920px,#ffb200 930px,#ffc500 940px,#ffe200 950px,#caed00 960px,#50c700 970px,#02b100 980px,#04962e 990px,#04962e 1000px,#02a317 1010px,#068944 1020px,#0536bb 1030px,#0300fb 1040px,#0400fa 1050px,#0200fd 1060px,#0200fd 1070px)"></i><i style="top:360px;background:linear-gradient(90deg,#ff8b00 0px,#ff8b00 10px,#ff8800 20px,#ff8700 30px,#ff8600 40px,#ff8700 50px,#ff8900 60px,#ff8b00 70px,#ff8d00 80px,#ff8e00 90px,#ff8e00 100px,#ff8e00 110px,#ff8f00 120px,#ff9200 130px,#ff9600 140px,#ff9a00 150px,#ff9d00 160px,#ff9c00 170px,#ff9a00 180px,#ff9800 190px,#ff9700 200px,#ff9800 210px,#ff9b00 220px,#ff9e00 230px,#ffa100 240px,#ffa100 250px,#ffa000 260px,#ff9f00 270px,#ff9c00 280px,#ff9a00 290px,#ff9800 300px,#ff9700 310px,#ff9800 320px,#ff9a00 330px,#ff9d00 340px,#ff9e00 350px,#ff9c00 360px,#ff9b00 370px,#ff9900 380px,#ff9900 390px,#ff9a00 400px,#ff9c00 410px,#ff9e00 420px,#ffa000 430px,#ffa200 440px,#ffa500 450px,#ffaa00 460px,#ffb000 470px,#ffb500 480px,#ffb800 490px,#ffba00 500px,#ffba00 510px,#ffba00 520px,#ffbb00 530px,#ffbf00 540px,#ffc500 550px,#ffcb00 560px,#ffcf00 570px,#ffd100 580px,#ffd200 590px,#ffd100 600px,#ffd100 610px,#ffd100 620px,#ffd300 630px,#ffd400 640px,#ffd600 650px,#ffd700 660px,#ffd900 670px,#ffda00 680px,#ffdb00 690px,#ffdc00 700px,#ffdc00 710px,#ffda00 720px,#ffd600 730px,#ffd000 740px,#ffcb00 750px,#ffc600 760px,#ffc300 770px,#ffc300 780px,#ffc300 790px,#ffc300 800px,#ffc200 810px,#ffc200 820px,#ffc100 830px,#ffc100 840px,#ffc100 850px,#ffc100 860px,#ffbf00 870px,#ffba00 880px,#ffb700 890px,#ffb500 900px,#ffb000 910px,#ffa700 920px,#ffab00 930px,#ffbc00 940px,#ffd400 950px,#fffc00 960px,#83d500 970px,#2abc00 980px,#039e1f 990px,#058d3d 1000px,#049431 1010px,#087d59 1020px,#042ec5 1030px,#0200fc 1040px,#0200fc 1050px,#0400fa 1060px,#0400fa 1070px)"></i><i style="top:365px;background:linear-gradient(90deg,#ff8900 0px,#ff8900 10px,#ff8500 20px,#ff8300 30px,#ff8100 40px,#ff8100 50px,#ff8300 60px,#ff8600 70px,#ff8900 80px,#ff8b00 90px,#ff8d00 100px,#ff8e00 110px,#ff8f00 120px,#ff9200 130px,#ff9500 140px,#ff9800 150px,#ff9a00 160px,#ff9a00 170px,#ff9900 180px,#ff9800 190px,#ff9800 200px,#ff9900 210px,#ff9c00 220px,#ff9f00 230px,#ffa000 240px,#ffa000 250px,#ff9e00 260px,#ff9c00 270px,#ff9900 280px,#ff9800 290px,#ff9700 300px,#ff9700 310px,#ff9a00 320px,#ff9e00 330px,#ffa100 340px,#ffa300 350px,#ffa000 360px,#ff9d00 370px,#ff9a00 380px,#ff9800 390px,#ff9900 400px,#ff9a00 410px,#ff9b00 420px,#ff9d00 430px,#ffa000 440px,#ffa400 450px,#ffaa00 460px,#ffb000 470px,#ffb600 480px,#ffb900 490px,#ffba00 500px,#ffba00 510px,#ffba00 520px,#ffbb00 530px,#ffbe00 540px,#ffc400 550px,#ffca00 560px,#ffce00 570px,#ffd000 580px,#ffd000 590px,#ffcf00 600px,#ffcf00 610px,#ffd000 620px,#ffd200 630px,#ffd400 640px,#ffd600 650px,#ffd700 660px,#ffd800 670px,#ffd800 680px,#ffd900 690px,#ffda00 700px,#ffda00 710px,#ffd800 720px,#ffd500 730px,#ffcf00 740px,#ffc900 750px,#ffc400 760px,#ffc100 770px,#ffc100 780px,#ffc000 790px,#ffc000 800px,#ffc000 810px,#ffc000 820px,#ffbf00 830px,#ffc000 840px,#ffc100 850px,#ffc100 860px,#ffbf00 870px,#ffbc00 880px,#ffb800 890px,#ffb600 900px,#ffaf00 910px,#ffa200 920px,#ffa400 930px,#ffb500 940px,#ffc800 950px,#ffe200 960px,#d4f000 970px,#59c900 980px,#02a11b 990px,#097468 1000px,#0a6a78 1010px,#074e9c 1020px,#031cdb 1030px,#0100fd 1040px,#0400f9 1050px,#0a00f3 1060px,#0a00f3 1070px)"></i><i style="top:370px;background:linear-gradient(90deg,#ff8700 0px,#ff8700 10px,#ff8300 20px,#ff7f00 30px,#ff7c00 40px,#ff7b00 50px,#ff7e00 60px,#ff8200 70px,#ff8500 80px,#ff8900 90px,#ff8b00 100px,#ff8d00 110px,#ff8f00 120px,#ff9100 130px,#ff9400 140px,#ff9700 150px,#ff9800 160px,#ff9800 170px,#ff9800 180px,#ff9700 190px,#ff9800 200px,#ff9900 210px,#ff9c00 220px,#ff9f00 230px,#ffa000 240px,#ff9e00 250px,#ff9c00 260px,#ff9900 270px,#ff9700 280px,#ff9600 290px,#ff9600 300px,#ff9800 310px,#ff9b00 320px,#ffa000 330px,#ffa500 340px,#ffa600 350px,#ffa300 360px,#ff9e00 370px,#ff9900 380px,#ff9700 390px,#ff9700 400px,#ff9700 410px,#ff9800 420px,#ff9a00 430px,#ff9e00 440px,#ffa300 450px,#ffa900 460px,#ffaf00 470px,#ffb500 480px,#ffb900 490px,#ffba00 500px,#ffba00 510px,#ffb900 520px,#ffba00 530px,#ffbd00 540px,#ffc300 550px,#ffc900 560px,#ffcd00 570px,#ffce00 580px,#ffcf00 590px,#ffce00 600px,#ffce00 610px,#ffcf00 620px,#ffd200 630px,#ffd500 640px,#ffd700 650px,#ffd700 660px,#ffd700 670px,#ffd700 680px,#ffd800 690px,#ffd900 700px,#ffd900 710px,#ffd700 720px,#ffd400 730px,#ffce00 740px,#ffc900 750px,#ffc300 760px,#ffc100 770px,#ffc000 780px,#ffbf00 790px,#ffbf00 800px,#ffbf00 810px,#ffbe00 820px,#ffbe00 830px,#ffc000 840px,#ffc100 850px,#ffc200 860px,#ffc000 870px,#ffbe00 880px,#ffba00 890px,#ffb700 900px,#ffb300 910px,#ff9f00 920px,#ffa000 930px,#ffad00 940px,#ffbc00 950px,#ffd100 960px,#fff800 970px,#80d500 980px,#02a01c 990px,#074aa0 1000px,#042ec5 1010px,#0217e2 1020px,#0107f6 1030px,#0300fb 1040px,#0900f4 1050px,#1200e9 1060px,#1200e9 1070px)"></i><i style="top:375px;background:linear-gradient(90deg,#ff8500 0px,#ff8500 10px,#ff8000 20px,#ff7900 30px,#ff7400 40px,#ff7200 50px,#ff7700 60px,#ff7d00 70px,#ff8300 80px,#ff8700 90px,#ff8a00 100px,#ff8d00 110px,#ff8f00 120px,#ff9100 130px,#ff9400 140px,#ff9600 150px,#ff9700 160px,#ff9700 170px,#ff9700 180px,#ff9600 190px,#ff9700 200px,#ff9900 210px,#ff9b00 220px,#ff9e00 230px,#ff9f00 240px,#ff9d00 250px,#ff9b00 260px,#ff9800 270px,#ff9600 280px,#ff9600 290px,#ff9600 300px,#ff9800 310px,#ff9c00 320px,#ffa000 330px,#ffa500 340px,#ffa700 350px,#ffa300 360px,#ff9e00 370px,#ff9a00 380px,#ff9700 390px,#ff9600 400px,#ff9600 410px,#ff9700 420px,#ff9900 430px,#ff9c00 440px,#ffa100 450px,#ffa700 460px,#ffad00 470px,#ffb400 480px,#ffb800 490px,#ffba00 500px,#ffb900 510px,#ffb900 520px,#ffba00 530px,#ffbd00 540px,#ffc300 550px,#ffc800 560px,#ffcc00 570px,#ffce00 580px,#ffce00 590px,#ffcd00 600px,#ffcd00 610px,#ffcf00 620px,#ffd200 630px,#ffd500 640px,#ffd700 650px,#ffd700 660px,#ffd700 670px,#ffd600 680px,#ffd700 690px,#ffd800 700px,#ffd800 710px,#ffd600 720px,#ffd300 730px,#ffce00 740px,#ffc900 750px,#ffc400 760px,#ffc100 770px,#ffc000 780px,#ffc000 790px,#ffbf00 800px,#ffbf00 810px,#ffbe00 820px,#ffbe00 830px,#ffc000 840px,#ffc300 850px,#ffc500 860px,#ffc400 870px,#ffc100 880px,#ffbc00 890px,#ffb800 900px,#ffb500 910px,#ffa400 920px,#ffa100 930px,#ffaa00 940px,#ffba00 950px,#ffcf00 960px,#fff400 970px,#88d700 980px,#02a219 990px,#063fae 1000px,#010eed 1010px,#0200fc 1020px,#0300fc 1030px,#0600f8 1040px,#0f00ec 1050px,#1d00db 1060px,#1d00db 1070px)"></i><i style="top:380px;background:linear-gradient(90deg,#ff8300 0px,#ff8300 10px,#ff7d00 20px,#ff7300 30px,#ff6c00 40px,#ff6a00 50px,#ff6f00 60px,#ff7800 70px,#ff8000 80px,#ff8500 90px,#ff8900 100px,#ff8c00 110px,#ff8f00 120px,#ff9100 130px,#ff9400 140px,#ff9600 150px,#ff9700 160px,#ff9700 170px,#ff9600 180px,#ff9500 190px,#ff9600 200px,#ff9700 210px,#ff9a00 220px,#ff9c00 230px,#ff9d00 240px,#ff9c00 250px,#ff9a00 260px,#ff9700 270px,#ff9600 280px,#ff9600 290px,#ff9700 300px,#ff9800 310px,#ff9c00 320px,#ffa000 330px,#ffa300 340px,#ffa400 350px,#ffa200 360px,#ff9e00 370px,#ff9a00 380px,#ff9700 390px,#ff9600 400px,#ff9600 410px,#ff9600 420px,#ff9800 430px,#ff9a00 440px,#ff9e00 450px,#ffa400 460px,#ffaa00 470px,#ffb200 480px,#ffb600 490px,#ffb800 500px,#ffb800 510px,#ffb900 520px,#ffba00 530px,#ffbd00 540px,#ffc200 550px,#ffc800 560px,#ffcb00 570px,#ffcd00 580px,#ffcd00 590px,#ffcd00 600px,#ffcd00 610px,#ffcf00 620px,#ffd200 630px,#ffd400 640px,#ffd600 650px,#ffd700 660px,#ffd700 670px,#ffd600 680px,#ffd700 690px,#ffd700 700px,#ffd700 710px,#ffd600 720px,#ffd300 730px,#ffce00 740px,#ffc900 750px,#ffc500 760px,#ffc300 770px,#ffc200 780px,#ffc200 790px,#ffc100 800px,#ffc000 810px,#ffbf00 820px,#ffbf00 830px,#ffc100 840px,#ffc500 850px,#ffc900 860px,#ffc900 870px,#ffc300 880px,#ffbe00 890px,#ffbb00 900px,#ffb600 910px,#ffae00 920px,#ffa600 930px,#ffad00 940px,#ffc000 950px,#ffd800 960px,#fffe00 970px,#80d400 980px,#01ab09 990px,#075297 1000px,#010af2 1010px,#0400fa 1020px,#0300fc 1030px,#0700f6 1040px,#1700e3 1050px,#2a00cb 1060px,#2a00cb 1070px)"></i><i style="top:385px;background:linear-gradient(90deg,#ff8200 0px,#ff8200 10px,#ff7900 20px,#ff6d00 30px,#ff6400 40px,#ff6200 50px,#ff6800 60px,#ff7300 70px,#ff7e00 80px,#ff8400 90px,#ff8900 100px,#ff8c00 110px,#ff8f00 120px,#ff9200 130px,#ff9400 140px,#ff9600 150px,#ff9700 160px,#ff9600 170px,#ff9500 180px,#ff9400 190px,#ff9400 200px,#ff9600 210px,#ff9800 220px,#ff9a00 230px,#ff9b00 240px,#ff9b00 250px,#ff9900 260px,#ff9800 270px,#ff9600 280px,#ff9600 290px,#ff9700 300px,#ff9800 310px,#ff9b00 320px,#ff9e00 330px,#ffa000 340px,#ffa100 350px,#ff9f00 360px,#ff9c00 370px,#ff9900 380px,#ff9700 390px,#ff9600 400px,#ff9600 410px,#ff9600 420px,#ff9700 430px,#ff9900 440px,#ff9b00 450px,#ffa000 460px,#ffa600 470px,#ffae00 480px,#ffb400 490px,#ffb600 500px,#ffb700 510px,#ffb800 520px,#ffba00 530px,#ffbd00 540px,#ffc300 550px,#ffc800 560px,#ffcb00 570px,#ffcd00 580px,#ffcd00 590px,#ffcd00 600px,#ffcd00 610px,#ffcf00 620px,#ffd200 630px,#ffd400 640px,#ffd600 650px,#ffd700 660px,#ffd700 670px,#ffd600 680px,#ffd700 690px,#ffd700 700px,#ffd700 710px,#ffd600 720px,#ffd300 730px,#ffcf00 740px,#ffcb00 750px,#ffc700 760px,#ffc500 770px,#ffc500 780px,#ffc500 790px,#ffc300 800px,#ffc100 810px,#ffbf00 820px,#ffbf00 830px,#ffc200 840px,#ffc700 850px,#ffcb00 860px,#ffcc00 870px,#ffc500 880px,#ffbe00 890px,#ffbc00 900px,#ffb800 910px,#ffb500 920px,#ffac00 930px,#ffb200 940px,#ffc700 950px,#ffe300 960px,#e1f500 970px,#83d500 980px,#19b700 990px,#0a6f71 1000px,#0213e7 1010px,#0200fd 1020px,#0100fe 1030px,#0800f5 1040px,#1e00da 1050px,#3600bc 1060px,#3600bc 1070px)"></i><i style="top:390px;background:linear-gradient(90deg,#ff8100 0px,#ff8100 10px,#ff7600 20px,#ff6800 30px,#ff5d00 40px,#ff5b00 50px,#ff6200 60px,#ff6f00 70px,#ff7d00 80px,#ff8400 90px,#ff8800 100px,#ff8c00 110px,#ff8f00 120px,#ff9200 130px,#ff9400 140px,#ff9600 150px,#ff9700 160px,#ff9600 170px,#ff9400 180px,#ff9200 190px,#ff9200 200px,#ff9400 210px,#ff9600 220px,#ff9900 230px,#ff9a00 240px,#ff9a00 250px,#ff9900 260px,#ff9800 270px,#ff9700 280px,#ff9600 290px,#ff9700 300px,#ff9800 310px,#ff9a00 320px,#ff9c00 330px,#ff9d00 340px,#ff9d00 350px,#ff9c00 360px,#ff9b00 370px,#ff9900 380px,#ff9700 390px,#ff9700 400px,#ff9600 410px,#ff9700 420px,#ff9700 430px,#ff9700 440px,#ff9900 450px,#ff9c00 460px,#ffa300 470px,#ffaa00 480px,#ffb100 490px,#ffb500 500px,#ffb600 510px,#ffb700 520px,#ffb900 530px,#ffbd00 540px,#ffc300 550px,#ffc800 560px,#ffcc00 570px,#ffcd00 580px,#ffcd00 590px,#ffcd00 600px,#ffcd00 610px,#ffcf00 620px,#ffd200 630px,#ffd500 640px,#ffd600 650px,#ffd700 660px,#ffd700 670px,#ffd700 680px,#ffd700 690px,#ffd700 700px,#ffd700 710px,#ffd600 720px,#ffd300 730px,#ffd000 740px,#ffcc00 750px,#ffc900 760px,#ffc800 770px,#ffc800 780px,#ffc800 790px,#ffc700 800px,#ffc400 810px,#ffc000 820px,#ffbf00 830px,#ffc200 840px,#ffc800 850px,#ffcc00 860px,#ffcd00 870px,#ffc600 880px,#ffbf00 890px,#ffbd00 900px,#ffba00 910px,#ffb700 920px,#ffb000 930px,#ffb500 940px,#ffca00 950px,#ffeb00 960px,#d2f000 970px,#a3e000 980px,#50c700 990px,#068846 1000px,#0320d6 1010px,#0100fd 1020px,#0100fe 1030px,#0b00f2 1040px,#2400d2 1050px,#3e00b1 1060px,#3e00b1 1070px)"></i><i style="top:395px;background:linear-gradient(90deg,#ff8000 0px,#ff8000 10px,#ff7300 20px,#ff6400 30px,#ff5700 40px,#ff5400 50px,#ff5d00 60px,#ff6c00 70px,#ff7b00 80px,#ff8300 90px,#ff8800 100px,#ff8c00 110px,#ff8f00 120px,#ff9200 130px,#ff9400 140px,#ff9600 150px,#ff9700 160px,#ff9600 170px,#ff9300 180px,#ff9100 190px,#ff9000 200px,#ff9200 210px,#ff9500 220px,#ff9700 230px,#ff9900 240px,#ff9900 250px,#ff9800 260px,#ff9800 270px,#ff9700 280px,#ff9700 290px,#ff9700 300px,#ff9800 310px,#ff9900 320px,#ff9900 330px,#ff9900 340px,#ff9900 350px,#ff9900 360px,#ff9900 370px,#ff9800 380px,#ff9700 390px,#ff9700 400px,#ff9700 410px,#ff9700 420px,#ff9700 430px,#ff9600 440px,#ff9700 450px,#ff9900 460px,#ff9f00 470px,#ffa700 480px,#ffae00 490px,#ffb300 500px,#ffb500 510px,#ffb700 520px,#ffb900 530px,#ffbd00 540px,#ffc300 550px,#ffc800 560px,#ffcc00 570px,#ffce00 580px,#ffcd00 590px,#ffcd00 600px,#ffcd00 610px,#ffcf00 620px,#ffd200 630px,#ffd500 640px,#ffd700 650px,#ffd700 660px,#ffd700 670px,#ffd700 680px,#ffd700 690px,#ffd700 700px,#ffd700 710px,#ffd700 720px,#ffd400 730px,#ffd100 740px,#ffcd00 750px,#ffcb00 760px,#ffca00 770px,#ffca00 780px,#ffca00 790px,#ffc900 800px,#ffc600 810px,#ffc200 820px,#ffbf00 830px,#ffc100 840px,#ffc800 850px,#ffcc00 860px,#ffcd00 870px,#ffc500 880px,#ffbf00 890px,#ffbe00 900px,#ffbd00 910px,#ffb800 920px,#ffb400 930px,#ffb700 940px,#ffcb00 950px,#fff000 960px,#c7ec00 970px,#cfef00 980px,#8ad700 990px,#02a01c 1000px,#0429ca 1010px,#0000ff 1020px,#0100fe 1030px,#0d00ef 1040px,#2900cc 1050px,#4500a9 1060px,#4500a9 1070px)"></i><i style="top:400px;background:linear-gradient(90deg,#ff7f00 0px,#ff7f00 10px,#ff7200 20px,#ff6200 30px,#ff5600 40px,#ff5200 50px,#ff5c00 60px,#ff6a00 70px,#ff7a00 80px,#ff8300 90px,#ff8700 100px,#ff8b00 110px,#ff8e00 120px,#ff9100 130px,#ff9400 140px,#ff9600 150px,#ff9700 160px,#ff9500 170px,#ff9300 180px,#ff9000 190px,#ff8f00 200px,#ff9100 210px,#ff9400 220px,#ff9600 230px,#ff9800 240px,#ff9800 250px,#ff9800 260px,#ff9700 270px,#ff9700 280px,#ff9700 290px,#ff9700 300px,#ff9700 310px,#ff9800 320px,#ff9800 330px,#ff9800 340px,#ff9800 350px,#ff9800 360px,#ff9800 370px,#ff9800 380px,#ff9700 390px,#ff9700 400px,#ff9700 410px,#ff9700 420px,#ff9600 430px,#ff9600 440px,#ff9600 450px,#ff9800 460px,#ff9e00 470px,#ffa500 480px,#ffac00 490px,#ffb200 500px,#ffb500 510px,#ffb700 520px,#ffb900 530px,#ffbd00 540px,#ffc300 550px,#ffc800 560px,#ffcc00 570px,#ffce00 580px,#ffce00 590px,#ffcd00 600px,#ffcd00 610px,#ffcf00 620px,#ffd200 630px,#ffd500 640px,#ffd700 650px,#ffd700 660px,#ffd700 670px,#ffd700 680px,#ffd700 690px,#ffd700 700px,#ffd700 710px,#ffd700 720px,#ffd500 730px,#ffd100 740px,#ffce00 750px,#ffcc00 760px,#ffcb00 770px,#ffcb00 780px,#ffcb00 790px,#ffca00 800px,#ffc700 810px,#ffc200 820px,#ffc000 830px,#ffc200 840px,#ffc700 850px,#ffcc00 860px,#ffcc00 870px,#ffc500 880px,#ffbf00 890px,#ffbf00 900px,#ffbe00 910px,#ffb800 920px,#ffb600 930px,#ffb900 940px,#ffcc00 950px,#fff100 960px,#cbed00 970px,#dcf300 980px,#9bdd00 990px,#01a90c 1000px,#0534bd 1010px,#0005f8 1020px,#0100fe 1030px,#0e00ed 1040px,#2b00c9 1050px,#4700a6 1060px,#4700a6 1070px)"></i><i style="top:405px;background:linear-gradient(90deg,#ff7f00 0px,#ff7f00 10px,#ff7200 20px,#ff6200 30px,#ff5600 40px,#ff5200 50px,#ff5c00 60px,#ff6a00 70px,#ff7a00 80px,#ff8300 90px,#ff8700 100px,#ff8b00 110px,#ff8e00 120px,#ff9100 130px,#ff9400 140px,#ff9600 150px,#ff9700 160px,#ff9500 170px,#ff9300 180px,#ff9000 190px,#ff8f00 200px,#ff9100 210px,#ff9400 220px,#ff9600 230px,#ff9800 240px,#ff9800 250px,#ff9800 260px,#ff9700 270px,#ff9700 280px,#ff9700 290px,#ff9700 300px,#ff9700 310px,#ff9800 320px,#ff9800 330px,#ff9800 340px,#ff9800 350px,#ff9800 360px,#ff9800 370px,#ff9800 380px,#ff9700 390px,#ff9700 400px,#ff9700 410px,#ff9700 420px,#ff9600 430px,#ff9600 440px,#ff9600 450px,#ff9800 460px,#ff9e00 470px,#ffa500 480px,#ffac00 490px,#ffb200 500px,#ffb500 510px,#ffb700 520px,#ffb900 530px,#ffbd00 540px,#ffc300 550px,#ffc800 560px,#ffcc00 570px,#ffce00 580px,#ffce00 590px,#ffcd00 600px,#ffcd00 610px,#ffcf00 620px,#ffd200 630px,#ffd500 640px,#ffd700 650px,#ffd700 660px,#ffd700 670px,#ffd700 680px,#ffd700 690px,#ffd700 700px,#ffd700 710px,#ffd700 720px,#ffd500 730px,#ffd100 740px,#ffce00 750px,#ffcc00 760px,#ffcb00 770px,#ffcb00 780px,#ffcb00 790px,#ffca00 800px,#ffc700 810px,#ffc200 820px,#ffc000 830px,#ffc200 840px,#ffc700 850px,#ffcc00 860px,#ffcc00 870px,#ffc500 880px,#ffbf00 890px,#ffbf00 900px,#ffbe00 910px,#ffb800 920px,#ffb600 930px,#ffb900 940px,#ffcc00 950px,#fff100 960px,#cbed00 970px,#dcf300 980px,#9bdd00 990px,#01a90c 1000px,#0534bd 1010px,#0005f8 1020px,#0100fe 1030px,#0e00ed 1040px,#2b00c9 1050px,#4700a6 1060px,#4700a6 1070px)"></i></div></div>
<div id="cbar"></div>
<svg width="1356" height="1000" style="position:absolute;left:0;top:0">
<defs><clipPath id="mc"><rect x="178" y="288" width="1047" height="389"/></clipPath></defs>
<g clip-path="url(#mc)">
<polygon points="899,288 911,297 929,304 942,308 957,315 968,318 983,322 999,314 1008,314 1022,319 1033,330 1047,342 1061,349 1072,351 1080,356 1092,359 1110,358 1116,362 1112,364 1120,372 1140,390 1140,406 1148,412 1154,408 1170,424 1172,430 1182,435 1200,438 1214,450 1226,448 1226,421 1206,426 1194,422 1188,414 1180,406 1171,390 1174,370 1176,348 1178,330 1168,320 1156,317 1136,317 1120,320 1104,322 1093,317 1100,310 1103,296 1103,287 899,287" fill="none" stroke="#fff" stroke-width="7" stroke-linejoin="miter"/>
<polygon points="1226,561 1219.9,561.2 1218.7,571.4 1213.3,573.8 1215.1,584 1213.9,592.4 1218.7,597.2 1226,604 1226,610 1215.1,615.2 1206.7,622.4 1207.3,632 1210.3,644 1212.7,647.5 1210.3,650 1219.9,654.7 1226,659" fill="none" stroke="#fff" stroke-width="7" stroke-linejoin="miter"/>
<rect x="1052.5" y="568" width="9" height="7" fill="#fff"/>
<polygon points="899,288 911,297 929,304 942,308 957,315 968,318 983,322 999,314 1008,314 1022,319 1033,330 1047,342 1061,349 1072,351 1080,356 1092,359 1110,358 1116,362 1112,364 1120,372 1140,390 1140,406 1148,412 1154,408 1170,424 1172,430 1182,435 1200,438 1214,450 1226,448 1226,421 1206,426 1194,422 1188,414 1180,406 1171,390 1174,370 1176,348 1178,330 1168,320 1156,317 1136,317 1120,320 1104,322 1093,317 1100,310 1103,296 1103,287 899,287" fill="#808080" stroke="#000" stroke-width="1"/>
<polygon points="1055,557 1064,569 1060,575 1054,571 1059,568 1054,564" fill="#808080" stroke="#000" stroke-width="1"/>
<polygon points="1226,561 1219.9,561.2 1218.7,571.4 1213.3,573.8 1215.1,584 1213.9,592.4 1218.7,597.2 1226,604 1226,610 1215.1,615.2 1206.7,622.4 1207.3,632 1210.3,644 1212.7,647.5 1210.3,650 1219.9,654.7 1226,659" fill="#808080" stroke="#000" stroke-width="1"/>
<line x1="188" y1="332" x2="1225" y2="332" stroke="#000" stroke-width="1.4" stroke-dasharray="1,3" />
<line x1="188" y1="408" x2="1225" y2="408" stroke="#000" stroke-width="1.4" stroke-dasharray="1,3" />
<line x1="188" y1="483.5" x2="1225" y2="483.5" stroke="#000" stroke-width="1.4" stroke-dasharray="1,3" />
<line x1="188" y1="558.7" x2="1225" y2="558.7" stroke="#000" stroke-width="1.4" stroke-dasharray="1,3" />
<line x1="188" y1="634" x2="1225" y2="634" stroke="#000" stroke-width="1.4" stroke-dasharray="1,3" />
<line x1="401.5" y1="290.5" x2="401.5" y2="677" stroke="#000" stroke-width="1.2" stroke-dasharray="1,3" />
<line x1="626.7" y1="290.5" x2="626.7" y2="677" stroke="#000" stroke-width="1.2" stroke-dasharray="1,3" />
<line x1="852" y1="290.5" x2="852" y2="677" stroke="#000" stroke-width="1.2" stroke-dasharray="1,3" />
<line x1="1077.2" y1="290.5" x2="1077.2" y2="677" stroke="#000" stroke-width="1.2" stroke-dasharray="1,3" />
</g>
<rect x="176" y="286" width="1051" height="393" fill="none" stroke="#000" stroke-width="4"/>
<rect x="178" y="330" width="8" height="4" fill="#000"/>
<rect x="1217" y="330" width="8" height="4" fill="#000"/>
<rect x="178" y="406" width="8" height="4" fill="#000"/>
<rect x="1217" y="406" width="8" height="4" fill="#000"/>
<rect x="178" y="481.5" width="8" height="4" fill="#000"/>
<rect x="1217" y="481.5" width="8" height="4" fill="#000"/>
<rect x="178" y="556.7" width="8" height="4" fill="#000"/>
<rect x="1217" y="556.7" width="8" height="4" fill="#000"/>
<rect x="178" y="632" width="8" height="4" fill="#000"/>
<rect x="1217" y="632" width="8" height="4" fill="#000"/>
<rect x="399.3" y="288" width="4" height="8" fill="#000"/>
<rect x="399.3" y="669" width="4" height="8" fill="#000"/>
<rect x="624.5" y="288" width="4" height="8" fill="#000"/>
<rect x="624.5" y="669" width="4" height="8" fill="#000"/>
<rect x="849.8" y="288" width="4" height="8" fill="#000"/>
<rect x="849.8" y="669" width="4" height="8" fill="#000"/>
<rect x="1075" y="288" width="4" height="8" fill="#000"/>
<rect x="1075" y="669" width="4" height="8" fill="#000"/>
<line x1="244.7" y1="720" x2="244.7" y2="730" stroke="#222" stroke-width="1"/>
<line x1="384.7" y1="720" x2="384.7" y2="730" stroke="#222" stroke-width="1"/>
<line x1="524.7" y1="720" x2="524.7" y2="730" stroke="#222" stroke-width="1"/>
<line x1="664.7" y1="720" x2="664.7" y2="730" stroke="#222" stroke-width="1"/>
<line x1="804.7" y1="720" x2="804.7" y2="730" stroke="#222" stroke-width="1"/>
<line x1="944.7" y1="720" x2="944.7" y2="730" stroke="#222" stroke-width="1"/>
<line x1="1084.7" y1="720" x2="1084.7" y2="730" stroke="#222" stroke-width="1"/>
<line x1="1224.7" y1="720" x2="1224.7" y2="730" stroke="#222" stroke-width="1"/>
<rect x="174.5" y="711.5" width="1050.5" height="19" fill="none" stroke="#222" stroke-width="1"/>
</svg>
<div class="yl" style="top:324.8px">15<sup>o</sup>N</div>
<div class="yl" style="top:400.8px">10<sup>o</sup>N</div>
<div class="yl" style="top:476.3px">5<sup>o</sup>N</div>
<div class="yl" style="top:551.5px;right:1190.0px">0<sup>o</sup></div>
<div class="yl" style="top:626.8px">5<sup>o</sup>S</div>
<div class="xl" style="left:126.6px">150<sup>o</sup>W</div>
<div class="xl" style="left:351.8px">135<sup>o</sup>W</div>
<div class="xl" style="left:577.0px">120<sup>o</sup>W</div>
<div class="xl" style="left:802.3px">105<sup>o</sup>W</div>
<div class="xl" style="left:1027.5px">90<sup>o</sup>W</div>
<div class="cl" style="left:214.9px">18</div>
<div class="cl" style="left:354.9px">20</div>
<div class="cl" style="left:494.9px">22</div>
<div class="cl" style="left:634.9px">24</div>
<div class="cl" style="left:774.9px">26</div>
<div class="cl" style="left:914.9px">28</div>
<div class="cl" style="left:1054.9px">30</div>
<div class="cl" style="left:1194.9px">32</div>
<div id="degc"><span style="font-size:13px;vertical-align:3px">&#176;</span>C</div>
</body></html>
